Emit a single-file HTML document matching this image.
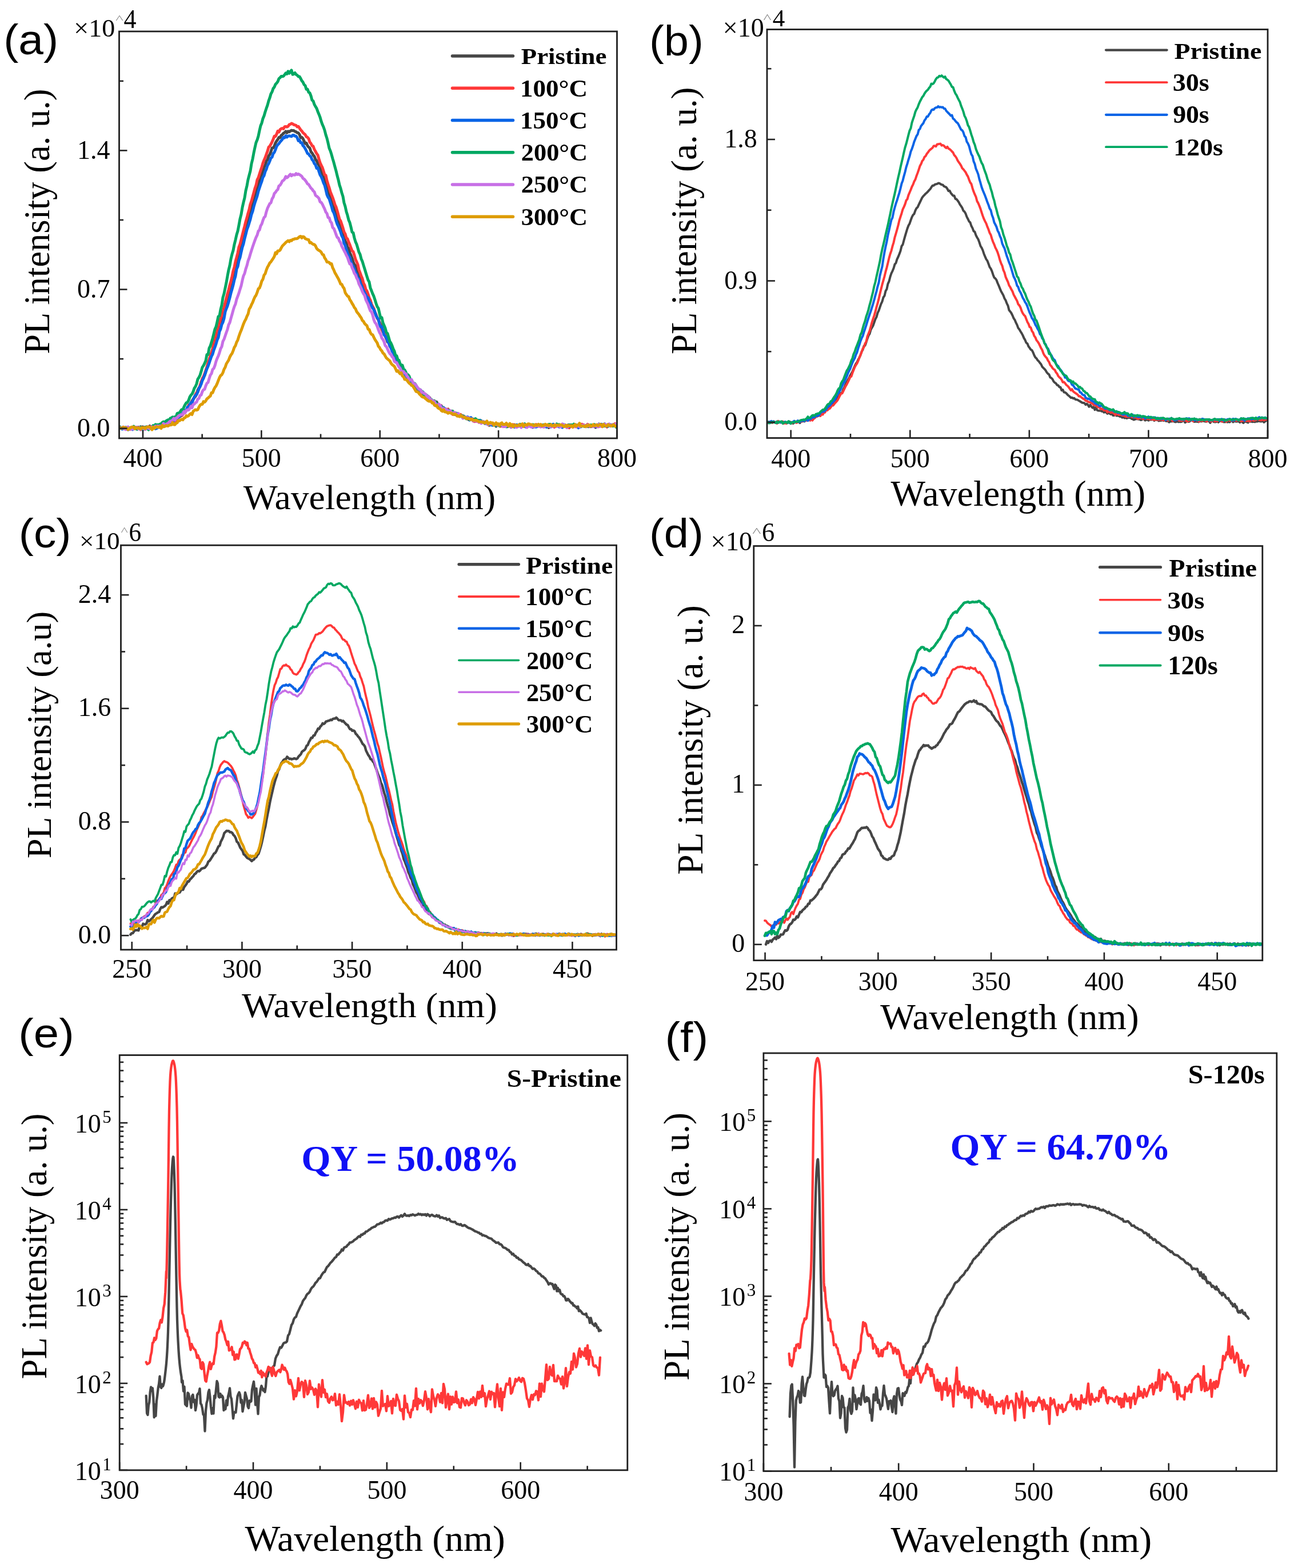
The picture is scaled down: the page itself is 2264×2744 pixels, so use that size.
<!DOCTYPE html>
<html><head><meta charset="utf-8"><title>PL spectra</title>
<style>html,body{margin:0;padding:0;background:#fff;} svg{display:block;}</style></head>
<body><svg xmlns="http://www.w3.org/2000/svg" width="2264" height="2744" viewBox="0 0 2264 2744">
<rect width="2264" height="2744" fill="#fff"/>
<clipPath id="c1"><rect x="208.50" y="55.00" width="871.00" height="712.00"/></clipPath>
<g clip-path="url(#c1)">
<polyline points="210.0,749.3 212.0,749.7 214.0,749.0 216.0,748.2 218.0,748.7 220.0,748.0 222.0,749.4 224.0,751.1 226.0,748.7 228.0,748.5 230.0,750.0 232.0,749.8 234.0,749.5 236.0,748.1 238.0,749.3 240.0,750.2 242.0,747.6 244.0,748.7 246.0,746.8 248.0,747.6 250.0,746.9 252.0,748.9 254.0,747.5 256.0,749.5 258.0,749.2 260.0,748.7 262.0,745.5 264.0,747.9 266.0,748.3 268.0,748.3 270.0,745.9 272.0,747.0 274.0,746.0 276.0,745.9 278.0,747.9 280.0,745.0 282.0,745.6 284.0,746.2 286.0,743.7 288.0,743.7 290.0,743.3 292.0,742.5 294.0,740.0 296.0,740.8 298.0,741.6 300.0,736.8 302.0,738.8 304.0,736.6 306.0,734.4 308.0,736.5 310.0,733.4 312.0,729.3 314.0,729.3 316.0,728.2 318.0,725.4 320.0,724.5 322.0,721.4 324.0,720.2 326.0,718.8 328.0,713.6 330.0,712.1 332.0,708.4 334.0,706.3 336.0,701.4 338.0,698.9 340.0,695.9 342.0,693.6 344.0,690.0 346.0,682.7 348.0,679.0 350.0,676.4 352.0,668.2 354.0,665.2 356.0,660.6 358.0,657.1 360.0,650.9 362.0,643.9 364.0,638.1 366.0,632.3 368.0,628.5 370.0,619.6 372.0,613.4 374.0,607.7 376.0,600.5 378.0,593.8 380.0,586.0 382.0,580.7 384.0,573.5 386.0,568.9 388.0,561.5 390.0,553.9 392.0,547.9 394.0,539.7 396.0,534.5 398.0,525.9 400.0,519.3 402.0,509.4 404.0,503.9 406.0,493.5 408.0,485.2 410.0,479.4 412.0,470.5 414.0,463.8 416.0,458.4 418.0,446.3 420.0,438.6 422.0,431.8 424.0,424.4 426.0,415.9 428.0,408.4 430.0,402.1 432.0,394.4 434.0,385.1 436.0,379.0 438.0,371.9 440.0,363.3 442.0,358.0 444.0,349.5 446.0,345.1 448.0,337.3 450.0,330.6 452.0,323.3 454.0,317.7 456.0,309.2 458.0,304.4 460.0,300.6 462.0,291.8 464.0,290.2 466.0,281.6 468.0,279.9 470.0,273.0 472.0,270.5 474.0,265.3 476.0,259.0 478.0,258.8 480.0,255.4 482.0,250.1 484.0,246.7 486.0,244.1 488.0,240.5 490.0,240.9 492.0,236.8 494.0,235.6 496.0,233.1 498.0,232.0 500.0,230.0 502.0,232.4 504.0,229.8 506.0,230.7 508.0,229.2 510.0,228.1 512.0,228.6 514.0,228.6 516.0,230.0 518.0,230.7 520.0,232.2 522.0,232.6 524.0,235.4 526.0,240.8 528.0,240.3 530.0,242.4 532.0,246.9 534.0,251.1 536.0,250.3 538.0,254.9 540.0,257.5 542.0,259.1 544.0,265.5 546.0,267.8 548.0,271.3 550.0,273.7 552.0,278.9 554.0,281.4 556.0,286.0 558.0,289.1 560.0,293.7 562.0,302.0 564.0,304.8 566.0,311.2 568.0,316.4 570.0,321.6 572.0,327.3 574.0,334.6 576.0,339.3 578.0,345.4 580.0,351.5 582.0,358.9 584.0,364.2 586.0,369.7 588.0,374.4 590.0,379.3 592.0,388.2 594.0,394.1 596.0,398.5 598.0,405.1 600.0,411.1 602.0,416.7 604.0,422.2 606.0,425.6 608.0,433.2 610.0,434.6 612.0,442.2 614.0,446.6 616.0,452.0 618.0,458.4 620.0,463.0 622.0,464.8 624.0,469.3 626.0,477.8 628.0,480.6 630.0,487.0 632.0,493.1 634.0,494.8 636.0,499.0 638.0,506.8 640.0,511.1 642.0,515.3 644.0,520.2 646.0,523.5 648.0,527.0 650.0,533.2 652.0,536.6 654.0,540.1 656.0,547.4 658.0,551.1 660.0,556.3 662.0,559.0 664.0,563.9 666.0,568.0 668.0,572.7 670.0,578.6 672.0,581.8 674.0,587.7 676.0,592.1 678.0,598.6 680.0,598.5 682.0,605.7 684.0,608.5 686.0,612.7 688.0,614.9 690.0,620.1 692.0,625.6 694.0,628.4 696.0,632.4 698.0,635.7 700.0,641.3 702.0,643.4 704.0,644.0 706.0,649.4 708.0,651.0 710.0,652.4 712.0,658.9 714.0,664.1 716.0,665.1 718.0,666.0 720.0,668.6 722.0,673.6 724.0,674.4 726.0,676.3 728.0,678.1 730.0,680.1 732.0,682.9 734.0,684.3 736.0,685.5 738.0,685.5 740.0,689.1 742.0,689.2 744.0,693.0 746.0,691.5 748.0,694.6 750.0,696.3 752.0,696.1 754.0,701.7 756.0,702.9 758.0,701.9 760.0,705.0 762.0,705.9 764.0,703.4 766.0,708.5 768.0,709.4 770.0,710.9 772.0,710.7 774.0,712.9 776.0,714.2 778.0,717.1 780.0,717.1 782.0,717.8 784.0,720.8 786.0,719.1 788.0,720.2 790.0,719.3 792.0,724.6 794.0,724.7 796.0,725.5 798.0,726.0 800.0,726.0 802.0,726.9 804.0,727.0 806.0,727.8 808.0,728.8 810.0,731.4 812.0,730.8 814.0,730.6 816.0,730.5 818.0,731.0 820.0,734.5 822.0,733.6 824.0,733.6 826.0,733.6 828.0,733.2 830.0,735.1 832.0,736.8 834.0,735.7 836.0,736.5 838.0,737.0 840.0,738.0 842.0,736.3 844.0,738.6 846.0,738.3 848.0,741.0 850.0,739.3 852.0,741.5 854.0,743.2 856.0,741.2 858.0,741.2 860.0,742.5 862.0,742.6 864.0,741.6 866.0,743.7 868.0,746.0 870.0,743.2 872.0,743.4 874.0,742.5 876.0,744.4 878.0,742.5 880.0,742.9 882.0,746.1 884.0,743.4 886.0,746.0 888.0,746.7 890.0,745.2 892.0,745.6 894.0,747.5 896.0,744.8 898.0,744.3 900.0,743.4 902.0,745.3 904.0,747.2 906.0,746.5 908.0,744.1 910.0,744.3 912.0,744.7 914.0,745.8 916.0,745.2 918.0,745.7 920.0,745.9 922.0,745.1 924.0,745.4 926.0,745.8 928.0,745.4 930.0,746.2 932.0,747.9 934.0,746.3 936.0,745.6 938.0,743.3 940.0,746.0 942.0,743.0 944.0,743.7 946.0,746.6 948.0,746.4 950.0,745.3 952.0,743.3 954.0,745.0 956.0,744.6 958.0,746.3 960.0,748.4 962.0,745.8 964.0,744.5 966.0,744.0 968.0,745.4 970.0,745.2 972.0,744.0 974.0,745.6 976.0,744.0 978.0,746.9 980.0,746.8 982.0,746.8 984.0,744.8 986.0,746.1 988.0,745.2 990.0,744.9 992.0,744.9 994.0,743.7 996.0,743.5 998.0,746.4 1000.0,745.1 1002.0,745.6 1004.0,746.6 1006.0,743.0 1008.0,744.2 1010.0,745.5 1012.0,745.7 1014.0,744.7 1016.0,746.5 1018.0,745.4 1020.0,743.6 1022.0,743.9 1024.0,746.1 1026.0,745.7 1028.0,742.6 1030.0,746.7 1032.0,745.7 1034.0,746.7 1036.0,744.4 1038.0,744.4 1040.0,743.3 1042.0,748.0 1044.0,744.5 1046.0,746.7 1048.0,743.7 1050.0,744.7 1052.0,742.3 1054.0,743.9 1056.0,745.6 1058.0,742.6 1060.0,745.6 1062.0,744.5 1064.0,742.7 1066.0,743.3 1068.0,743.3 1070.0,743.8 1072.0,743.1 1074.0,742.6 1076.0,743.2 1078.0,742.3" fill="none" stroke="#464646" stroke-width="5.0" stroke-linejoin="round" stroke-linecap="round"/>
<polyline points="210.0,747.6 212.0,749.2 214.0,750.5 216.0,747.3 218.0,749.3 220.0,748.5 222.0,748.1 224.0,750.4 226.0,748.7 228.0,751.3 230.0,748.3 232.0,749.9 234.0,749.1 236.0,748.4 238.0,750.1 240.0,749.1 242.0,750.1 244.0,749.2 246.0,747.9 248.0,749.1 250.0,749.3 252.0,750.5 254.0,748.0 256.0,749.0 258.0,746.8 260.0,749.8 262.0,747.4 264.0,746.3 266.0,748.4 268.0,749.7 270.0,746.1 272.0,746.4 274.0,746.6 276.0,745.8 278.0,747.4 280.0,745.4 282.0,745.1 284.0,746.3 286.0,744.1 288.0,745.0 290.0,742.6 292.0,741.5 294.0,740.0 296.0,743.9 298.0,740.2 300.0,739.9 302.0,738.5 304.0,737.6 306.0,736.2 308.0,737.3 310.0,732.0 312.0,729.8 314.0,728.8 316.0,726.6 318.0,727.4 320.0,725.5 322.0,721.0 324.0,718.2 326.0,717.1 328.0,716.8 330.0,708.6 332.0,710.1 334.0,704.9 336.0,704.5 338.0,698.3 340.0,695.7 342.0,690.3 344.0,687.0 346.0,685.9 348.0,680.7 350.0,674.4 352.0,669.0 354.0,662.5 356.0,659.1 358.0,654.0 360.0,648.1 362.0,642.0 364.0,634.4 366.0,629.1 368.0,622.3 370.0,617.0 372.0,610.5 374.0,600.7 376.0,592.6 378.0,586.3 380.0,578.5 382.0,571.2 384.0,565.2 386.0,556.9 388.0,552.2 390.0,544.3 392.0,537.7 394.0,529.9 396.0,521.9 398.0,514.1 400.0,507.4 402.0,499.2 404.0,492.2 406.0,483.8 408.0,473.9 410.0,467.6 412.0,457.5 414.0,450.3 416.0,442.6 418.0,432.3 420.0,427.2 422.0,419.5 424.0,411.4 426.0,403.4 428.0,395.9 430.0,387.6 432.0,381.0 434.0,373.1 436.0,366.4 438.0,357.3 440.0,351.9 442.0,344.5 444.0,337.1 446.0,329.7 448.0,324.2 450.0,314.7 452.0,311.0 454.0,304.5 456.0,298.4 458.0,292.5 460.0,285.3 462.0,280.2 464.0,275.8 466.0,270.2 468.0,264.7 470.0,257.6 472.0,255.7 474.0,252.3 476.0,248.3 478.0,243.7 480.0,238.3 482.0,238.7 484.0,234.7 486.0,229.3 488.0,231.1 490.0,226.7 492.0,225.2 494.0,224.5 496.0,225.4 498.0,221.8 500.0,221.4 502.0,222.2 504.0,221.0 506.0,218.1 508.0,217.4 510.0,215.9 512.0,216.7 514.0,218.3 516.0,218.8 518.0,219.4 520.0,222.0 522.0,221.3 524.0,224.1 526.0,227.2 528.0,229.2 530.0,232.2 532.0,233.9 534.0,235.6 536.0,239.2 538.0,240.3 540.0,242.6 542.0,248.6 544.0,251.1 546.0,255.0 548.0,256.0 550.0,261.4 552.0,265.0 554.0,268.7 556.0,271.2 558.0,278.3 560.0,284.7 562.0,289.1 564.0,293.1 566.0,299.3 568.0,305.8 570.0,306.8 572.0,316.0 574.0,322.5 576.0,328.5 578.0,335.6 580.0,340.7 582.0,345.6 584.0,351.5 586.0,358.0 588.0,362.3 590.0,368.9 592.0,376.2 594.0,383.5 596.0,386.8 598.0,392.8 600.0,398.9 602.0,405.9 604.0,409.5 606.0,416.4 608.0,418.0 610.0,423.5 612.0,428.0 614.0,433.8 616.0,438.8 618.0,440.5 620.0,446.6 622.0,453.8 624.0,458.2 626.0,462.9 628.0,472.1 630.0,477.3 632.0,483.1 634.0,487.6 636.0,495.3 638.0,499.2 640.0,506.5 642.0,509.3 644.0,514.7 646.0,521.3 648.0,525.4 650.0,532.2 652.0,536.7 654.0,540.2 656.0,546.4 658.0,550.6 660.0,557.0 662.0,559.7 664.0,564.6 666.0,571.3 668.0,577.1 670.0,581.2 672.0,583.0 674.0,587.5 676.0,593.4 678.0,595.3 680.0,598.3 682.0,603.7 684.0,608.1 686.0,610.4 688.0,613.2 690.0,617.4 692.0,624.0 694.0,626.0 696.0,630.6 698.0,634.9 700.0,639.2 702.0,641.7 704.0,646.4 706.0,648.0 708.0,652.1 710.0,654.4 712.0,660.3 714.0,661.7 716.0,663.5 718.0,666.5 720.0,669.1 722.0,672.6 724.0,671.8 726.0,674.6 728.0,677.4 730.0,683.1 732.0,682.9 734.0,683.2 736.0,686.0 738.0,689.4 740.0,688.1 742.0,689.5 744.0,693.1 746.0,693.8 748.0,695.6 750.0,695.6 752.0,700.4 754.0,701.7 756.0,701.7 758.0,703.4 760.0,701.4 762.0,706.3 764.0,706.6 766.0,708.8 768.0,710.4 770.0,710.4 772.0,709.9 774.0,713.8 776.0,713.5 778.0,715.2 780.0,715.9 782.0,717.3 784.0,715.8 786.0,721.4 788.0,721.1 790.0,723.1 792.0,725.2 794.0,723.5 796.0,722.0 798.0,723.9 800.0,724.3 802.0,726.0 804.0,727.5 806.0,725.5 808.0,729.2 810.0,727.5 812.0,730.4 814.0,730.5 816.0,730.9 818.0,731.7 820.0,731.7 822.0,732.2 824.0,731.3 826.0,734.0 828.0,737.0 830.0,737.7 832.0,737.4 834.0,737.2 836.0,735.9 838.0,739.2 840.0,737.8 842.0,738.3 844.0,738.5 846.0,739.5 848.0,739.3 850.0,740.3 852.0,739.4 854.0,740.8 856.0,744.6 858.0,741.9 860.0,742.0 862.0,743.3 864.0,743.8 866.0,741.7 868.0,743.1 870.0,744.7 872.0,744.0 874.0,744.0 876.0,746.0 878.0,743.2 880.0,744.3 882.0,743.7 884.0,746.4 886.0,742.0 888.0,743.8 890.0,744.1 892.0,745.7 894.0,745.7 896.0,746.8 898.0,743.0 900.0,746.1 902.0,744.8 904.0,744.3 906.0,745.9 908.0,744.1 910.0,742.6 912.0,744.8 914.0,743.4 916.0,744.5 918.0,745.9 920.0,745.8 922.0,747.5 924.0,745.2 926.0,743.5 928.0,744.5 930.0,744.3 932.0,743.9 934.0,746.1 936.0,744.7 938.0,742.9 940.0,746.4 942.0,745.4 944.0,746.0 946.0,745.6 948.0,746.3 950.0,745.6 952.0,747.1 954.0,746.1 956.0,746.0 958.0,746.0 960.0,743.6 962.0,745.3 964.0,745.1 966.0,745.7 968.0,743.7 970.0,747.6 972.0,745.6 974.0,743.9 976.0,743.2 978.0,745.1 980.0,745.3 982.0,744.5 984.0,745.5 986.0,744.6 988.0,746.1 990.0,744.4 992.0,745.3 994.0,746.6 996.0,748.7 998.0,744.0 1000.0,744.7 1002.0,744.2 1004.0,746.3 1006.0,743.8 1008.0,744.6 1010.0,745.2 1012.0,743.9 1014.0,744.0 1016.0,744.6 1018.0,742.4 1020.0,743.2 1022.0,744.6 1024.0,745.3 1026.0,744.8 1028.0,742.7 1030.0,744.4 1032.0,746.0 1034.0,745.6 1036.0,744.8 1038.0,743.7 1040.0,745.6 1042.0,744.0 1044.0,743.2 1046.0,743.6 1048.0,746.5 1050.0,744.8 1052.0,746.0 1054.0,743.8 1056.0,745.5 1058.0,743.5 1060.0,744.0 1062.0,747.3 1064.0,745.0 1066.0,743.3 1068.0,743.8 1070.0,744.2 1072.0,745.3 1074.0,743.1 1076.0,741.4 1078.0,743.2" fill="none" stroke="#ff3838" stroke-width="5.0" stroke-linejoin="round" stroke-linecap="round"/>
<polyline points="210.0,749.3 212.0,749.5 214.0,751.0 216.0,749.7 218.0,750.4 220.0,747.9 222.0,750.5 224.0,752.1 226.0,750.3 228.0,749.7 230.0,749.6 232.0,751.7 234.0,748.2 236.0,749.2 238.0,750.0 240.0,750.3 242.0,748.8 244.0,749.7 246.0,749.0 248.0,749.5 250.0,749.1 252.0,747.8 254.0,749.2 256.0,750.3 258.0,747.8 260.0,748.6 262.0,749.6 264.0,747.2 266.0,748.6 268.0,746.7 270.0,749.2 272.0,750.4 274.0,749.7 276.0,746.4 278.0,747.2 280.0,745.9 282.0,745.4 284.0,746.7 286.0,742.3 288.0,744.7 290.0,742.6 292.0,743.7 294.0,741.2 296.0,739.2 298.0,739.5 300.0,739.0 302.0,737.0 304.0,736.4 306.0,733.8 308.0,730.3 310.0,732.8 312.0,731.0 314.0,728.7 316.0,726.8 318.0,726.2 320.0,722.4 322.0,720.0 324.0,718.5 326.0,718.0 328.0,712.2 330.0,713.0 332.0,707.9 334.0,704.5 336.0,704.5 338.0,699.5 340.0,694.6 342.0,692.2 344.0,690.0 346.0,686.3 348.0,679.9 350.0,676.5 352.0,672.3 354.0,665.7 356.0,662.1 358.0,656.5 360.0,650.7 362.0,645.5 364.0,640.9 366.0,635.4 368.0,629.1 370.0,623.6 372.0,619.9 374.0,612.8 376.0,607.6 378.0,601.9 380.0,594.9 382.0,590.7 384.0,580.2 386.0,575.9 388.0,567.9 390.0,564.1 392.0,557.2 394.0,545.7 396.0,540.2 398.0,535.4 400.0,528.5 402.0,521.2 404.0,512.8 406.0,506.0 408.0,498.6 410.0,489.7 412.0,483.2 414.0,470.8 416.0,466.5 418.0,456.2 420.0,450.7 422.0,441.3 424.0,432.6 426.0,426.6 428.0,417.5 430.0,410.1 432.0,401.9 434.0,396.7 436.0,390.3 438.0,383.8 440.0,375.3 442.0,369.9 444.0,361.6 446.0,354.7 448.0,348.9 450.0,343.0 452.0,334.8 454.0,328.7 456.0,322.8 458.0,317.3 460.0,310.3 462.0,307.3 464.0,300.2 466.0,296.2 468.0,289.6 470.0,286.4 472.0,281.8 474.0,276.3 476.0,275.1 478.0,268.8 480.0,266.6 482.0,261.8 484.0,256.2 486.0,253.3 488.0,251.4 490.0,248.4 492.0,246.2 494.0,243.8 496.0,240.3 498.0,241.1 500.0,237.5 502.0,240.1 504.0,238.1 506.0,237.8 508.0,238.2 510.0,238.8 512.0,236.6 514.0,236.5 516.0,238.2 518.0,238.2 520.0,241.1 522.0,246.3 524.0,245.0 526.0,249.7 528.0,249.7 530.0,254.7 532.0,256.8 534.0,260.2 536.0,264.0 538.0,268.6 540.0,269.6 542.0,272.6 544.0,274.3 546.0,279.4 548.0,281.5 550.0,286.2 552.0,288.4 554.0,294.4 556.0,293.5 558.0,299.9 560.0,306.0 562.0,309.3 564.0,313.9 566.0,320.0 568.0,324.2 570.0,331.9 572.0,340.8 574.0,345.1 576.0,348.1 578.0,354.4 580.0,360.9 582.0,368.7 584.0,372.3 586.0,378.3 588.0,386.3 590.0,392.1 592.0,396.3 594.0,401.1 596.0,406.2 598.0,412.9 600.0,416.5 602.0,425.9 604.0,429.5 606.0,436.4 608.0,443.5 610.0,447.9 612.0,450.1 614.0,457.9 616.0,463.4 618.0,465.9 620.0,470.7 622.0,476.7 624.0,479.6 626.0,488.3 628.0,487.9 630.0,494.1 632.0,499.5 634.0,503.8 636.0,508.4 638.0,512.5 640.0,515.7 642.0,521.3 644.0,520.9 646.0,527.4 648.0,530.3 650.0,535.3 652.0,539.3 654.0,541.8 656.0,546.3 658.0,552.4 660.0,556.1 662.0,559.1 664.0,567.1 666.0,572.0 668.0,571.7 670.0,578.6 672.0,586.0 674.0,588.4 676.0,592.2 678.0,596.2 680.0,600.2 682.0,605.0 684.0,608.8 686.0,614.7 688.0,617.4 690.0,621.4 692.0,624.3 694.0,629.7 696.0,632.4 698.0,637.1 700.0,642.3 702.0,644.9 704.0,648.5 706.0,651.6 708.0,654.4 710.0,657.2 712.0,659.8 714.0,663.9 716.0,664.1 718.0,669.6 720.0,670.2 722.0,671.4 724.0,673.8 726.0,675.6 728.0,678.6 730.0,679.2 732.0,683.4 734.0,682.6 736.0,682.4 738.0,686.0 740.0,685.9 742.0,690.1 744.0,693.0 746.0,694.1 748.0,693.0 750.0,695.3 752.0,700.2 754.0,699.8 756.0,700.9 758.0,703.8 760.0,707.1 762.0,707.0 764.0,707.0 766.0,708.6 768.0,710.3 770.0,710.0 772.0,710.7 774.0,713.3 776.0,713.2 778.0,715.5 780.0,716.8 782.0,720.8 784.0,717.7 786.0,719.6 788.0,720.5 790.0,722.2 792.0,723.9 794.0,722.8 796.0,723.2 798.0,722.9 800.0,724.7 802.0,727.3 804.0,727.4 806.0,726.7 808.0,728.3 810.0,729.4 812.0,730.7 814.0,729.9 816.0,730.9 818.0,729.5 820.0,730.9 822.0,735.1 824.0,730.7 826.0,733.6 828.0,734.9 830.0,734.7 832.0,734.6 834.0,736.2 836.0,736.8 838.0,737.2 840.0,735.4 842.0,738.2 844.0,737.8 846.0,738.7 848.0,740.2 850.0,741.2 852.0,741.9 854.0,740.5 856.0,742.8 858.0,743.5 860.0,743.8 862.0,744.4 864.0,742.7 866.0,742.9 868.0,744.4 870.0,741.8 872.0,744.0 874.0,743.2 876.0,743.6 878.0,742.0 880.0,743.2 882.0,744.5 884.0,745.8 886.0,746.0 888.0,744.7 890.0,744.6 892.0,743.9 894.0,745.6 896.0,744.8 898.0,746.0 900.0,747.5 902.0,745.2 904.0,743.4 906.0,744.2 908.0,743.5 910.0,743.9 912.0,747.1 914.0,745.8 916.0,743.5 918.0,746.4 920.0,747.2 922.0,745.1 924.0,744.7 926.0,745.1 928.0,745.9 930.0,746.4 932.0,747.1 934.0,747.1 936.0,747.1 938.0,747.3 940.0,746.4 942.0,743.5 944.0,745.3 946.0,745.9 948.0,745.0 950.0,746.7 952.0,745.0 954.0,744.3 956.0,747.4 958.0,746.4 960.0,745.8 962.0,746.7 964.0,746.9 966.0,745.9 968.0,742.3 970.0,744.6 972.0,744.9 974.0,744.2 976.0,745.7 978.0,747.0 980.0,744.8 982.0,744.0 984.0,748.1 986.0,744.8 988.0,743.8 990.0,745.7 992.0,745.9 994.0,744.5 996.0,746.4 998.0,744.7 1000.0,744.1 1002.0,745.6 1004.0,746.3 1006.0,744.5 1008.0,745.7 1010.0,745.1 1012.0,748.9 1014.0,744.3 1016.0,747.0 1018.0,745.1 1020.0,745.0 1022.0,746.1 1024.0,746.2 1026.0,746.7 1028.0,745.5 1030.0,744.2 1032.0,744.3 1034.0,745.6 1036.0,745.6 1038.0,746.6 1040.0,745.3 1042.0,746.1 1044.0,746.6 1046.0,744.8 1048.0,742.6 1050.0,743.0 1052.0,742.6 1054.0,746.4 1056.0,743.2 1058.0,745.8 1060.0,744.9 1062.0,746.3 1064.0,745.3 1066.0,743.8 1068.0,743.6 1070.0,743.9 1072.0,744.0 1074.0,743.0 1076.0,743.6 1078.0,745.7" fill="none" stroke="#0a64e6" stroke-width="5.0" stroke-linejoin="round" stroke-linecap="round"/>
<polyline points="210.0,747.1 212.0,749.7 214.0,748.1 216.0,749.6 218.0,750.4 220.0,749.2 222.0,750.3 224.0,747.3 226.0,750.8 228.0,748.6 230.0,750.2 232.0,749.6 234.0,746.0 236.0,748.4 238.0,749.7 240.0,751.4 242.0,749.8 244.0,749.7 246.0,747.6 248.0,751.3 250.0,751.8 252.0,749.4 254.0,749.0 256.0,747.0 258.0,750.0 260.0,752.0 262.0,749.0 264.0,749.1 266.0,747.4 268.0,744.7 270.0,746.9 272.0,742.8 274.0,743.4 276.0,743.3 278.0,743.4 280.0,742.2 282.0,741.5 284.0,739.4 286.0,738.0 288.0,739.1 290.0,737.3 292.0,735.7 294.0,734.8 296.0,734.8 298.0,731.9 300.0,731.4 302.0,729.7 304.0,730.6 306.0,729.4 308.0,729.8 310.0,723.5 312.0,722.7 314.0,722.7 316.0,719.1 318.0,716.7 320.0,717.0 322.0,711.8 324.0,708.0 326.0,704.9 328.0,704.0 330.0,700.6 332.0,694.9 334.0,691.6 336.0,689.6 338.0,685.4 340.0,679.4 342.0,676.4 344.0,671.6 346.0,663.7 348.0,660.6 350.0,656.5 352.0,650.1 354.0,642.8 356.0,639.9 358.0,635.8 360.0,631.2 362.0,620.5 364.0,620.6 366.0,609.4 368.0,605.5 370.0,599.1 372.0,592.1 374.0,584.3 376.0,576.1 378.0,571.9 380.0,563.3 382.0,553.8 384.0,552.9 386.0,541.6 388.0,533.8 390.0,520.6 392.0,513.9 394.0,504.3 396.0,494.6 398.0,483.2 400.0,472.5 402.0,464.7 404.0,453.1 406.0,444.8 408.0,438.2 410.0,427.8 412.0,419.8 414.0,410.7 416.0,404.2 418.0,394.1 420.0,383.0 422.0,375.2 424.0,363.1 426.0,354.1 428.0,346.1 430.0,333.7 432.0,325.3 434.0,314.4 436.0,306.7 438.0,299.1 440.0,286.5 442.0,278.3 444.0,267.6 446.0,258.2 448.0,249.5 450.0,244.8 452.0,238.2 454.0,228.5 456.0,220.0 458.0,215.2 460.0,207.5 462.0,202.7 464.0,195.8 466.0,189.7 468.0,184.1 470.0,176.7 472.0,171.2 474.0,164.2 476.0,160.8 478.0,154.9 480.0,152.4 482.0,147.5 484.0,145.5 486.0,142.8 488.0,137.6 490.0,135.9 492.0,133.5 494.0,133.8 496.0,133.3 498.0,130.7 500.0,128.0 502.0,129.4 504.0,124.8 506.0,128.3 508.0,125.4 510.0,122.9 512.0,130.3 514.0,129.6 516.0,127.4 518.0,130.4 520.0,131.6 522.0,133.9 524.0,133.9 526.0,137.3 528.0,141.3 530.0,143.7 532.0,148.0 534.0,149.8 536.0,156.3 538.0,156.1 540.0,161.4 542.0,162.7 544.0,167.7 546.0,175.3 548.0,176.7 550.0,182.8 552.0,186.4 554.0,189.6 556.0,195.2 558.0,199.9 560.0,205.1 562.0,212.2 564.0,217.8 566.0,222.2 568.0,228.0 570.0,235.9 572.0,242.0 574.0,250.2 576.0,259.3 578.0,264.1 580.0,270.3 582.0,277.6 584.0,284.3 586.0,291.8 588.0,299.2 590.0,307.5 592.0,314.9 594.0,323.9 596.0,329.8 598.0,337.5 600.0,343.7 602.0,355.0 604.0,361.2 606.0,370.5 608.0,376.8 610.0,384.9 612.0,389.6 614.0,397.4 616.0,406.3 618.0,407.2 620.0,416.4 622.0,423.1 624.0,427.5 626.0,434.2 628.0,441.2 630.0,445.1 632.0,452.9 634.0,457.5 636.0,464.1 638.0,470.4 640.0,477.2 642.0,483.7 644.0,490.1 646.0,493.6 648.0,504.0 650.0,508.8 652.0,514.1 654.0,518.4 656.0,524.6 658.0,531.1 660.0,536.6 662.0,539.5 664.0,548.3 666.0,556.7 668.0,555.8 670.0,565.0 672.0,569.6 674.0,574.3 676.0,581.6 678.0,583.5 680.0,590.5 682.0,597.5 684.0,600.4 686.0,605.1 688.0,610.7 690.0,614.6 692.0,621.8 694.0,622.8 696.0,629.3 698.0,630.4 700.0,636.6 702.0,639.1 704.0,639.1 706.0,645.8 708.0,647.4 710.0,651.2 712.0,656.7 714.0,655.9 716.0,658.6 718.0,664.5 720.0,665.3 722.0,669.7 724.0,670.5 726.0,671.3 728.0,674.6 730.0,678.6 732.0,680.4 734.0,681.2 736.0,683.4 738.0,685.1 740.0,686.4 742.0,691.7 744.0,690.9 746.0,691.2 748.0,693.8 750.0,697.1 752.0,698.6 754.0,699.1 756.0,700.0 758.0,702.4 760.0,701.6 762.0,703.5 764.0,707.6 766.0,707.2 768.0,709.7 770.0,712.0 772.0,712.5 774.0,712.8 776.0,716.8 778.0,716.0 780.0,715.7 782.0,718.2 784.0,718.8 786.0,718.2 788.0,720.4 790.0,721.0 792.0,719.5 794.0,722.8 796.0,723.5 798.0,724.2 800.0,723.4 802.0,725.9 804.0,727.1 806.0,728.0 808.0,727.0 810.0,730.1 812.0,728.3 814.0,730.2 816.0,732.9 818.0,730.8 820.0,731.7 822.0,734.4 824.0,733.0 826.0,733.6 828.0,734.9 830.0,736.5 832.0,732.7 834.0,735.0 836.0,735.3 838.0,735.7 840.0,736.5 842.0,737.0 844.0,739.1 846.0,738.0 848.0,739.8 850.0,740.7 852.0,739.6 854.0,741.3 856.0,743.7 858.0,742.4 860.0,741.6 862.0,742.7 864.0,742.0 866.0,743.8 868.0,744.9 870.0,742.8 872.0,743.7 874.0,745.6 876.0,743.5 878.0,744.4 880.0,742.8 882.0,743.1 884.0,743.5 886.0,747.0 888.0,743.6 890.0,743.5 892.0,743.4 894.0,743.9 896.0,745.0 898.0,744.4 900.0,746.9 902.0,744.5 904.0,746.1 906.0,744.6 908.0,745.1 910.0,742.4 912.0,744.2 914.0,744.3 916.0,744.1 918.0,741.6 920.0,745.6 922.0,744.0 924.0,743.9 926.0,744.2 928.0,744.2 930.0,745.1 932.0,742.9 934.0,743.4 936.0,745.0 938.0,744.8 940.0,744.1 942.0,743.9 944.0,743.6 946.0,744.6 948.0,746.2 950.0,743.3 952.0,746.6 954.0,745.8 956.0,744.1 958.0,745.7 960.0,742.8 962.0,742.4 964.0,743.0 966.0,744.2 968.0,744.3 970.0,744.0 972.0,744.8 974.0,741.9 976.0,745.3 978.0,742.9 980.0,743.8 982.0,744.2 984.0,743.2 986.0,742.9 988.0,743.4 990.0,744.7 992.0,745.5 994.0,745.4 996.0,743.4 998.0,743.7 1000.0,743.5 1002.0,745.3 1004.0,742.1 1006.0,746.3 1008.0,744.1 1010.0,743.7 1012.0,745.1 1014.0,746.0 1016.0,745.1 1018.0,746.1 1020.0,744.9 1022.0,746.3 1024.0,746.3 1026.0,744.6 1028.0,746.6 1030.0,744.9 1032.0,744.8 1034.0,743.5 1036.0,744.3 1038.0,745.7 1040.0,743.0 1042.0,745.5 1044.0,745.1 1046.0,745.0 1048.0,741.8 1050.0,744.5 1052.0,745.5 1054.0,743.7 1056.0,744.8 1058.0,741.6 1060.0,745.5 1062.0,743.8 1064.0,745.8 1066.0,742.3 1068.0,745.6 1070.0,744.4 1072.0,745.7 1074.0,743.5 1076.0,743.9 1078.0,747.6" fill="none" stroke="#00a862" stroke-width="5.0" stroke-linejoin="round" stroke-linecap="round"/>
<polyline points="210.0,748.3 212.0,748.4 214.0,749.0 216.0,748.0 218.0,750.9 220.0,751.6 222.0,748.4 224.0,747.1 226.0,750.9 228.0,750.8 230.0,750.4 232.0,750.9 234.0,748.2 236.0,749.1 238.0,747.6 240.0,747.5 242.0,750.6 244.0,748.5 246.0,752.3 248.0,749.4 250.0,748.5 252.0,750.3 254.0,751.6 256.0,749.8 258.0,747.4 260.0,749.4 262.0,750.5 264.0,747.8 266.0,747.2 268.0,749.2 270.0,747.7 272.0,745.7 274.0,746.2 276.0,745.2 278.0,746.0 280.0,745.2 282.0,746.0 284.0,744.8 286.0,741.1 288.0,743.0 290.0,742.8 292.0,741.5 294.0,741.3 296.0,738.4 298.0,736.9 300.0,738.4 302.0,734.7 304.0,732.2 306.0,735.2 308.0,731.7 310.0,731.0 312.0,728.3 314.0,727.0 316.0,725.8 318.0,725.5 320.0,724.9 322.0,720.0 324.0,722.5 326.0,718.4 328.0,717.0 330.0,717.6 332.0,714.9 334.0,711.2 336.0,713.6 338.0,708.0 340.0,707.2 342.0,704.7 344.0,703.7 346.0,698.5 348.0,697.4 350.0,692.0 352.0,691.1 354.0,685.1 356.0,682.0 358.0,681.1 360.0,675.1 362.0,670.8 364.0,669.3 366.0,662.5 368.0,656.4 370.0,653.8 372.0,646.6 374.0,644.7 376.0,639.8 378.0,632.4 380.0,627.1 382.0,622.8 384.0,617.1 386.0,610.2 388.0,606.6 390.0,597.4 392.0,593.6 394.0,587.7 396.0,581.9 398.0,576.5 400.0,568.3 402.0,564.5 404.0,557.2 406.0,550.2 408.0,542.8 410.0,536.5 412.0,532.0 414.0,523.7 416.0,518.4 418.0,512.9 420.0,506.1 422.0,500.0 424.0,490.7 426.0,482.7 428.0,478.5 430.0,470.6 432.0,464.8 434.0,456.6 436.0,451.5 438.0,444.6 440.0,438.2 442.0,432.0 444.0,426.2 446.0,420.6 448.0,415.3 450.0,411.3 452.0,404.4 454.0,402.5 456.0,395.3 458.0,392.0 460.0,385.7 462.0,380.6 464.0,378.7 466.0,370.7 468.0,364.5 470.0,360.4 472.0,356.2 474.0,354.9 476.0,348.1 478.0,344.9 480.0,338.5 482.0,336.6 484.0,333.5 486.0,331.7 488.0,325.3 490.0,324.1 492.0,321.0 494.0,316.7 496.0,315.7 498.0,313.3 500.0,308.8 502.0,311.0 504.0,309.5 506.0,307.0 508.0,304.9 510.0,307.7 512.0,305.6 514.0,306.1 516.0,306.3 518.0,303.7 520.0,305.4 522.0,304.5 524.0,305.6 526.0,306.8 528.0,308.6 530.0,312.1 532.0,313.3 534.0,315.5 536.0,318.2 538.0,321.7 540.0,322.9 542.0,326.0 544.0,329.2 546.0,331.0 548.0,334.0 550.0,335.8 552.0,341.7 554.0,343.3 556.0,344.9 558.0,347.1 560.0,353.2 562.0,354.2 564.0,357.3 566.0,361.6 568.0,365.6 570.0,371.1 572.0,373.5 574.0,380.6 576.0,381.1 578.0,387.6 580.0,389.9 582.0,398.1 584.0,399.8 586.0,404.7 588.0,410.5 590.0,415.4 592.0,416.7 594.0,422.0 596.0,424.8 598.0,430.9 600.0,434.7 602.0,438.5 604.0,442.2 606.0,446.7 608.0,450.5 610.0,456.4 612.0,462.0 614.0,461.8 616.0,468.6 618.0,472.6 620.0,478.3 622.0,480.9 624.0,486.5 626.0,490.0 628.0,496.8 630.0,500.7 632.0,505.0 634.0,510.3 636.0,514.1 638.0,517.0 640.0,524.4 642.0,528.7 644.0,532.7 646.0,538.9 648.0,544.0 650.0,545.9 652.0,551.3 654.0,559.4 656.0,564.4 658.0,566.7 660.0,571.2 662.0,576.9 664.0,581.9 666.0,585.1 668.0,591.6 670.0,594.1 672.0,598.2 674.0,604.8 676.0,606.5 678.0,610.8 680.0,615.2 682.0,618.8 684.0,620.6 686.0,624.3 688.0,626.3 690.0,632.6 692.0,634.1 694.0,634.6 696.0,638.7 698.0,642.2 700.0,644.4 702.0,648.5 704.0,650.3 706.0,650.1 708.0,653.0 710.0,653.8 712.0,658.1 714.0,660.3 716.0,665.9 718.0,664.8 720.0,664.2 722.0,668.3 724.0,671.5 726.0,671.9 728.0,674.5 730.0,677.3 732.0,680.2 734.0,681.5 736.0,682.5 738.0,686.6 740.0,686.7 742.0,688.6 744.0,689.2 746.0,691.7 748.0,695.3 750.0,694.0 752.0,697.6 754.0,700.2 756.0,700.4 758.0,702.7 760.0,702.4 762.0,707.0 764.0,708.2 766.0,708.4 768.0,707.2 770.0,709.4 772.0,713.3 774.0,715.5 776.0,714.8 778.0,717.2 780.0,715.9 782.0,717.5 784.0,718.8 786.0,720.3 788.0,718.8 790.0,722.9 792.0,724.3 794.0,721.9 796.0,722.5 798.0,725.5 800.0,725.0 802.0,723.5 804.0,728.4 806.0,728.2 808.0,728.1 810.0,732.1 812.0,730.2 814.0,729.6 816.0,731.4 818.0,730.5 820.0,731.4 822.0,733.5 824.0,732.8 826.0,733.5 828.0,736.8 830.0,736.3 832.0,736.8 834.0,737.0 836.0,737.5 838.0,739.3 840.0,737.9 842.0,740.9 844.0,737.7 846.0,739.1 848.0,738.1 850.0,740.0 852.0,741.5 854.0,743.1 856.0,740.8 858.0,742.0 860.0,741.8 862.0,741.7 864.0,741.3 866.0,743.2 868.0,741.1 870.0,743.7 872.0,743.7 874.0,743.0 876.0,742.7 878.0,742.3 880.0,746.7 882.0,742.6 884.0,746.5 886.0,745.4 888.0,744.2 890.0,743.3 892.0,746.2 894.0,747.2 896.0,743.8 898.0,744.7 900.0,746.5 902.0,745.6 904.0,747.8 906.0,744.5 908.0,746.0 910.0,743.7 912.0,748.1 914.0,744.4 916.0,742.5 918.0,745.3 920.0,745.3 922.0,748.0 924.0,745.0 926.0,745.5 928.0,746.3 930.0,747.6 932.0,745.4 934.0,746.9 936.0,746.2 938.0,745.1 940.0,745.6 942.0,745.5 944.0,744.3 946.0,747.1 948.0,743.7 950.0,747.0 952.0,746.7 954.0,745.4 956.0,744.5 958.0,745.2 960.0,746.1 962.0,746.5 964.0,745.9 966.0,746.8 968.0,744.7 970.0,745.8 972.0,743.4 974.0,746.4 976.0,745.6 978.0,744.9 980.0,746.9 982.0,746.3 984.0,741.8 986.0,745.5 988.0,743.5 990.0,746.8 992.0,748.6 994.0,744.7 996.0,745.4 998.0,745.0 1000.0,745.8 1002.0,746.1 1004.0,747.0 1006.0,744.0 1008.0,747.3 1010.0,744.0 1012.0,745.6 1014.0,746.7 1016.0,746.1 1018.0,743.9 1020.0,744.2 1022.0,744.5 1024.0,745.0 1026.0,746.5 1028.0,743.3 1030.0,745.6 1032.0,745.7 1034.0,745.6 1036.0,745.5 1038.0,746.8 1040.0,745.4 1042.0,745.9 1044.0,745.4 1046.0,747.0 1048.0,742.1 1050.0,746.2 1052.0,744.1 1054.0,744.0 1056.0,743.1 1058.0,741.8 1060.0,743.7 1062.0,743.2 1064.0,744.7 1066.0,742.0 1068.0,745.8 1070.0,744.2 1072.0,743.4 1074.0,742.8 1076.0,742.6 1078.0,742.1" fill="none" stroke="#c76fe6" stroke-width="5.0" stroke-linejoin="round" stroke-linecap="round"/>
<polyline points="210.0,748.6 212.0,749.3 214.0,749.1 216.0,747.5 218.0,749.0 220.0,748.2 222.0,749.6 224.0,751.8 226.0,750.2 228.0,748.9 230.0,747.2 232.0,747.5 234.0,747.1 236.0,750.3 238.0,748.3 240.0,749.4 242.0,748.5 244.0,749.4 246.0,751.1 248.0,748.3 250.0,748.7 252.0,748.1 254.0,750.2 256.0,747.7 258.0,747.5 260.0,747.1 262.0,747.0 264.0,749.3 266.0,752.0 268.0,747.2 270.0,749.6 272.0,748.6 274.0,746.6 276.0,747.5 278.0,747.4 280.0,746.5 282.0,749.6 284.0,744.3 286.0,746.9 288.0,746.5 290.0,744.8 292.0,745.3 294.0,745.6 296.0,744.1 298.0,743.8 300.0,743.5 302.0,739.2 304.0,743.0 306.0,743.2 308.0,740.7 310.0,739.8 312.0,735.7 314.0,736.5 316.0,734.6 318.0,733.8 320.0,734.8 322.0,731.4 324.0,731.1 326.0,727.5 328.0,728.5 330.0,727.5 332.0,725.1 334.0,723.6 336.0,725.5 338.0,719.8 340.0,718.3 342.0,716.9 344.0,717.7 346.0,716.9 348.0,712.6 350.0,709.2 352.0,707.5 354.0,707.4 356.0,702.7 358.0,703.7 360.0,701.6 362.0,697.9 364.0,696.6 366.0,694.5 368.0,693.2 370.0,687.2 372.0,687.3 374.0,682.0 376.0,678.1 378.0,675.5 380.0,671.1 382.0,665.9 384.0,660.8 386.0,657.2 388.0,655.9 390.0,652.1 392.0,646.2 394.0,642.8 396.0,636.7 398.0,633.5 400.0,630.4 402.0,625.0 404.0,621.3 406.0,618.6 408.0,613.6 410.0,607.9 412.0,604.8 414.0,598.8 416.0,595.1 418.0,588.5 420.0,582.8 422.0,578.1 424.0,572.6 426.0,566.9 428.0,562.2 430.0,558.8 432.0,553.7 434.0,549.7 436.0,541.0 438.0,537.9 440.0,533.2 442.0,529.3 444.0,524.0 446.0,519.5 448.0,516.7 450.0,511.6 452.0,505.4 454.0,504.0 456.0,498.8 458.0,491.8 460.0,488.6 462.0,481.5 464.0,479.0 466.0,472.6 468.0,467.5 470.0,464.2 472.0,460.1 474.0,458.2 476.0,455.2 478.0,452.2 480.0,448.7 482.0,442.0 484.0,444.2 486.0,439.0 488.0,439.1 490.0,437.7 492.0,434.0 494.0,430.6 496.0,428.6 498.0,426.6 500.0,424.3 502.0,422.8 504.0,421.2 506.0,423.0 508.0,420.6 510.0,421.2 512.0,419.0 514.0,418.8 516.0,417.7 518.0,417.8 520.0,417.5 522.0,416.1 524.0,414.2 526.0,413.5 528.0,416.4 530.0,414.1 532.0,414.6 534.0,417.7 536.0,418.4 538.0,419.1 540.0,419.5 542.0,424.9 544.0,424.2 546.0,426.4 548.0,427.5 550.0,428.0 552.0,430.2 554.0,434.7 556.0,436.9 558.0,438.3 560.0,439.4 562.0,441.3 564.0,445.1 566.0,445.9 568.0,451.3 570.0,454.0 572.0,458.6 574.0,458.6 576.0,459.4 578.0,461.9 580.0,461.5 582.0,468.5 584.0,472.4 586.0,477.4 588.0,480.6 590.0,484.4 592.0,487.7 594.0,492.1 596.0,497.0 598.0,497.6 600.0,502.1 602.0,504.6 604.0,512.1 606.0,515.3 608.0,518.1 610.0,519.0 612.0,524.3 614.0,527.2 616.0,531.0 618.0,534.0 620.0,538.3 622.0,540.4 624.0,545.4 626.0,547.8 628.0,550.3 630.0,553.6 632.0,556.3 634.0,560.9 636.0,562.5 638.0,566.2 640.0,568.3 642.0,569.9 644.0,576.1 646.0,576.7 648.0,582.2 650.0,585.1 652.0,585.8 654.0,590.1 656.0,594.1 658.0,597.2 660.0,600.1 662.0,606.0 664.0,608.0 666.0,612.0 668.0,614.0 670.0,617.9 672.0,619.3 674.0,623.0 676.0,626.4 678.0,628.2 680.0,629.9 682.0,631.5 684.0,635.4 686.0,638.0 688.0,639.5 690.0,641.1 692.0,645.1 694.0,649.9 696.0,648.6 698.0,651.7 700.0,654.0 702.0,652.3 704.0,658.0 706.0,659.1 708.0,664.0 710.0,664.0 712.0,665.4 714.0,668.2 716.0,670.8 718.0,671.9 720.0,674.6 722.0,674.9 724.0,678.4 726.0,681.7 728.0,685.2 730.0,685.5 732.0,686.9 734.0,689.9 736.0,691.5 738.0,694.1 740.0,695.1 742.0,695.2 744.0,697.3 746.0,698.8 748.0,700.6 750.0,702.0 752.0,702.2 754.0,702.0 756.0,705.3 758.0,704.9 760.0,709.0 762.0,710.2 764.0,709.3 766.0,713.6 768.0,715.1 770.0,715.3 772.0,718.4 774.0,719.8 776.0,716.8 778.0,720.7 780.0,720.9 782.0,721.7 784.0,723.3 786.0,721.9 788.0,722.8 790.0,723.3 792.0,724.1 794.0,725.6 796.0,724.4 798.0,725.6 800.0,728.3 802.0,728.0 804.0,729.1 806.0,726.7 808.0,728.6 810.0,729.4 812.0,730.7 814.0,730.3 816.0,732.8 818.0,732.0 820.0,732.5 822.0,733.0 824.0,734.4 826.0,733.3 828.0,735.8 830.0,735.5 832.0,735.5 834.0,735.8 836.0,736.9 838.0,738.0 840.0,738.4 842.0,738.1 844.0,739.1 846.0,738.6 848.0,740.4 850.0,739.2 852.0,736.9 854.0,741.7 856.0,740.4 858.0,739.1 860.0,740.6 862.0,740.0 864.0,744.1 866.0,742.3 868.0,739.8 870.0,742.8 872.0,741.7 874.0,744.9 876.0,741.2 878.0,739.9 880.0,743.0 882.0,742.6 884.0,742.7 886.0,740.5 888.0,744.0 890.0,745.7 892.0,741.1 894.0,745.2 896.0,743.0 898.0,746.9 900.0,744.5 902.0,743.7 904.0,745.4 906.0,744.7 908.0,743.2 910.0,744.9 912.0,743.3 914.0,741.6 916.0,746.5 918.0,743.4 920.0,743.0 922.0,744.2 924.0,741.7 926.0,742.0 928.0,743.1 930.0,743.0 932.0,743.8 934.0,745.2 936.0,743.1 938.0,744.4 940.0,744.6 942.0,742.4 944.0,744.2 946.0,742.7 948.0,745.3 950.0,744.5 952.0,744.0 954.0,742.3 956.0,744.2 958.0,743.1 960.0,745.0 962.0,744.0 964.0,743.1 966.0,745.4 968.0,745.1 970.0,743.5 972.0,745.8 974.0,743.9 976.0,743.9 978.0,744.5 980.0,743.3 982.0,743.8 984.0,744.1 986.0,746.4 988.0,746.3 990.0,744.1 992.0,746.5 994.0,744.4 996.0,744.9 998.0,745.6 1000.0,744.8 1002.0,747.6 1004.0,744.8 1006.0,742.9 1008.0,746.2 1010.0,744.0 1012.0,744.1 1014.0,740.6 1016.0,745.8 1018.0,745.6 1020.0,745.6 1022.0,745.8 1024.0,746.7 1026.0,744.5 1028.0,745.8 1030.0,743.6 1032.0,744.1 1034.0,745.9 1036.0,745.1 1038.0,742.8 1040.0,745.1 1042.0,744.4 1044.0,743.5 1046.0,745.2 1048.0,744.1 1050.0,742.6 1052.0,743.2 1054.0,746.9 1056.0,742.6 1058.0,744.9 1060.0,745.4 1062.0,745.4 1064.0,743.0 1066.0,744.2 1068.0,744.8 1070.0,745.7 1072.0,743.8 1074.0,743.1 1076.0,745.9 1078.0,746.1" fill="none" stroke="#de9c00" stroke-width="5.0" stroke-linejoin="round" stroke-linecap="round"/>
</g>
<clipPath id="c2"><rect x="1342.00" y="51.50" width="876.00" height="715.00"/></clipPath>
<g clip-path="url(#c2)">
<polyline points="1343.5,739.5 1345.5,738.5 1347.5,739.5 1349.5,739.2 1351.5,739.9 1353.5,737.8 1355.5,739.2 1357.5,738.9 1359.5,737.9 1361.5,739.3 1363.5,739.1 1365.5,738.7 1367.5,739.5 1369.5,737.7 1371.5,739.1 1373.5,739.6 1375.5,739.4 1377.5,740.3 1379.5,738.0 1381.5,737.7 1383.5,739.5 1385.5,739.6 1387.5,741.2 1389.5,739.6 1391.5,737.9 1393.5,739.4 1395.5,737.5 1397.5,736.5 1399.5,740.2 1401.5,737.5 1403.5,737.5 1405.5,736.8 1407.5,737.5 1409.5,735.5 1411.5,735.8 1413.5,732.9 1415.5,731.9 1417.5,734.0 1419.5,733.3 1421.5,731.5 1423.5,730.3 1425.5,729.4 1427.5,727.6 1429.5,728.8 1431.5,726.8 1433.5,725.6 1435.5,724.3 1437.5,723.7 1439.5,721.8 1441.5,720.7 1443.5,717.3 1445.5,717.5 1447.5,717.6 1449.5,713.2 1451.5,711.9 1453.5,711.0 1455.5,709.1 1457.5,706.7 1459.5,702.2 1461.5,702.0 1463.5,697.7 1465.5,695.4 1467.5,693.9 1469.5,690.0 1471.5,687.9 1473.5,687.0 1475.5,681.2 1477.5,677.7 1479.5,672.5 1481.5,669.1 1483.5,664.9 1485.5,661.7 1487.5,657.2 1489.5,653.7 1491.5,650.2 1493.5,645.3 1495.5,640.7 1497.5,636.6 1499.5,634.1 1501.5,629.3 1503.5,625.9 1505.5,621.5 1507.5,615.6 1509.5,612.1 1511.5,605.5 1513.5,604.6 1515.5,599.0 1517.5,592.9 1519.5,587.3 1521.5,584.1 1523.5,577.1 1525.5,573.4 1527.5,570.0 1529.5,564.3 1531.5,558.6 1533.5,554.9 1535.5,547.7 1537.5,543.7 1539.5,537.6 1541.5,531.8 1543.5,527.6 1545.5,520.5 1547.5,517.7 1549.5,509.3 1551.5,505.9 1553.5,496.7 1555.5,492.3 1557.5,484.4 1559.5,478.3 1561.5,474.3 1563.5,469.5 1565.5,462.6 1567.5,460.3 1569.5,453.6 1571.5,449.5 1573.5,444.5 1575.5,439.1 1577.5,430.7 1579.5,428.0 1581.5,420.6 1583.5,413.4 1585.5,406.6 1587.5,400.0 1589.5,394.7 1591.5,391.2 1593.5,385.3 1595.5,379.9 1597.5,376.1 1599.5,374.2 1601.5,368.4 1603.5,364.4 1605.5,362.6 1607.5,358.1 1609.5,354.0 1611.5,349.9 1613.5,345.7 1615.5,343.1 1617.5,341.1 1619.5,338.9 1621.5,337.2 1623.5,335.3 1625.5,332.9 1627.5,330.9 1629.5,327.7 1631.5,324.8 1633.5,324.8 1635.5,323.0 1637.5,322.3 1639.5,321.9 1641.5,320.6 1643.5,320.7 1645.5,322.1 1647.5,323.1 1649.5,323.5 1651.5,325.9 1653.5,326.8 1655.5,327.6 1657.5,330.5 1659.5,334.3 1661.5,333.7 1663.5,337.7 1665.5,340.1 1667.5,342.5 1669.5,342.5 1671.5,347.8 1673.5,348.6 1675.5,351.0 1677.5,353.9 1679.5,357.9 1681.5,360.6 1683.5,363.8 1685.5,368.8 1687.5,370.4 1689.5,373.8 1691.5,379.4 1693.5,383.2 1695.5,387.5 1697.5,389.3 1699.5,395.5 1701.5,399.1 1703.5,404.5 1705.5,405.8 1707.5,411.6 1709.5,415.5 1711.5,418.7 1713.5,424.1 1715.5,430.5 1717.5,433.6 1719.5,438.0 1721.5,444.2 1723.5,449.0 1725.5,453.6 1727.5,456.4 1729.5,461.7 1731.5,467.4 1733.5,470.2 1735.5,474.6 1737.5,480.7 1739.5,485.8 1741.5,487.4 1743.5,490.2 1745.5,495.5 1747.5,500.0 1749.5,505.0 1751.5,509.8 1753.5,513.2 1755.5,516.9 1757.5,522.2 1759.5,525.5 1761.5,530.9 1763.5,534.8 1765.5,542.7 1767.5,545.2 1769.5,548.0 1771.5,552.1 1773.5,556.9 1775.5,559.8 1777.5,564.7 1779.5,568.6 1781.5,574.1 1783.5,576.6 1785.5,580.0 1787.5,583.1 1789.5,586.9 1791.5,591.6 1793.5,594.9 1795.5,599.7 1797.5,601.3 1799.5,606.3 1801.5,608.8 1803.5,611.8 1805.5,612.9 1807.5,616.7 1809.5,621.8 1811.5,625.5 1813.5,627.2 1815.5,630.6 1817.5,632.3 1819.5,635.1 1821.5,637.5 1823.5,641.8 1825.5,643.8 1827.5,645.8 1829.5,648.3 1831.5,651.7 1833.5,654.0 1835.5,655.4 1837.5,660.4 1839.5,661.5 1841.5,663.7 1843.5,667.6 1845.5,669.6 1847.5,670.9 1849.5,673.9 1851.5,674.5 1853.5,677.2 1855.5,677.7 1857.5,683.2 1859.5,682.1 1861.5,686.5 1863.5,686.7 1865.5,688.1 1867.5,690.4 1869.5,692.2 1871.5,693.8 1873.5,696.0 1875.5,695.7 1877.5,697.2 1879.5,696.7 1881.5,699.0 1883.5,699.4 1885.5,699.8 1887.5,701.2 1889.5,702.2 1891.5,703.5 1893.5,704.8 1895.5,704.9 1897.5,705.7 1899.5,708.2 1901.5,706.7 1903.5,708.7 1905.5,711.8 1907.5,708.5 1909.5,711.4 1911.5,713.6 1913.5,712.1 1915.5,717.2 1917.5,712.9 1919.5,717.7 1921.5,718.6 1923.5,718.8 1925.5,718.4 1927.5,719.7 1929.5,719.2 1931.5,721.7 1933.5,720.4 1935.5,721.9 1937.5,723.9 1939.5,722.4 1941.5,723.8 1943.5,724.9 1945.5,724.0 1947.5,727.1 1949.5,726.9 1951.5,725.6 1953.5,727.6 1955.5,727.3 1957.5,727.9 1959.5,729.1 1961.5,728.7 1963.5,730.8 1965.5,729.5 1967.5,731.5 1969.5,730.8 1971.5,732.0 1973.5,730.8 1975.5,731.1 1977.5,730.7 1979.5,732.7 1981.5,733.2 1983.5,734.6 1985.5,734.0 1987.5,733.2 1989.5,732.9 1991.5,733.7 1993.5,733.4 1995.5,735.1 1997.5,734.7 1999.5,733.1 2001.5,733.4 2003.5,735.6 2005.5,734.7 2007.5,734.3 2009.5,735.8 2011.5,734.4 2013.5,734.6 2015.5,734.6 2017.5,733.2 2019.5,736.2 2021.5,734.2 2023.5,735.0 2025.5,735.0 2027.5,736.6 2029.5,735.9 2031.5,736.1 2033.5,734.5 2035.5,736.2 2037.5,734.9 2039.5,736.8 2041.5,737.0 2043.5,736.7 2045.5,738.9 2047.5,737.4 2049.5,737.6 2051.5,737.2 2053.5,736.9 2055.5,738.2 2057.5,738.4 2059.5,736.0 2061.5,738.4 2063.5,738.0 2065.5,738.4 2067.5,738.0 2069.5,736.3 2071.5,736.4 2073.5,739.4 2075.5,737.9 2077.5,736.2 2079.5,738.0 2081.5,737.3 2083.5,735.9 2085.5,735.4 2087.5,736.1 2089.5,738.0 2091.5,737.7 2093.5,737.5 2095.5,738.1 2097.5,738.4 2099.5,735.7 2101.5,737.5 2103.5,737.0 2105.5,736.6 2107.5,737.3 2109.5,737.7 2111.5,737.6 2113.5,736.4 2115.5,737.4 2117.5,739.9 2119.5,736.8 2121.5,736.2 2123.5,738.2 2125.5,738.5 2127.5,738.4 2129.5,736.8 2131.5,738.9 2133.5,737.1 2135.5,736.8 2137.5,737.3 2139.5,737.8 2141.5,738.6 2143.5,738.5 2145.5,737.9 2147.5,738.8 2149.5,738.0 2151.5,738.8 2153.5,736.5 2155.5,736.3 2157.5,738.6 2159.5,736.5 2161.5,737.6 2163.5,737.8 2165.5,737.4 2167.5,737.4 2169.5,739.2 2171.5,735.3 2173.5,738.7 2175.5,740.1 2177.5,737.8 2179.5,737.8 2181.5,738.5 2183.5,739.6 2185.5,736.6 2187.5,737.8 2189.5,737.5 2191.5,738.3 2193.5,737.9 2195.5,738.4 2197.5,737.3 2199.5,737.7 2201.5,737.0 2203.5,737.0 2205.5,737.5 2207.5,737.4 2209.5,736.3 2211.5,739.0 2213.5,737.3 2215.5,736.0" fill="none" stroke="#464646" stroke-width="4.0" stroke-linejoin="round" stroke-linecap="round"/>
<polyline points="1343.5,740.1 1345.5,738.3 1347.5,739.5 1349.5,739.0 1351.5,739.3 1353.5,739.2 1355.5,738.4 1357.5,739.1 1359.5,741.1 1361.5,736.8 1363.5,739.1 1365.5,739.5 1367.5,738.0 1369.5,737.7 1371.5,741.2 1373.5,738.7 1375.5,741.2 1377.5,739.6 1379.5,739.2 1381.5,739.6 1383.5,739.7 1385.5,740.2 1387.5,739.4 1389.5,739.0 1391.5,738.9 1393.5,739.9 1395.5,739.2 1397.5,737.1 1399.5,737.2 1401.5,737.9 1403.5,736.6 1405.5,736.4 1407.5,735.5 1409.5,735.7 1411.5,735.9 1413.5,736.0 1415.5,734.4 1417.5,735.9 1419.5,733.1 1421.5,735.7 1423.5,732.8 1425.5,731.5 1427.5,729.6 1429.5,726.4 1431.5,728.1 1433.5,727.4 1435.5,728.0 1437.5,723.6 1439.5,725.6 1441.5,722.1 1443.5,721.7 1445.5,717.0 1447.5,718.1 1449.5,715.9 1451.5,715.2 1453.5,712.8 1455.5,709.6 1457.5,709.6 1459.5,707.2 1461.5,704.8 1463.5,702.7 1465.5,700.2 1467.5,696.3 1469.5,692.1 1471.5,688.9 1473.5,688.4 1475.5,684.3 1477.5,680.2 1479.5,675.9 1481.5,672.6 1483.5,668.7 1485.5,664.3 1487.5,659.9 1489.5,658.7 1491.5,652.6 1493.5,647.6 1495.5,642.6 1497.5,638.9 1499.5,635.9 1501.5,631.5 1503.5,625.9 1505.5,621.4 1507.5,616.2 1509.5,610.3 1511.5,607.6 1513.5,601.3 1515.5,598.0 1517.5,589.1 1519.5,584.0 1521.5,579.1 1523.5,571.8 1525.5,564.3 1527.5,558.2 1529.5,552.4 1531.5,545.4 1533.5,537.5 1535.5,530.8 1537.5,522.9 1539.5,514.3 1541.5,506.0 1543.5,497.9 1545.5,490.9 1547.5,483.7 1549.5,475.4 1551.5,468.3 1553.5,460.1 1555.5,451.6 1557.5,444.5 1559.5,438.8 1561.5,430.9 1563.5,424.5 1565.5,415.4 1567.5,408.7 1569.5,401.7 1571.5,394.2 1573.5,385.6 1575.5,379.4 1577.5,373.3 1579.5,366.3 1581.5,362.1 1583.5,357.4 1585.5,350.8 1587.5,348.4 1589.5,341.4 1591.5,336.8 1593.5,332.0 1595.5,326.7 1597.5,322.9 1599.5,317.5 1601.5,314.0 1603.5,307.9 1605.5,302.6 1607.5,296.8 1609.5,290.6 1611.5,287.1 1613.5,281.8 1615.5,279.5 1617.5,274.7 1619.5,273.1 1621.5,269.3 1623.5,266.8 1625.5,263.9 1627.5,261.8 1629.5,260.3 1631.5,258.7 1633.5,255.5 1635.5,255.2 1637.5,256.3 1639.5,252.8 1641.5,252.3 1643.5,251.9 1645.5,251.5 1647.5,254.6 1649.5,254.0 1651.5,255.0 1653.5,257.4 1655.5,259.1 1657.5,256.8 1659.5,260.0 1661.5,261.1 1663.5,262.7 1665.5,265.0 1667.5,267.0 1669.5,271.4 1671.5,273.5 1673.5,276.5 1675.5,280.8 1677.5,283.8 1679.5,286.7 1681.5,289.8 1683.5,294.4 1685.5,296.3 1687.5,298.9 1689.5,301.5 1691.5,305.6 1693.5,308.9 1695.5,314.4 1697.5,319.3 1699.5,322.0 1701.5,329.3 1703.5,335.3 1705.5,340.2 1707.5,344.5 1709.5,352.1 1711.5,355.4 1713.5,360.2 1715.5,365.5 1717.5,371.8 1719.5,377.9 1721.5,383.2 1723.5,387.4 1725.5,391.1 1727.5,396.8 1729.5,401.6 1731.5,407.5 1733.5,411.0 1735.5,417.9 1737.5,423.5 1739.5,427.8 1741.5,433.4 1743.5,437.1 1745.5,441.8 1747.5,448.0 1749.5,455.3 1751.5,460.8 1753.5,465.1 1755.5,472.7 1757.5,477.0 1759.5,484.6 1761.5,489.1 1763.5,493.4 1765.5,499.5 1767.5,502.5 1769.5,506.6 1771.5,510.0 1773.5,515.6 1775.5,519.2 1777.5,523.0 1779.5,526.6 1781.5,532.4 1783.5,534.5 1785.5,538.2 1787.5,544.2 1789.5,548.3 1791.5,551.2 1793.5,553.1 1795.5,558.2 1797.5,563.4 1799.5,566.8 1801.5,572.3 1803.5,573.3 1805.5,579.4 1807.5,582.0 1809.5,587.9 1811.5,590.5 1813.5,595.5 1815.5,597.8 1817.5,600.9 1819.5,605.0 1821.5,609.3 1823.5,612.6 1825.5,618.4 1827.5,622.1 1829.5,624.6 1831.5,626.7 1833.5,630.9 1835.5,633.6 1837.5,638.9 1839.5,640.9 1841.5,644.1 1843.5,646.1 1845.5,647.4 1847.5,651.5 1849.5,653.9 1851.5,658.0 1853.5,660.3 1855.5,661.8 1857.5,664.6 1859.5,668.9 1861.5,668.6 1863.5,670.7 1865.5,673.5 1867.5,675.0 1869.5,677.2 1871.5,680.0 1873.5,683.0 1875.5,681.2 1877.5,684.7 1879.5,686.4 1881.5,687.8 1883.5,689.2 1885.5,690.6 1887.5,693.4 1889.5,693.3 1891.5,695.0 1893.5,696.5 1895.5,697.9 1897.5,698.9 1899.5,701.3 1901.5,701.6 1903.5,702.9 1905.5,703.9 1907.5,704.1 1909.5,705.4 1911.5,706.2 1913.5,708.6 1915.5,708.7 1917.5,709.4 1919.5,711.7 1921.5,712.9 1923.5,711.6 1925.5,716.0 1927.5,715.2 1929.5,715.9 1931.5,718.0 1933.5,717.8 1935.5,717.9 1937.5,721.5 1939.5,718.9 1941.5,720.6 1943.5,722.2 1945.5,721.0 1947.5,722.5 1949.5,723.6 1951.5,726.2 1953.5,723.4 1955.5,724.8 1957.5,726.0 1959.5,725.9 1961.5,725.0 1963.5,727.1 1965.5,727.2 1967.5,727.9 1969.5,729.0 1971.5,729.2 1973.5,729.0 1975.5,729.2 1977.5,728.1 1979.5,729.4 1981.5,730.1 1983.5,729.7 1985.5,730.5 1987.5,729.8 1989.5,732.5 1991.5,733.3 1993.5,731.0 1995.5,732.0 1997.5,731.6 1999.5,733.3 2001.5,732.7 2003.5,732.5 2005.5,732.4 2007.5,732.9 2009.5,731.9 2011.5,733.8 2013.5,732.5 2015.5,733.9 2017.5,733.7 2019.5,734.8 2021.5,733.8 2023.5,734.9 2025.5,733.1 2027.5,734.7 2029.5,734.0 2031.5,734.5 2033.5,734.5 2035.5,735.5 2037.5,732.6 2039.5,735.0 2041.5,733.3 2043.5,736.0 2045.5,732.9 2047.5,734.0 2049.5,733.4 2051.5,736.7 2053.5,733.9 2055.5,735.3 2057.5,734.7 2059.5,733.5 2061.5,735.0 2063.5,736.1 2065.5,735.3 2067.5,736.4 2069.5,735.2 2071.5,735.6 2073.5,735.2 2075.5,736.0 2077.5,737.6 2079.5,736.1 2081.5,735.9 2083.5,735.1 2085.5,735.0 2087.5,737.3 2089.5,734.7 2091.5,734.9 2093.5,735.8 2095.5,735.5 2097.5,737.8 2099.5,733.5 2101.5,736.3 2103.5,736.6 2105.5,734.8 2107.5,735.3 2109.5,736.4 2111.5,737.6 2113.5,735.1 2115.5,734.4 2117.5,737.0 2119.5,737.5 2121.5,735.7 2123.5,733.8 2125.5,737.5 2127.5,735.8 2129.5,737.2 2131.5,736.0 2133.5,735.7 2135.5,735.6 2137.5,737.5 2139.5,737.5 2141.5,733.9 2143.5,735.1 2145.5,737.8 2147.5,735.7 2149.5,734.7 2151.5,736.0 2153.5,735.9 2155.5,735.9 2157.5,735.5 2159.5,735.7 2161.5,735.5 2163.5,736.3 2165.5,735.1 2167.5,735.6 2169.5,735.8 2171.5,737.2 2173.5,736.2 2175.5,735.7 2177.5,736.3 2179.5,736.1 2181.5,736.7 2183.5,736.0 2185.5,737.2 2187.5,736.7 2189.5,735.2 2191.5,734.8 2193.5,736.0 2195.5,735.5 2197.5,734.8 2199.5,733.3 2201.5,732.9 2203.5,735.0 2205.5,735.3 2207.5,735.2 2209.5,733.1 2211.5,735.3 2213.5,733.7 2215.5,734.5" fill="none" stroke="#ff3838" stroke-width="4.0" stroke-linejoin="round" stroke-linecap="round"/>
<polyline points="1343.5,739.5 1345.5,738.2 1347.5,738.4 1349.5,736.9 1351.5,738.1 1353.5,737.2 1355.5,739.5 1357.5,739.1 1359.5,739.9 1361.5,739.4 1363.5,738.4 1365.5,739.4 1367.5,738.7 1369.5,739.7 1371.5,739.4 1373.5,738.1 1375.5,739.1 1377.5,739.2 1379.5,738.9 1381.5,740.1 1383.5,740.9 1385.5,738.7 1387.5,738.7 1389.5,736.7 1391.5,738.6 1393.5,738.1 1395.5,736.2 1397.5,738.3 1399.5,738.3 1401.5,736.6 1403.5,736.6 1405.5,735.5 1407.5,736.8 1409.5,733.9 1411.5,734.6 1413.5,736.2 1415.5,733.7 1417.5,733.4 1419.5,732.0 1421.5,730.1 1423.5,730.4 1425.5,729.9 1427.5,727.5 1429.5,727.8 1431.5,727.5 1433.5,726.1 1435.5,722.2 1437.5,721.4 1439.5,719.3 1441.5,720.4 1443.5,718.3 1445.5,716.7 1447.5,713.2 1449.5,711.0 1451.5,710.1 1453.5,707.9 1455.5,704.6 1457.5,703.1 1459.5,700.9 1461.5,697.6 1463.5,693.3 1465.5,688.9 1467.5,687.2 1469.5,683.9 1471.5,679.6 1473.5,675.4 1475.5,671.0 1477.5,668.2 1479.5,663.1 1481.5,658.9 1483.5,653.4 1485.5,649.2 1487.5,645.4 1489.5,639.5 1491.5,634.4 1493.5,630.4 1495.5,626.8 1497.5,620.6 1499.5,616.5 1501.5,609.4 1503.5,603.6 1505.5,596.9 1507.5,591.9 1509.5,588.1 1511.5,581.1 1513.5,575.5 1515.5,569.4 1517.5,562.6 1519.5,556.3 1521.5,550.4 1523.5,544.7 1525.5,538.2 1527.5,531.8 1529.5,524.8 1531.5,516.9 1533.5,510.0 1535.5,501.3 1537.5,494.7 1539.5,482.3 1541.5,474.3 1543.5,466.5 1545.5,453.0 1547.5,441.3 1549.5,431.7 1551.5,422.7 1553.5,411.3 1555.5,402.8 1557.5,393.5 1559.5,384.9 1561.5,380.8 1563.5,370.5 1565.5,363.0 1567.5,356.2 1569.5,350.4 1571.5,343.7 1573.5,337.3 1575.5,329.8 1577.5,321.3 1579.5,316.1 1581.5,308.1 1583.5,301.0 1585.5,292.6 1587.5,286.4 1589.5,279.3 1591.5,273.2 1593.5,265.3 1595.5,260.5 1597.5,254.7 1599.5,247.9 1601.5,243.1 1603.5,238.0 1605.5,235.2 1607.5,227.5 1609.5,225.6 1611.5,220.4 1613.5,217.9 1615.5,215.6 1617.5,210.7 1619.5,208.2 1621.5,204.1 1623.5,203.9 1625.5,200.1 1627.5,197.8 1629.5,193.2 1631.5,191.4 1633.5,192.0 1635.5,189.4 1637.5,188.2 1639.5,188.1 1641.5,186.0 1643.5,187.8 1645.5,187.2 1647.5,187.9 1649.5,187.5 1651.5,189.9 1653.5,190.3 1655.5,193.8 1657.5,196.0 1659.5,198.0 1661.5,200.0 1663.5,202.5 1665.5,201.6 1667.5,207.6 1669.5,208.9 1671.5,211.7 1673.5,213.8 1675.5,215.3 1677.5,218.8 1679.5,222.9 1681.5,226.8 1683.5,228.1 1685.5,231.6 1687.5,238.0 1689.5,240.1 1691.5,247.9 1693.5,251.0 1695.5,255.6 1697.5,263.2 1699.5,270.0 1701.5,273.1 1703.5,282.4 1705.5,287.0 1707.5,295.3 1709.5,299.9 1711.5,305.1 1713.5,313.6 1715.5,320.2 1717.5,327.5 1719.5,333.0 1721.5,337.8 1723.5,342.6 1725.5,348.0 1727.5,353.8 1729.5,358.7 1731.5,364.8 1733.5,367.9 1735.5,376.1 1737.5,381.3 1739.5,389.3 1741.5,393.0 1743.5,397.1 1745.5,403.6 1747.5,407.2 1749.5,413.2 1751.5,417.4 1753.5,426.1 1755.5,430.7 1757.5,434.5 1759.5,441.2 1761.5,448.0 1763.5,453.4 1765.5,459.3 1767.5,464.1 1769.5,470.5 1771.5,477.3 1773.5,484.0 1775.5,487.8 1777.5,492.8 1779.5,499.9 1781.5,502.3 1783.5,508.5 1785.5,511.7 1787.5,516.3 1789.5,521.2 1791.5,524.4 1793.5,528.7 1795.5,531.4 1797.5,536.1 1799.5,541.9 1801.5,547.2 1803.5,551.5 1805.5,556.8 1807.5,559.1 1809.5,563.3 1811.5,568.3 1813.5,571.4 1815.5,575.5 1817.5,578.6 1819.5,584.7 1821.5,586.6 1823.5,592.2 1825.5,594.3 1827.5,600.8 1829.5,602.6 1831.5,608.4 1833.5,609.8 1835.5,614.7 1837.5,620.0 1839.5,621.7 1841.5,626.0 1843.5,628.9 1845.5,630.4 1847.5,636.2 1849.5,639.4 1851.5,640.9 1853.5,645.5 1855.5,647.0 1857.5,649.6 1859.5,653.3 1861.5,655.2 1863.5,660.8 1865.5,659.4 1867.5,664.2 1869.5,666.8 1871.5,666.2 1873.5,668.7 1875.5,673.2 1877.5,674.2 1879.5,677.2 1881.5,680.0 1883.5,680.4 1885.5,681.6 1887.5,681.8 1889.5,686.5 1891.5,687.1 1893.5,690.0 1895.5,691.5 1897.5,691.5 1899.5,696.1 1901.5,697.0 1903.5,698.2 1905.5,697.5 1907.5,699.6 1909.5,700.8 1911.5,702.2 1913.5,702.7 1915.5,705.4 1917.5,706.4 1919.5,707.6 1921.5,707.8 1923.5,710.6 1925.5,710.5 1927.5,708.6 1929.5,711.6 1931.5,713.1 1933.5,715.0 1935.5,714.6 1937.5,715.5 1939.5,715.8 1941.5,717.9 1943.5,717.5 1945.5,718.1 1947.5,718.6 1949.5,720.6 1951.5,720.1 1953.5,719.6 1955.5,722.5 1957.5,721.7 1959.5,723.3 1961.5,723.8 1963.5,725.2 1965.5,725.5 1967.5,724.3 1969.5,725.2 1971.5,724.4 1973.5,727.8 1975.5,727.0 1977.5,728.3 1979.5,726.9 1981.5,725.5 1983.5,729.4 1985.5,728.3 1987.5,728.6 1989.5,728.8 1991.5,729.6 1993.5,729.8 1995.5,727.9 1997.5,730.8 1999.5,729.4 2001.5,729.7 2003.5,732.1 2005.5,731.4 2007.5,730.4 2009.5,729.0 2011.5,731.2 2013.5,731.7 2015.5,731.3 2017.5,730.3 2019.5,730.9 2021.5,730.5 2023.5,732.1 2025.5,732.9 2027.5,733.2 2029.5,731.5 2031.5,732.6 2033.5,733.0 2035.5,732.1 2037.5,732.5 2039.5,734.9 2041.5,733.1 2043.5,733.8 2045.5,732.6 2047.5,733.1 2049.5,731.5 2051.5,733.2 2053.5,734.5 2055.5,735.5 2057.5,734.6 2059.5,734.2 2061.5,733.6 2063.5,733.0 2065.5,733.5 2067.5,734.3 2069.5,733.0 2071.5,734.7 2073.5,732.8 2075.5,732.1 2077.5,732.9 2079.5,732.3 2081.5,732.6 2083.5,735.1 2085.5,733.8 2087.5,734.3 2089.5,735.2 2091.5,735.3 2093.5,733.6 2095.5,735.5 2097.5,734.5 2099.5,734.2 2101.5,734.6 2103.5,732.8 2105.5,733.4 2107.5,734.1 2109.5,734.8 2111.5,733.9 2113.5,734.1 2115.5,735.2 2117.5,735.7 2119.5,735.0 2121.5,735.5 2123.5,733.8 2125.5,733.9 2127.5,734.6 2129.5,733.9 2131.5,733.7 2133.5,735.9 2135.5,734.0 2137.5,733.2 2139.5,734.7 2141.5,736.0 2143.5,734.3 2145.5,735.4 2147.5,733.7 2149.5,733.6 2151.5,733.4 2153.5,734.0 2155.5,735.9 2157.5,732.9 2159.5,735.7 2161.5,733.0 2163.5,733.7 2165.5,734.8 2167.5,734.5 2169.5,734.1 2171.5,732.1 2173.5,734.1 2175.5,732.6 2177.5,736.1 2179.5,733.2 2181.5,733.5 2183.5,732.1 2185.5,732.6 2187.5,731.7 2189.5,733.9 2191.5,732.5 2193.5,733.2 2195.5,731.8 2197.5,731.8 2199.5,733.5 2201.5,731.1 2203.5,730.1 2205.5,732.2 2207.5,730.5 2209.5,731.1 2211.5,732.3 2213.5,730.5 2215.5,732.1" fill="none" stroke="#0a64e6" stroke-width="4.0" stroke-linejoin="round" stroke-linecap="round"/>
<polyline points="1343.5,738.4 1345.5,740.5 1347.5,740.3 1349.5,738.5 1351.5,738.8 1353.5,738.2 1355.5,739.2 1357.5,740.2 1359.5,737.6 1361.5,740.0 1363.5,737.7 1365.5,738.2 1367.5,737.3 1369.5,741.2 1371.5,739.2 1373.5,739.4 1375.5,738.5 1377.5,740.3 1379.5,737.1 1381.5,739.2 1383.5,741.4 1385.5,738.7 1387.5,739.0 1389.5,739.4 1391.5,737.6 1393.5,738.0 1395.5,738.4 1397.5,737.0 1399.5,736.5 1401.5,735.1 1403.5,735.1 1405.5,734.2 1407.5,735.0 1409.5,733.6 1411.5,732.1 1413.5,729.2 1415.5,731.7 1417.5,731.0 1419.5,728.6 1421.5,726.7 1423.5,726.6 1425.5,727.7 1427.5,724.6 1429.5,724.1 1431.5,723.5 1433.5,723.2 1435.5,720.5 1437.5,718.9 1439.5,716.9 1441.5,717.3 1443.5,714.9 1445.5,711.8 1447.5,708.5 1449.5,706.9 1451.5,706.0 1453.5,702.2 1455.5,701.2 1457.5,697.8 1459.5,694.7 1461.5,691.8 1463.5,688.2 1465.5,683.2 1467.5,679.9 1469.5,678.6 1471.5,670.9 1473.5,667.3 1475.5,664.5 1477.5,658.9 1479.5,653.8 1481.5,648.7 1483.5,645.9 1485.5,641.7 1487.5,637.2 1489.5,630.9 1491.5,626.8 1493.5,619.5 1495.5,615.3 1497.5,609.0 1499.5,604.2 1501.5,599.1 1503.5,593.6 1505.5,585.7 1507.5,582.0 1509.5,574.2 1511.5,567.4 1513.5,561.9 1515.5,553.9 1517.5,548.5 1519.5,541.7 1521.5,533.8 1523.5,526.9 1525.5,518.2 1527.5,510.4 1529.5,500.7 1531.5,493.7 1533.5,484.1 1535.5,475.4 1537.5,466.4 1539.5,457.2 1541.5,445.8 1543.5,436.3 1545.5,428.2 1547.5,419.7 1549.5,410.6 1551.5,402.2 1553.5,393.8 1555.5,384.2 1557.5,374.8 1559.5,364.9 1561.5,355.9 1563.5,347.2 1565.5,338.7 1567.5,329.4 1569.5,319.9 1571.5,310.6 1573.5,302.3 1575.5,292.9 1577.5,284.3 1579.5,275.8 1581.5,266.6 1583.5,258.1 1585.5,251.7 1587.5,244.0 1589.5,236.0 1591.5,228.6 1593.5,224.3 1595.5,214.6 1597.5,208.6 1599.5,202.9 1601.5,195.6 1603.5,191.4 1605.5,187.9 1607.5,182.4 1609.5,177.8 1611.5,174.0 1613.5,170.1 1615.5,167.8 1617.5,163.8 1619.5,160.8 1621.5,158.7 1623.5,157.0 1625.5,153.9 1627.5,151.7 1629.5,146.5 1631.5,147.2 1633.5,145.8 1635.5,142.4 1637.5,138.4 1639.5,135.9 1641.5,135.3 1643.5,132.8 1645.5,133.8 1647.5,132.2 1649.5,134.2 1651.5,135.7 1653.5,134.0 1655.5,138.3 1657.5,139.5 1659.5,141.2 1661.5,144.6 1663.5,147.8 1665.5,152.0 1667.5,152.6 1669.5,158.8 1671.5,163.6 1673.5,166.4 1675.5,170.8 1677.5,174.9 1679.5,178.5 1681.5,185.1 1683.5,189.9 1685.5,195.4 1687.5,202.6 1689.5,206.4 1691.5,211.9 1693.5,219.1 1695.5,222.3 1697.5,228.7 1699.5,235.6 1701.5,241.4 1703.5,248.6 1705.5,253.2 1707.5,260.7 1709.5,265.8 1711.5,270.2 1713.5,274.0 1715.5,280.0 1717.5,285.2 1719.5,288.3 1721.5,294.9 1723.5,300.6 1725.5,305.7 1727.5,312.9 1729.5,318.7 1731.5,323.1 1733.5,330.7 1735.5,336.7 1737.5,345.2 1739.5,351.1 1741.5,360.2 1743.5,367.1 1745.5,375.1 1747.5,381.3 1749.5,387.2 1751.5,397.5 1753.5,402.4 1755.5,410.6 1757.5,416.2 1759.5,422.8 1761.5,430.2 1763.5,434.9 1765.5,442.1 1767.5,445.3 1769.5,453.8 1771.5,458.7 1773.5,464.9 1775.5,471.0 1777.5,477.1 1779.5,484.0 1781.5,485.7 1783.5,492.4 1785.5,496.2 1787.5,502.4 1789.5,505.1 1791.5,510.2 1793.5,513.7 1795.5,519.4 1797.5,524.4 1799.5,527.9 1801.5,533.3 1803.5,536.8 1805.5,543.5 1807.5,549.0 1809.5,552.6 1811.5,559.3 1813.5,561.1 1815.5,566.5 1817.5,572.2 1819.5,578.4 1821.5,584.3 1823.5,589.5 1825.5,594.7 1827.5,600.5 1829.5,604.0 1831.5,607.7 1833.5,611.9 1835.5,619.2 1837.5,618.4 1839.5,624.1 1841.5,629.1 1843.5,631.3 1845.5,633.1 1847.5,636.9 1849.5,640.7 1851.5,643.8 1853.5,644.4 1855.5,648.7 1857.5,650.7 1859.5,653.9 1861.5,656.4 1863.5,656.8 1865.5,657.7 1867.5,661.4 1869.5,664.5 1871.5,665.0 1873.5,666.0 1875.5,669.6 1877.5,667.6 1879.5,671.0 1881.5,671.0 1883.5,673.1 1885.5,674.8 1887.5,677.9 1889.5,677.1 1891.5,679.3 1893.5,680.1 1895.5,683.9 1897.5,684.8 1899.5,687.5 1901.5,687.8 1903.5,690.2 1905.5,693.4 1907.5,693.8 1909.5,696.3 1911.5,697.8 1913.5,698.5 1915.5,698.8 1917.5,702.9 1919.5,703.6 1921.5,705.8 1923.5,704.2 1925.5,705.9 1927.5,706.7 1929.5,709.2 1931.5,712.2 1933.5,712.8 1935.5,713.3 1937.5,714.4 1939.5,715.9 1941.5,715.8 1943.5,717.3 1945.5,717.8 1947.5,716.3 1949.5,718.8 1951.5,721.2 1953.5,720.1 1955.5,721.0 1957.5,721.1 1959.5,721.8 1961.5,723.9 1963.5,723.0 1965.5,722.8 1967.5,721.1 1969.5,724.1 1971.5,723.1 1973.5,723.7 1975.5,726.7 1977.5,726.9 1979.5,724.7 1981.5,727.8 1983.5,727.7 1985.5,726.8 1987.5,728.6 1989.5,726.5 1991.5,727.2 1993.5,727.3 1995.5,727.8 1997.5,730.1 1999.5,728.1 2001.5,728.5 2003.5,728.9 2005.5,730.3 2007.5,730.0 2009.5,731.4 2011.5,730.0 2013.5,729.6 2015.5,730.6 2017.5,731.3 2019.5,730.4 2021.5,731.8 2023.5,733.5 2025.5,731.2 2027.5,732.0 2029.5,733.4 2031.5,731.5 2033.5,731.5 2035.5,731.3 2037.5,732.9 2039.5,733.1 2041.5,732.6 2043.5,732.8 2045.5,734.2 2047.5,733.8 2049.5,731.6 2051.5,733.1 2053.5,733.3 2055.5,734.0 2057.5,733.1 2059.5,732.7 2061.5,733.0 2063.5,731.7 2065.5,733.5 2067.5,733.0 2069.5,734.1 2071.5,732.7 2073.5,733.3 2075.5,732.8 2077.5,732.8 2079.5,734.6 2081.5,733.4 2083.5,734.4 2085.5,732.8 2087.5,734.1 2089.5,732.3 2091.5,733.6 2093.5,733.5 2095.5,734.7 2097.5,734.3 2099.5,733.9 2101.5,735.0 2103.5,734.3 2105.5,734.7 2107.5,734.9 2109.5,734.1 2111.5,733.9 2113.5,734.5 2115.5,733.8 2117.5,734.6 2119.5,735.3 2121.5,735.1 2123.5,733.8 2125.5,732.9 2127.5,734.2 2129.5,734.1 2131.5,735.3 2133.5,733.8 2135.5,734.0 2137.5,734.9 2139.5,733.7 2141.5,734.0 2143.5,735.9 2145.5,735.7 2147.5,734.8 2149.5,734.4 2151.5,733.2 2153.5,734.7 2155.5,734.2 2157.5,734.3 2159.5,733.6 2161.5,734.0 2163.5,733.8 2165.5,734.3 2167.5,735.4 2169.5,734.3 2171.5,732.2 2173.5,732.8 2175.5,732.1 2177.5,732.8 2179.5,734.0 2181.5,733.8 2183.5,732.7 2185.5,733.4 2187.5,732.2 2189.5,731.4 2191.5,731.3 2193.5,731.7 2195.5,733.8 2197.5,730.9 2199.5,733.3 2201.5,733.2 2203.5,731.6 2205.5,731.5 2207.5,730.8 2209.5,731.2 2211.5,731.8 2213.5,731.0 2215.5,731.9" fill="none" stroke="#00a862" stroke-width="4.0" stroke-linejoin="round" stroke-linecap="round"/>
</g>
<clipPath id="c3"><rect x="211.50" y="954.20" width="867.00" height="707.80"/></clipPath>
<g clip-path="url(#c3)">
<polyline points="228.4,1635.5 230.4,1633.1 232.4,1633.0 234.4,1630.0 236.4,1627.9 238.4,1627.6 240.4,1627.7 242.4,1628.3 244.4,1619.8 246.4,1623.8 248.4,1621.5 250.4,1616.6 252.4,1617.6 254.4,1617.5 256.4,1615.8 258.4,1610.0 260.4,1612.2 262.4,1610.7 264.4,1608.6 266.4,1606.8 268.4,1604.3 270.4,1601.1 272.4,1599.1 274.4,1598.1 276.4,1596.6 278.4,1595.9 280.4,1590.6 282.4,1587.5 284.4,1588.2 286.4,1586.8 288.4,1585.6 290.4,1583.5 292.4,1578.4 294.4,1581.2 296.4,1575.2 298.4,1576.6 300.4,1572.6 302.4,1571.2 304.4,1572.5 306.4,1563.5 308.4,1564.8 310.4,1563.7 312.4,1561.7 314.4,1561.8 316.4,1558.3 318.4,1553.7 320.4,1557.0 322.4,1552.0 324.4,1549.6 326.4,1546.7 328.4,1542.5 330.4,1542.7 332.4,1539.1 334.4,1537.3 336.4,1535.0 338.4,1532.9 340.4,1529.7 342.4,1528.6 344.4,1525.8 346.4,1524.2 348.4,1524.7 350.4,1523.0 352.4,1520.4 354.4,1519.7 356.4,1519.0 358.4,1518.5 360.4,1515.9 362.4,1513.2 364.4,1508.1 366.4,1506.6 368.4,1503.9 370.4,1500.7 372.4,1497.5 374.4,1493.9 376.4,1492.8 378.4,1489.6 380.4,1485.2 382.4,1481.0 384.4,1479.7 386.4,1472.7 388.4,1469.1 390.4,1464.6 392.4,1457.9 394.4,1456.1 396.4,1454.0 398.4,1454.3 400.4,1454.3 402.4,1456.4 404.4,1456.3 406.4,1457.6 408.4,1461.1 410.4,1463.0 412.4,1466.7 414.4,1473.0 416.4,1474.5 418.4,1478.9 420.4,1483.5 422.4,1486.3 424.4,1488.9 426.4,1495.0 428.4,1496.2 430.4,1498.9 432.4,1501.2 434.4,1502.2 436.4,1503.2 438.4,1504.9 440.4,1506.9 442.4,1504.9 444.4,1504.0 446.4,1500.7 448.4,1500.1 450.4,1496.3 452.4,1494.1 454.4,1487.8 456.4,1481.2 458.4,1473.1 460.4,1463.8 462.4,1453.7 464.4,1445.9 466.4,1434.1 468.4,1423.9 470.4,1414.2 472.4,1403.4 474.4,1394.3 476.4,1385.8 478.4,1376.9 480.4,1369.4 482.4,1362.6 484.4,1357.3 486.4,1349.2 488.4,1346.0 490.4,1339.9 492.4,1335.3 494.4,1332.8 496.4,1329.7 498.4,1328.7 500.4,1328.1 502.4,1324.4 504.4,1326.3 506.4,1328.2 508.4,1327.6 510.4,1328.7 512.4,1328.2 514.4,1327.3 516.4,1327.5 518.4,1328.4 520.4,1327.2 522.4,1323.8 524.4,1321.9 526.4,1319.8 528.4,1315.4 530.4,1313.9 532.4,1312.8 534.4,1310.3 536.4,1305.2 538.4,1303.9 540.4,1298.7 542.4,1295.4 544.4,1291.2 546.4,1291.2 548.4,1287.2 550.4,1286.9 552.4,1282.3 554.4,1279.5 556.4,1275.1 558.4,1275.6 560.4,1271.6 562.4,1269.7 564.4,1265.9 566.4,1267.0 568.4,1265.5 570.4,1262.6 572.4,1262.1 574.4,1261.3 576.4,1260.9 578.4,1259.4 580.4,1260.3 582.4,1258.1 584.4,1257.5 586.4,1257.5 588.4,1255.8 590.4,1257.8 592.4,1260.2 594.4,1260.4 596.4,1260.5 598.4,1262.5 600.4,1261.4 602.4,1264.0 604.4,1266.1 606.4,1268.1 608.4,1268.9 610.4,1272.8 612.4,1276.1 614.4,1276.1 616.4,1278.9 618.4,1278.4 620.4,1279.7 622.4,1284.0 624.4,1285.8 626.4,1288.7 628.4,1290.8 630.4,1294.0 632.4,1297.8 634.4,1301.7 636.4,1303.4 638.4,1306.3 640.4,1313.5 642.4,1317.4 644.4,1321.4 646.4,1324.1 648.4,1328.5 650.4,1329.1 652.4,1332.7 654.4,1334.7 656.4,1340.8 658.4,1346.1 660.4,1352.1 662.4,1357.7 664.4,1362.1 666.4,1369.9 668.4,1373.5 670.4,1380.6 672.4,1388.1 674.4,1393.9 676.4,1402.8 678.4,1410.1 680.4,1416.5 682.4,1425.8 684.4,1431.3 686.4,1438.5 688.4,1444.3 690.4,1450.5 692.4,1458.1 694.4,1464.9 696.4,1471.2 698.4,1478.6 700.4,1482.0 702.4,1489.3 704.4,1494.7 706.4,1503.5 708.4,1507.7 710.4,1513.5 712.4,1518.7 714.4,1526.1 716.4,1530.4 718.4,1536.2 720.4,1539.3 722.4,1547.2 724.4,1551.4 726.4,1556.3 728.4,1561.6 730.4,1564.9 732.4,1569.3 734.4,1574.3 736.4,1577.9 738.4,1581.0 740.4,1584.5 742.4,1587.1 744.4,1590.9 746.4,1593.7 748.4,1595.2 750.4,1599.2 752.4,1598.2 754.4,1601.4 756.4,1605.1 758.4,1605.0 760.4,1605.7 762.4,1610.0 764.4,1610.8 766.4,1610.6 768.4,1613.8 770.4,1613.5 772.4,1614.4 774.4,1616.7 776.4,1617.6 778.4,1618.1 780.4,1619.9 782.4,1620.3 784.4,1622.3 786.4,1623.1 788.4,1624.7 790.4,1624.5 792.4,1624.4 794.4,1625.1 796.4,1626.7 798.4,1628.8 800.4,1628.7 802.4,1627.8 804.4,1629.7 806.4,1628.2 808.4,1630.5 810.4,1629.6 812.4,1631.0 814.4,1631.2 816.4,1630.8 818.4,1631.6 820.4,1630.7 822.4,1631.9 824.4,1633.2 826.4,1636.2 828.4,1633.4 830.4,1633.0 832.4,1632.3 834.4,1634.3 836.4,1632.1 838.4,1633.0 840.4,1634.2 842.4,1633.0 844.4,1635.6 846.4,1635.3 848.4,1633.9 850.4,1634.0 852.4,1633.3 854.4,1633.3 856.4,1635.1 858.4,1635.3 860.4,1635.1 862.4,1635.1 864.4,1634.4 866.4,1635.3 868.4,1633.6 870.4,1635.0 872.4,1636.4 874.4,1636.3 876.4,1634.7 878.4,1634.9 880.4,1636.5 882.4,1636.9 884.4,1633.9 886.4,1634.9 888.4,1635.5 890.4,1636.5 892.4,1634.6 894.4,1636.0 896.4,1635.2 898.4,1637.6 900.4,1635.8 902.4,1635.4 904.4,1635.2 906.4,1636.5 908.4,1636.1 910.4,1634.6 912.4,1635.8 914.4,1634.4 916.4,1634.9 918.4,1634.4 920.4,1634.4 922.4,1635.0 924.4,1634.8 926.4,1636.1 928.4,1636.4 930.4,1635.5 932.4,1634.7 934.4,1636.4 936.4,1633.9 938.4,1634.0 940.4,1636.4 942.4,1636.4 944.4,1636.7 946.4,1635.6 948.4,1634.7 950.4,1635.4 952.4,1636.3 954.4,1635.1 956.4,1635.2 958.4,1634.6 960.4,1634.8 962.4,1636.6 964.4,1636.3 966.4,1634.8 968.4,1634.9 970.4,1635.4 972.4,1636.4 974.4,1634.9 976.4,1635.8 978.4,1634.0 980.4,1634.8 982.4,1636.3 984.4,1636.8 986.4,1634.9 988.4,1635.3 990.4,1636.7 992.4,1635.6 994.4,1635.5 996.4,1636.4 998.4,1636.1 1000.4,1637.0 1002.4,1636.7 1004.4,1635.4 1006.4,1635.9 1008.4,1635.9 1010.4,1634.7 1012.4,1635.1 1014.4,1636.8 1016.4,1634.5 1018.4,1636.9 1020.4,1636.2 1022.4,1635.8 1024.4,1636.4 1026.4,1636.4 1028.4,1637.1 1030.4,1635.6 1032.4,1635.8 1034.4,1635.7 1036.4,1637.7 1038.4,1636.8 1040.4,1635.1 1042.4,1635.7 1044.4,1635.3 1046.4,1636.0 1048.4,1636.2 1050.4,1638.0 1052.4,1634.3 1054.4,1636.9 1056.4,1636.4 1058.4,1635.3 1060.4,1635.8 1062.4,1635.5 1064.4,1636.0 1066.4,1636.9 1068.4,1634.6 1070.4,1637.2 1072.4,1635.6 1074.4,1637.3 1076.4,1636.3" fill="none" stroke="#464646" stroke-width="4.4" stroke-linejoin="round" stroke-linecap="round"/>
<polyline points="228.4,1616.2 230.4,1616.4 232.4,1615.8 234.4,1616.1 236.4,1615.8 238.4,1611.3 240.4,1611.8 242.4,1610.9 244.4,1611.8 246.4,1607.3 248.4,1606.7 250.4,1605.4 252.4,1603.6 254.4,1602.6 256.4,1601.2 258.4,1597.3 260.4,1597.6 262.4,1596.0 264.4,1594.3 266.4,1591.0 268.4,1586.8 270.4,1587.9 272.4,1579.8 274.4,1575.9 276.4,1576.0 278.4,1573.1 280.4,1571.3 282.4,1566.1 284.4,1564.8 286.4,1561.9 288.4,1554.1 290.4,1552.3 292.4,1547.9 294.4,1541.9 296.4,1536.9 298.4,1533.1 300.4,1530.2 302.4,1527.3 304.4,1523.8 306.4,1518.7 308.4,1513.2 310.4,1513.2 312.4,1507.0 314.4,1504.3 316.4,1503.0 318.4,1496.3 320.4,1497.3 322.4,1492.4 324.4,1491.9 326.4,1485.0 328.4,1483.6 330.4,1481.3 332.4,1477.5 334.4,1473.2 336.4,1469.1 338.4,1465.6 340.4,1461.7 342.4,1457.2 344.4,1451.6 346.4,1447.6 348.4,1443.2 350.4,1438.4 352.4,1430.3 354.4,1427.8 356.4,1423.5 358.4,1419.8 360.4,1416.1 362.4,1412.9 364.4,1408.5 366.4,1403.5 368.4,1398.6 370.4,1394.4 372.4,1385.4 374.4,1378.7 376.4,1371.9 378.4,1362.9 380.4,1353.4 382.4,1349.0 384.4,1342.7 386.4,1338.4 388.4,1336.1 390.4,1333.5 392.4,1332.0 394.4,1333.1 396.4,1333.6 398.4,1334.6 400.4,1336.6 402.4,1338.8 404.4,1340.9 406.4,1344.1 408.4,1348.4 410.4,1352.0 412.4,1356.9 414.4,1365.1 416.4,1370.2 418.4,1377.4 420.4,1384.9 422.4,1393.2 424.4,1401.8 426.4,1410.4 428.4,1417.2 430.4,1424.7 432.4,1427.2 434.4,1431.1 436.4,1429.5 438.4,1430.4 440.4,1431.8 442.4,1429.6 444.4,1426.9 446.4,1424.1 448.4,1417.2 450.4,1410.5 452.4,1398.9 454.4,1389.7 456.4,1378.2 458.4,1367.4 460.4,1354.6 462.4,1337.9 464.4,1323.0 466.4,1302.5 468.4,1282.5 470.4,1264.2 472.4,1250.7 474.4,1233.6 476.4,1219.4 478.4,1208.1 480.4,1199.3 482.4,1195.2 484.4,1188.6 486.4,1185.0 488.4,1177.9 490.4,1171.0 492.4,1170.0 494.4,1166.1 496.4,1164.3 498.4,1164.9 500.4,1163.1 502.4,1165.2 504.4,1165.8 506.4,1167.5 508.4,1171.3 510.4,1173.0 512.4,1177.3 514.4,1179.2 516.4,1179.8 518.4,1180.5 520.4,1179.4 522.4,1176.3 524.4,1174.4 526.4,1170.1 528.4,1167.4 530.4,1162.2 532.4,1158.5 534.4,1153.3 536.4,1146.5 538.4,1141.3 540.4,1136.2 542.4,1132.6 544.4,1126.8 546.4,1123.4 548.4,1120.2 550.4,1115.4 552.4,1110.7 554.4,1110.3 556.4,1109.8 558.4,1107.8 560.4,1108.3 562.4,1106.8 564.4,1105.1 566.4,1102.4 568.4,1099.7 570.4,1097.5 572.4,1095.8 574.4,1095.0 576.4,1094.4 578.4,1094.1 580.4,1095.6 582.4,1097.8 584.4,1098.3 586.4,1101.4 588.4,1103.4 590.4,1105.8 592.4,1107.6 594.4,1110.1 596.4,1112.5 598.4,1117.1 600.4,1119.4 602.4,1119.6 604.4,1122.3 606.4,1122.8 608.4,1127.9 610.4,1130.1 612.4,1135.8 614.4,1142.7 616.4,1148.9 618.4,1154.8 620.4,1161.4 622.4,1165.0 624.4,1170.2 626.4,1174.9 628.4,1177.3 630.4,1184.1 632.4,1188.4 634.4,1195.0 636.4,1200.9 638.4,1210.8 640.4,1219.2 642.4,1227.3 644.4,1238.5 646.4,1245.6 648.4,1253.3 650.4,1261.9 652.4,1270.5 654.4,1278.3 656.4,1285.3 658.4,1293.3 660.4,1301.2 662.4,1306.8 664.4,1316.1 666.4,1324.6 668.4,1334.4 670.4,1344.1 672.4,1351.5 674.4,1358.0 676.4,1366.6 678.4,1376.0 680.4,1382.8 682.4,1391.5 684.4,1400.5 686.4,1407.7 688.4,1419.8 690.4,1429.5 692.4,1439.6 694.4,1447.0 696.4,1454.8 698.4,1461.3 700.4,1467.8 702.4,1473.0 704.4,1478.6 706.4,1485.9 708.4,1491.5 710.4,1495.9 712.4,1502.2 714.4,1510.6 716.4,1514.9 718.4,1522.5 720.4,1528.5 722.4,1532.3 724.4,1538.1 726.4,1543.8 728.4,1548.2 730.4,1553.2 732.4,1558.5 734.4,1564.3 736.4,1567.6 738.4,1572.0 740.4,1575.8 742.4,1578.9 744.4,1585.2 746.4,1585.4 748.4,1590.2 750.4,1594.5 752.4,1595.6 754.4,1600.0 756.4,1603.0 758.4,1603.3 760.4,1606.3 762.4,1607.0 764.4,1610.2 766.4,1611.6 768.4,1613.2 770.4,1615.8 772.4,1616.3 774.4,1618.4 776.4,1619.0 778.4,1618.4 780.4,1620.7 782.4,1621.9 784.4,1621.0 786.4,1624.3 788.4,1624.0 790.4,1625.0 792.4,1624.6 794.4,1626.1 796.4,1626.9 798.4,1627.0 800.4,1627.9 802.4,1626.4 804.4,1630.0 806.4,1628.3 808.4,1627.7 810.4,1629.2 812.4,1629.6 814.4,1631.2 816.4,1630.2 818.4,1631.6 820.4,1630.8 822.4,1633.9 824.4,1632.7 826.4,1634.2 828.4,1631.8 830.4,1633.6 832.4,1632.3 834.4,1633.9 836.4,1634.2 838.4,1632.3 840.4,1632.9 842.4,1633.0 844.4,1632.9 846.4,1633.7 848.4,1633.6 850.4,1633.2 852.4,1634.7 854.4,1635.1 856.4,1633.5 858.4,1634.3 860.4,1634.8 862.4,1634.7 864.4,1634.3 866.4,1635.7 868.4,1635.8 870.4,1635.7 872.4,1634.9 874.4,1636.9 876.4,1636.8 878.4,1634.9 880.4,1635.2 882.4,1636.4 884.4,1634.6 886.4,1635.7 888.4,1635.4 890.4,1634.8 892.4,1635.2 894.4,1634.0 896.4,1635.0 898.4,1633.7 900.4,1637.6 902.4,1636.9 904.4,1636.7 906.4,1635.8 908.4,1636.5 910.4,1636.7 912.4,1636.5 914.4,1636.5 916.4,1634.8 918.4,1636.0 920.4,1635.2 922.4,1634.6 924.4,1634.7 926.4,1636.1 928.4,1636.7 930.4,1634.5 932.4,1637.3 934.4,1637.1 936.4,1635.4 938.4,1635.4 940.4,1635.7 942.4,1636.7 944.4,1635.5 946.4,1634.8 948.4,1636.2 950.4,1634.0 952.4,1636.0 954.4,1636.9 956.4,1636.2 958.4,1636.6 960.4,1636.4 962.4,1636.6 964.4,1636.1 966.4,1635.2 968.4,1635.7 970.4,1635.9 972.4,1637.1 974.4,1637.4 976.4,1636.3 978.4,1635.3 980.4,1635.3 982.4,1635.8 984.4,1637.2 986.4,1636.3 988.4,1635.9 990.4,1635.3 992.4,1636.8 994.4,1636.3 996.4,1636.0 998.4,1636.1 1000.4,1637.5 1002.4,1635.9 1004.4,1637.5 1006.4,1637.1 1008.4,1636.0 1010.4,1636.8 1012.4,1635.9 1014.4,1635.3 1016.4,1635.8 1018.4,1635.2 1020.4,1636.5 1022.4,1636.0 1024.4,1636.5 1026.4,1636.7 1028.4,1633.2 1030.4,1636.3 1032.4,1634.4 1034.4,1636.1 1036.4,1635.2 1038.4,1636.1 1040.4,1637.2 1042.4,1634.5 1044.4,1636.2 1046.4,1635.9 1048.4,1634.3 1050.4,1636.6 1052.4,1636.0 1054.4,1635.5 1056.4,1635.4 1058.4,1638.9 1060.4,1635.6 1062.4,1634.4 1064.4,1635.2 1066.4,1635.7 1068.4,1635.7 1070.4,1635.9 1072.4,1635.1 1074.4,1636.5 1076.4,1635.6" fill="none" stroke="#ff3838" stroke-width="3.8" stroke-linejoin="round" stroke-linecap="round"/>
<polyline points="228.4,1621.6 230.4,1622.5 232.4,1621.3 234.4,1619.7 236.4,1618.1 238.4,1615.1 240.4,1614.7 242.4,1613.6 244.4,1611.0 246.4,1609.5 248.4,1606.6 250.4,1605.6 252.4,1606.2 254.4,1603.8 256.4,1603.5 258.4,1602.7 260.4,1600.3 262.4,1595.8 264.4,1594.3 266.4,1591.1 268.4,1589.1 270.4,1587.2 272.4,1583.9 274.4,1581.9 276.4,1576.5 278.4,1574.5 280.4,1571.2 282.4,1573.0 284.4,1568.2 286.4,1564.0 288.4,1563.2 290.4,1560.8 292.4,1554.7 294.4,1551.9 296.4,1546.9 298.4,1542.9 300.4,1538.5 302.4,1539.9 304.4,1530.0 306.4,1528.4 308.4,1524.6 310.4,1517.7 312.4,1515.2 314.4,1510.3 316.4,1504.8 318.4,1501.3 320.4,1494.0 322.4,1484.8 324.4,1483.9 326.4,1477.0 328.4,1471.3 330.4,1469.4 332.4,1467.6 334.4,1463.9 336.4,1459.4 338.4,1456.0 340.4,1454.1 342.4,1450.7 344.4,1449.7 346.4,1443.8 348.4,1440.3 350.4,1438.4 352.4,1435.0 354.4,1431.2 356.4,1427.5 358.4,1424.1 360.4,1417.0 362.4,1411.4 364.4,1404.4 366.4,1399.7 368.4,1393.1 370.4,1384.6 372.4,1378.4 374.4,1370.5 376.4,1366.1 378.4,1360.8 380.4,1356.6 382.4,1355.1 384.4,1353.0 386.4,1351.6 388.4,1352.1 390.4,1351.1 392.4,1350.3 394.4,1346.8 396.4,1345.4 398.4,1344.0 400.4,1346.3 402.4,1347.1 404.4,1348.6 406.4,1352.8 408.4,1356.4 410.4,1358.4 412.4,1365.3 414.4,1369.8 416.4,1374.7 418.4,1380.3 420.4,1388.2 422.4,1394.1 424.4,1400.3 426.4,1403.2 428.4,1408.7 430.4,1414.3 432.4,1416.0 434.4,1419.3 436.4,1420.5 438.4,1425.4 440.4,1425.3 442.4,1424.2 444.4,1422.1 446.4,1418.0 448.4,1412.8 450.4,1406.6 452.4,1396.6 454.4,1387.8 456.4,1374.2 458.4,1360.6 460.4,1348.3 462.4,1332.3 464.4,1317.9 466.4,1302.2 468.4,1286.1 470.4,1274.9 472.4,1260.6 474.4,1251.5 476.4,1239.5 478.4,1231.2 480.4,1226.5 482.4,1221.1 484.4,1216.1 486.4,1210.9 488.4,1209.3 490.4,1204.1 492.4,1202.5 494.4,1200.3 496.4,1199.4 498.4,1199.8 500.4,1198.2 502.4,1199.4 504.4,1199.7 506.4,1198.0 508.4,1199.2 510.4,1201.0 512.4,1202.4 514.4,1205.3 516.4,1205.5 518.4,1209.5 520.4,1209.9 522.4,1207.9 524.4,1204.7 526.4,1203.3 528.4,1200.2 530.4,1198.2 532.4,1194.2 534.4,1190.8 536.4,1185.2 538.4,1182.1 540.4,1174.2 542.4,1171.3 544.4,1169.0 546.4,1164.0 548.4,1163.1 550.4,1158.7 552.4,1157.5 554.4,1154.4 556.4,1152.7 558.4,1151.3 560.4,1149.0 562.4,1146.8 564.4,1147.1 566.4,1143.5 568.4,1141.3 570.4,1142.5 572.4,1142.6 574.4,1144.0 576.4,1145.9 578.4,1144.7 580.4,1147.2 582.4,1147.2 584.4,1145.9 586.4,1146.2 588.4,1144.0 590.4,1147.6 592.4,1151.5 594.4,1150.0 596.4,1152.8 598.4,1155.1 600.4,1157.0 602.4,1160.0 604.4,1159.4 606.4,1164.1 608.4,1168.5 610.4,1170.6 612.4,1175.9 614.4,1181.7 616.4,1184.8 618.4,1187.6 620.4,1188.5 622.4,1195.2 624.4,1201.0 626.4,1206.3 628.4,1212.6 630.4,1221.2 632.4,1223.8 634.4,1228.4 636.4,1234.8 638.4,1239.9 640.4,1245.8 642.4,1252.3 644.4,1259.8 646.4,1266.3 648.4,1272.3 650.4,1280.8 652.4,1289.1 654.4,1296.1 656.4,1305.5 658.4,1313.2 660.4,1319.5 662.4,1328.5 664.4,1337.8 666.4,1345.1 668.4,1351.3 670.4,1359.8 672.4,1366.0 674.4,1373.0 676.4,1382.5 678.4,1390.2 680.4,1398.9 682.4,1407.6 684.4,1417.9 686.4,1427.7 688.4,1438.9 690.4,1448.6 692.4,1455.8 694.4,1463.1 696.4,1466.3 698.4,1472.2 700.4,1479.1 702.4,1484.5 704.4,1488.4 706.4,1493.6 708.4,1498.1 710.4,1505.2 712.4,1511.2 714.4,1514.7 716.4,1522.0 718.4,1527.4 720.4,1532.8 722.4,1536.8 724.4,1543.6 726.4,1547.0 728.4,1554.8 730.4,1558.5 732.4,1562.1 734.4,1568.7 736.4,1572.7 738.4,1575.0 740.4,1581.2 742.4,1581.8 744.4,1586.3 746.4,1590.1 748.4,1590.0 750.4,1595.7 752.4,1597.3 754.4,1599.7 756.4,1601.0 758.4,1604.3 760.4,1605.0 762.4,1607.0 764.4,1609.3 766.4,1610.3 768.4,1614.4 770.4,1613.3 772.4,1615.3 774.4,1616.9 776.4,1618.4 778.4,1620.2 780.4,1621.3 782.4,1621.2 784.4,1622.0 786.4,1623.2 788.4,1624.7 790.4,1625.3 792.4,1624.9 794.4,1624.2 796.4,1628.6 798.4,1628.1 800.4,1628.1 802.4,1628.6 804.4,1628.3 806.4,1628.3 808.4,1629.4 810.4,1629.8 812.4,1629.8 814.4,1629.4 816.4,1630.7 818.4,1631.9 820.4,1631.2 822.4,1631.9 824.4,1630.3 826.4,1632.3 828.4,1632.6 830.4,1631.8 832.4,1631.6 834.4,1633.7 836.4,1632.8 838.4,1634.2 840.4,1633.5 842.4,1634.6 844.4,1633.9 846.4,1633.0 848.4,1634.3 850.4,1634.2 852.4,1635.2 854.4,1634.2 856.4,1634.3 858.4,1635.5 860.4,1635.9 862.4,1635.6 864.4,1635.9 866.4,1635.4 868.4,1635.7 870.4,1635.9 872.4,1635.5 874.4,1635.2 876.4,1635.3 878.4,1637.4 880.4,1635.3 882.4,1635.1 884.4,1635.0 886.4,1635.3 888.4,1635.6 890.4,1634.4 892.4,1633.6 894.4,1635.7 896.4,1634.0 898.4,1635.7 900.4,1635.6 902.4,1636.6 904.4,1637.0 906.4,1635.9 908.4,1635.1 910.4,1634.5 912.4,1634.9 914.4,1635.7 916.4,1633.8 918.4,1635.7 920.4,1635.7 922.4,1636.3 924.4,1635.4 926.4,1635.8 928.4,1635.1 930.4,1635.3 932.4,1634.2 934.4,1635.9 936.4,1637.2 938.4,1635.9 940.4,1636.1 942.4,1634.9 944.4,1637.1 946.4,1635.1 948.4,1636.6 950.4,1636.0 952.4,1635.0 954.4,1636.8 956.4,1635.9 958.4,1636.1 960.4,1636.3 962.4,1635.9 964.4,1635.6 966.4,1636.4 968.4,1635.6 970.4,1636.0 972.4,1635.4 974.4,1634.6 976.4,1635.4 978.4,1635.5 980.4,1636.0 982.4,1637.0 984.4,1634.5 986.4,1636.1 988.4,1634.0 990.4,1635.1 992.4,1635.5 994.4,1634.0 996.4,1634.3 998.4,1636.1 1000.4,1636.1 1002.4,1635.9 1004.4,1635.3 1006.4,1637.9 1008.4,1635.9 1010.4,1635.2 1012.4,1637.5 1014.4,1636.6 1016.4,1635.7 1018.4,1637.1 1020.4,1636.1 1022.4,1636.6 1024.4,1636.2 1026.4,1635.1 1028.4,1636.9 1030.4,1636.1 1032.4,1635.1 1034.4,1635.3 1036.4,1636.9 1038.4,1635.7 1040.4,1636.0 1042.4,1636.6 1044.4,1636.1 1046.4,1634.6 1048.4,1636.6 1050.4,1636.8 1052.4,1636.8 1054.4,1637.5 1056.4,1636.3 1058.4,1636.7 1060.4,1637.4 1062.4,1635.7 1064.4,1637.6 1066.4,1637.6 1068.4,1636.7 1070.4,1637.7 1072.4,1636.8 1074.4,1635.2 1076.4,1637.0" fill="none" stroke="#0a64e6" stroke-width="4.4" stroke-linejoin="round" stroke-linecap="round"/>
<polyline points="228.4,1608.9 230.4,1613.3 232.4,1610.0 234.4,1608.6 236.4,1607.9 238.4,1605.5 240.4,1601.6 242.4,1599.5 244.4,1592.5 246.4,1591.0 248.4,1587.0 250.4,1586.9 252.4,1585.9 254.4,1583.5 256.4,1580.9 258.4,1578.9 260.4,1577.5 262.4,1577.4 264.4,1579.3 266.4,1577.6 268.4,1576.4 270.4,1577.8 272.4,1571.8 274.4,1568.2 276.4,1564.6 278.4,1559.2 280.4,1553.8 282.4,1548.5 284.4,1548.4 286.4,1541.9 288.4,1532.9 290.4,1533.8 292.4,1525.2 294.4,1518.8 296.4,1514.4 298.4,1508.8 300.4,1508.6 302.4,1500.4 304.4,1496.4 306.4,1496.5 308.4,1491.4 310.4,1494.0 312.4,1483.8 314.4,1480.5 316.4,1475.4 318.4,1468.8 320.4,1462.2 322.4,1454.7 324.4,1455.7 326.4,1446.3 328.4,1443.7 330.4,1441.4 332.4,1435.5 334.4,1431.8 336.4,1426.8 338.4,1423.4 340.4,1418.6 342.4,1414.7 344.4,1410.9 346.4,1408.5 348.4,1406.4 350.4,1400.1 352.4,1397.7 354.4,1391.9 356.4,1385.4 358.4,1376.6 360.4,1371.8 362.4,1364.2 364.4,1359.5 366.4,1354.4 368.4,1347.8 370.4,1341.6 372.4,1330.8 374.4,1320.5 376.4,1310.1 378.4,1301.1 380.4,1294.7 382.4,1291.1 384.4,1292.3 386.4,1291.2 388.4,1290.5 390.4,1290.9 392.4,1289.7 394.4,1287.9 396.4,1284.8 398.4,1282.1 400.4,1282.4 402.4,1280.0 404.4,1279.8 406.4,1281.3 408.4,1283.7 410.4,1288.5 412.4,1291.6 414.4,1296.3 416.4,1296.5 418.4,1303.0 420.4,1306.6 422.4,1309.9 424.4,1310.6 426.4,1311.4 428.4,1315.9 430.4,1316.9 432.4,1317.3 434.4,1318.9 436.4,1319.9 438.4,1319.0 440.4,1317.4 442.4,1315.0 444.4,1317.5 446.4,1313.1 448.4,1311.5 450.4,1305.5 452.4,1300.8 454.4,1290.8 456.4,1280.6 458.4,1268.7 460.4,1257.5 462.4,1246.8 464.4,1233.7 466.4,1224.1 468.4,1211.0 470.4,1196.8 472.4,1185.1 474.4,1175.1 476.4,1167.7 478.4,1159.4 480.4,1152.9 482.4,1147.0 484.4,1141.7 486.4,1138.8 488.4,1136.1 490.4,1132.2 492.4,1128.1 494.4,1123.8 496.4,1119.0 498.4,1115.4 500.4,1113.1 502.4,1110.3 504.4,1107.3 506.4,1104.5 508.4,1099.3 510.4,1099.7 512.4,1096.2 514.4,1097.8 516.4,1096.9 518.4,1097.2 520.4,1094.6 522.4,1091.1 524.4,1089.5 526.4,1084.6 528.4,1080.2 530.4,1075.6 532.4,1071.9 534.4,1067.4 536.4,1062.8 538.4,1057.5 540.4,1055.3 542.4,1052.9 544.4,1051.9 546.4,1048.4 548.4,1045.9 550.4,1045.1 552.4,1042.2 554.4,1040.6 556.4,1039.2 558.4,1036.3 560.4,1037.0 562.4,1034.9 564.4,1032.6 566.4,1029.8 568.4,1028.9 570.4,1027.6 572.4,1023.5 574.4,1021.5 576.4,1022.1 578.4,1020.7 580.4,1021.4 582.4,1024.2 584.4,1024.4 586.4,1024.0 588.4,1022.4 590.4,1022.0 592.4,1021.0 594.4,1021.0 596.4,1022.1 598.4,1024.4 600.4,1026.1 602.4,1027.4 604.4,1028.6 606.4,1026.4 608.4,1030.1 610.4,1032.7 612.4,1035.7 614.4,1037.2 616.4,1043.5 618.4,1046.3 620.4,1049.5 622.4,1054.3 624.4,1057.9 626.4,1061.9 628.4,1067.6 630.4,1071.8 632.4,1076.5 634.4,1083.3 636.4,1090.5 638.4,1097.0 640.4,1107.0 642.4,1112.9 644.4,1123.4 646.4,1130.3 648.4,1135.9 650.4,1144.1 652.4,1152.2 654.4,1158.5 656.4,1165.7 658.4,1175.7 660.4,1187.3 662.4,1195.3 664.4,1209.5 666.4,1222.2 668.4,1235.6 670.4,1248.9 672.4,1262.0 674.4,1275.8 676.4,1287.3 678.4,1297.3 680.4,1310.6 682.4,1318.5 684.4,1330.4 686.4,1340.1 688.4,1351.2 690.4,1360.9 692.4,1372.4 694.4,1382.8 696.4,1395.5 698.4,1407.0 700.4,1420.8 702.4,1430.5 704.4,1444.3 706.4,1455.4 708.4,1466.5 710.4,1476.5 712.4,1487.3 714.4,1494.8 716.4,1503.5 718.4,1513.4 720.4,1518.8 722.4,1528.4 724.4,1533.3 726.4,1539.9 728.4,1545.4 730.4,1551.2 732.4,1555.8 734.4,1560.9 736.4,1566.1 738.4,1572.0 740.4,1576.7 742.4,1581.2 744.4,1584.4 746.4,1587.6 748.4,1589.6 750.4,1594.7 752.4,1597.6 754.4,1599.1 756.4,1602.6 758.4,1605.2 760.4,1606.1 762.4,1608.9 764.4,1610.0 766.4,1609.9 768.4,1612.6 770.4,1614.1 772.4,1616.4 774.4,1616.4 776.4,1618.0 778.4,1618.6 780.4,1620.5 782.4,1621.6 784.4,1623.3 786.4,1624.0 788.4,1624.2 790.4,1625.1 792.4,1625.7 794.4,1626.4 796.4,1628.4 798.4,1625.4 800.4,1628.1 802.4,1629.0 804.4,1630.3 806.4,1628.7 808.4,1630.4 810.4,1631.2 812.4,1630.4 814.4,1629.4 816.4,1631.1 818.4,1630.6 820.4,1632.5 822.4,1631.4 824.4,1634.1 826.4,1632.8 828.4,1632.2 830.4,1632.7 832.4,1632.4 834.4,1633.9 836.4,1635.1 838.4,1633.7 840.4,1634.9 842.4,1633.3 844.4,1634.6 846.4,1636.5 848.4,1633.2 850.4,1635.7 852.4,1635.7 854.4,1633.0 856.4,1633.5 858.4,1634.0 860.4,1635.8 862.4,1634.6 864.4,1634.8 866.4,1635.7 868.4,1635.2 870.4,1635.3 872.4,1634.9 874.4,1636.2 876.4,1634.6 878.4,1636.8 880.4,1635.0 882.4,1634.6 884.4,1636.0 886.4,1635.8 888.4,1633.7 890.4,1635.7 892.4,1634.3 894.4,1634.8 896.4,1636.2 898.4,1634.8 900.4,1635.9 902.4,1635.2 904.4,1637.3 906.4,1635.5 908.4,1634.6 910.4,1634.7 912.4,1634.9 914.4,1635.8 916.4,1635.7 918.4,1636.6 920.4,1635.9 922.4,1635.9 924.4,1636.0 926.4,1635.7 928.4,1636.0 930.4,1636.5 932.4,1636.5 934.4,1635.3 936.4,1634.2 938.4,1635.1 940.4,1636.1 942.4,1633.6 944.4,1635.5 946.4,1636.3 948.4,1635.4 950.4,1634.9 952.4,1637.5 954.4,1637.2 956.4,1635.7 958.4,1637.1 960.4,1637.1 962.4,1635.0 964.4,1638.4 966.4,1635.1 968.4,1635.8 970.4,1635.0 972.4,1636.1 974.4,1634.8 976.4,1636.0 978.4,1637.0 980.4,1636.2 982.4,1635.8 984.4,1637.4 986.4,1635.2 988.4,1636.9 990.4,1635.8 992.4,1636.2 994.4,1636.1 996.4,1636.2 998.4,1636.0 1000.4,1635.3 1002.4,1635.5 1004.4,1636.4 1006.4,1635.9 1008.4,1635.0 1010.4,1635.4 1012.4,1635.4 1014.4,1636.0 1016.4,1636.2 1018.4,1636.1 1020.4,1635.5 1022.4,1636.1 1024.4,1634.8 1026.4,1633.4 1028.4,1636.0 1030.4,1634.5 1032.4,1635.2 1034.4,1634.9 1036.4,1636.6 1038.4,1634.9 1040.4,1636.3 1042.4,1635.6 1044.4,1634.9 1046.4,1634.6 1048.4,1636.4 1050.4,1636.4 1052.4,1636.7 1054.4,1637.7 1056.4,1636.3 1058.4,1636.3 1060.4,1635.9 1062.4,1636.1 1064.4,1635.7 1066.4,1635.2 1068.4,1637.8 1070.4,1634.3 1072.4,1636.2 1074.4,1636.4 1076.4,1636.1" fill="none" stroke="#00a862" stroke-width="3.8" stroke-linejoin="round" stroke-linecap="round"/>
<polyline points="228.4,1618.3 230.4,1619.9 232.4,1612.7 234.4,1613.8 236.4,1610.9 238.4,1611.6 240.4,1611.0 242.4,1614.8 244.4,1610.0 246.4,1609.0 248.4,1610.1 250.4,1605.6 252.4,1604.9 254.4,1603.9 256.4,1599.7 258.4,1599.6 260.4,1597.3 262.4,1592.8 264.4,1590.7 266.4,1592.0 268.4,1588.5 270.4,1584.8 272.4,1581.7 274.4,1580.6 276.4,1579.1 278.4,1576.9 280.4,1573.4 282.4,1572.0 284.4,1566.1 286.4,1565.1 288.4,1561.2 290.4,1558.2 292.4,1558.1 294.4,1552.1 296.4,1549.2 298.4,1550.4 300.4,1543.7 302.4,1540.8 304.4,1539.0 306.4,1536.2 308.4,1537.7 310.4,1526.0 312.4,1527.0 314.4,1524.1 316.4,1521.9 318.4,1514.4 320.4,1510.5 322.4,1512.3 324.4,1504.6 326.4,1504.9 328.4,1496.9 330.4,1498.9 332.4,1493.4 334.4,1492.0 336.4,1487.2 338.4,1482.7 340.4,1480.5 342.4,1477.2 344.4,1473.8 346.4,1470.6 348.4,1465.0 350.4,1462.4 352.4,1458.7 354.4,1453.7 356.4,1448.9 358.4,1444.5 360.4,1441.6 362.4,1437.0 364.4,1430.7 366.4,1425.1 368.4,1421.9 370.4,1413.4 372.4,1408.2 374.4,1400.0 376.4,1391.3 378.4,1385.1 380.4,1377.5 382.4,1372.8 384.4,1368.8 386.4,1363.3 388.4,1362.2 390.4,1360.8 392.4,1358.4 394.4,1357.3 396.4,1359.1 398.4,1357.1 400.4,1357.5 402.4,1357.8 404.4,1359.0 406.4,1360.2 408.4,1363.6 410.4,1366.8 412.4,1368.7 414.4,1371.8 416.4,1377.8 418.4,1381.9 420.4,1388.6 422.4,1396.2 424.4,1402.6 426.4,1405.5 428.4,1408.1 430.4,1412.9 432.4,1412.8 434.4,1416.4 436.4,1420.1 438.4,1420.5 440.4,1419.2 442.4,1418.8 444.4,1420.1 446.4,1417.4 448.4,1414.0 450.4,1410.5 452.4,1403.4 454.4,1393.7 456.4,1385.3 458.4,1370.8 460.4,1355.4 462.4,1338.6 464.4,1322.5 466.4,1303.7 468.4,1287.7 470.4,1271.4 472.4,1259.4 474.4,1247.6 476.4,1239.3 478.4,1231.8 480.4,1227.5 482.4,1224.9 484.4,1223.5 486.4,1216.7 488.4,1214.3 490.4,1213.5 492.4,1212.1 494.4,1209.9 496.4,1209.9 498.4,1208.2 500.4,1209.4 502.4,1210.8 504.4,1211.9 506.4,1210.9 508.4,1211.6 510.4,1213.3 512.4,1215.1 514.4,1215.9 516.4,1216.1 518.4,1218.1 520.4,1218.9 522.4,1216.7 524.4,1214.4 526.4,1213.4 528.4,1209.9 530.4,1206.6 532.4,1201.7 534.4,1196.8 536.4,1192.9 538.4,1188.3 540.4,1184.6 542.4,1181.4 544.4,1178.3 546.4,1176.8 548.4,1172.1 550.4,1170.9 552.4,1168.6 554.4,1169.0 556.4,1166.9 558.4,1165.6 560.4,1165.8 562.4,1164.0 564.4,1162.0 566.4,1162.4 568.4,1160.6 570.4,1161.1 572.4,1160.8 574.4,1161.0 576.4,1161.2 578.4,1160.9 580.4,1163.5 582.4,1164.0 584.4,1165.7 586.4,1166.4 588.4,1167.1 590.4,1168.3 592.4,1171.4 594.4,1173.9 596.4,1175.0 598.4,1178.8 600.4,1183.2 602.4,1185.1 604.4,1189.2 606.4,1191.7 608.4,1196.6 610.4,1198.2 612.4,1200.2 614.4,1202.4 616.4,1208.0 618.4,1214.5 620.4,1219.6 622.4,1226.1 624.4,1233.5 626.4,1238.0 628.4,1245.1 630.4,1251.7 632.4,1256.8 634.4,1263.6 636.4,1271.8 638.4,1279.0 640.4,1286.4 642.4,1294.0 644.4,1300.7 646.4,1305.5 648.4,1311.2 650.4,1317.6 652.4,1324.1 654.4,1331.2 656.4,1336.9 658.4,1346.9 660.4,1355.3 662.4,1363.3 664.4,1372.4 666.4,1381.2 668.4,1390.5 670.4,1396.4 672.4,1406.4 674.4,1414.4 676.4,1423.0 678.4,1432.8 680.4,1440.9 682.4,1447.1 684.4,1455.1 686.4,1462.5 688.4,1467.5 690.4,1475.9 692.4,1481.1 694.4,1487.3 696.4,1493.3 698.4,1500.3 700.4,1504.3 702.4,1509.5 704.4,1516.7 706.4,1519.9 708.4,1525.1 710.4,1529.4 712.4,1536.7 714.4,1540.9 716.4,1546.0 718.4,1550.5 720.4,1554.8 722.4,1558.7 724.4,1562.9 726.4,1567.9 728.4,1571.2 730.4,1576.0 732.4,1577.0 734.4,1580.3 736.4,1582.7 738.4,1587.5 740.4,1587.8 742.4,1592.0 744.4,1595.0 746.4,1595.8 748.4,1598.6 750.4,1598.0 752.4,1601.4 754.4,1602.0 756.4,1605.4 758.4,1606.8 760.4,1607.7 762.4,1610.7 764.4,1611.6 766.4,1612.2 768.4,1613.5 770.4,1613.9 772.4,1616.3 774.4,1619.4 776.4,1617.9 778.4,1619.9 780.4,1620.0 782.4,1622.1 784.4,1622.6 786.4,1622.8 788.4,1622.2 790.4,1624.1 792.4,1626.3 794.4,1625.7 796.4,1627.1 798.4,1626.7 800.4,1626.1 802.4,1628.6 804.4,1629.0 806.4,1628.7 808.4,1629.3 810.4,1630.3 812.4,1629.8 814.4,1631.0 816.4,1630.8 818.4,1629.2 820.4,1631.5 822.4,1631.4 824.4,1631.4 826.4,1632.8 828.4,1632.3 830.4,1633.4 832.4,1634.1 834.4,1633.5 836.4,1632.2 838.4,1633.1 840.4,1634.7 842.4,1633.8 844.4,1633.5 846.4,1634.2 848.4,1634.8 850.4,1634.7 852.4,1635.1 854.4,1633.9 856.4,1634.4 858.4,1634.5 860.4,1634.8 862.4,1633.0 864.4,1634.7 866.4,1633.8 868.4,1636.2 870.4,1636.4 872.4,1636.6 874.4,1635.9 876.4,1634.7 878.4,1636.1 880.4,1635.1 882.4,1635.8 884.4,1634.5 886.4,1634.8 888.4,1635.8 890.4,1637.0 892.4,1635.4 894.4,1637.4 896.4,1637.9 898.4,1634.3 900.4,1635.5 902.4,1634.7 904.4,1635.4 906.4,1635.1 908.4,1635.5 910.4,1636.4 912.4,1636.4 914.4,1635.8 916.4,1635.6 918.4,1635.7 920.4,1635.8 922.4,1636.2 924.4,1635.7 926.4,1636.1 928.4,1634.5 930.4,1636.4 932.4,1637.3 934.4,1635.9 936.4,1634.5 938.4,1637.0 940.4,1635.5 942.4,1633.1 944.4,1635.6 946.4,1636.4 948.4,1636.2 950.4,1637.0 952.4,1636.4 954.4,1636.0 956.4,1634.1 958.4,1634.9 960.4,1636.1 962.4,1636.5 964.4,1635.0 966.4,1635.4 968.4,1636.3 970.4,1634.2 972.4,1634.2 974.4,1635.7 976.4,1636.2 978.4,1635.5 980.4,1633.9 982.4,1636.0 984.4,1634.8 986.4,1636.6 988.4,1635.9 990.4,1636.2 992.4,1636.6 994.4,1635.5 996.4,1636.7 998.4,1637.1 1000.4,1636.3 1002.4,1637.2 1004.4,1635.4 1006.4,1636.8 1008.4,1636.2 1010.4,1635.1 1012.4,1635.9 1014.4,1635.5 1016.4,1635.5 1018.4,1636.1 1020.4,1636.9 1022.4,1635.7 1024.4,1636.1 1026.4,1634.7 1028.4,1636.1 1030.4,1637.0 1032.4,1636.7 1034.4,1636.4 1036.4,1635.5 1038.4,1635.1 1040.4,1635.9 1042.4,1634.8 1044.4,1634.9 1046.4,1636.8 1048.4,1635.2 1050.4,1637.6 1052.4,1634.7 1054.4,1636.4 1056.4,1634.9 1058.4,1636.1 1060.4,1635.1 1062.4,1636.0 1064.4,1635.9 1066.4,1635.6 1068.4,1636.4 1070.4,1637.3 1072.4,1635.5 1074.4,1636.8 1076.4,1636.1" fill="none" stroke="#c76fe6" stroke-width="3.6" stroke-linejoin="round" stroke-linecap="round"/>
<polyline points="228.4,1625.7 230.4,1624.5 232.4,1626.8 234.4,1623.4 236.4,1618.0 238.4,1621.7 240.4,1617.5 242.4,1620.7 244.4,1619.8 246.4,1622.1 248.4,1625.3 250.4,1623.7 252.4,1624.1 254.4,1623.6 256.4,1622.2 258.4,1625.5 260.4,1617.9 262.4,1616.9 264.4,1617.1 266.4,1612.9 268.4,1610.0 270.4,1614.5 272.4,1609.5 274.4,1606.7 276.4,1606.5 278.4,1607.0 280.4,1604.8 282.4,1603.1 284.4,1604.1 286.4,1603.8 288.4,1597.2 290.4,1595.9 292.4,1595.4 294.4,1590.9 296.4,1587.5 298.4,1585.6 300.4,1579.0 302.4,1575.3 304.4,1575.2 306.4,1568.2 308.4,1563.7 310.4,1562.8 312.4,1560.6 314.4,1554.1 316.4,1555.4 318.4,1550.2 320.4,1546.6 322.4,1543.3 324.4,1539.8 326.4,1536.8 328.4,1536.1 330.4,1532.9 332.4,1528.9 334.4,1527.7 336.4,1525.1 338.4,1521.9 340.4,1521.3 342.4,1520.1 344.4,1517.3 346.4,1512.6 348.4,1512.5 350.4,1508.9 352.4,1505.6 354.4,1501.8 356.4,1498.5 358.4,1495.5 360.4,1490.1 362.4,1484.4 364.4,1479.2 366.4,1474.4 368.4,1470.5 370.4,1467.0 372.4,1459.8 374.4,1456.4 376.4,1452.0 378.4,1447.8 380.4,1445.5 382.4,1442.7 384.4,1438.6 386.4,1437.1 388.4,1437.7 390.4,1436.0 392.4,1435.7 394.4,1434.6 396.4,1434.9 398.4,1436.2 400.4,1436.1 402.4,1436.6 404.4,1439.0 406.4,1441.8 408.4,1442.6 410.4,1447.6 412.4,1451.0 414.4,1453.8 416.4,1459.2 418.4,1464.0 420.4,1469.6 422.4,1474.8 424.4,1478.0 426.4,1482.5 428.4,1488.6 430.4,1491.3 432.4,1494.4 434.4,1496.5 436.4,1499.1 438.4,1497.4 440.4,1499.7 442.4,1497.8 444.4,1498.5 446.4,1498.0 448.4,1493.8 450.4,1492.5 452.4,1487.3 454.4,1480.6 456.4,1472.1 458.4,1460.5 460.4,1448.9 462.4,1438.2 464.4,1426.2 466.4,1413.1 468.4,1401.1 470.4,1394.3 472.4,1384.0 474.4,1375.4 476.4,1367.4 478.4,1362.2 480.4,1358.2 482.4,1353.3 484.4,1352.1 486.4,1347.6 488.4,1344.6 490.4,1340.1 492.4,1337.1 494.4,1334.7 496.4,1333.8 498.4,1332.3 500.4,1332.0 502.4,1332.9 504.4,1333.7 506.4,1336.1 508.4,1336.1 510.4,1337.0 512.4,1339.4 514.4,1341.9 516.4,1340.8 518.4,1341.4 520.4,1340.8 522.4,1340.8 524.4,1339.7 526.4,1337.5 528.4,1336.2 530.4,1334.8 532.4,1331.9 534.4,1328.4 536.4,1324.8 538.4,1320.3 540.4,1317.1 542.4,1315.4 544.4,1311.1 546.4,1309.9 548.4,1306.4 550.4,1305.9 552.4,1304.0 554.4,1302.0 556.4,1302.2 558.4,1299.8 560.4,1298.9 562.4,1298.1 564.4,1297.0 566.4,1298.5 568.4,1296.7 570.4,1297.5 572.4,1296.5 574.4,1297.9 576.4,1298.8 578.4,1299.6 580.4,1300.3 582.4,1302.0 584.4,1304.3 586.4,1304.0 588.4,1305.3 590.4,1306.5 592.4,1310.8 594.4,1312.0 596.4,1313.7 598.4,1317.2 600.4,1320.0 602.4,1324.8 604.4,1329.0 606.4,1332.2 608.4,1334.2 610.4,1337.0 612.4,1341.6 614.4,1345.8 616.4,1348.6 618.4,1355.8 620.4,1362.1 622.4,1365.6 624.4,1371.3 626.4,1374.7 628.4,1381.5 630.4,1384.6 632.4,1389.4 634.4,1395.4 636.4,1403.7 638.4,1407.6 640.4,1414.2 642.4,1422.9 644.4,1429.5 646.4,1436.8 648.4,1439.6 650.4,1444.4 652.4,1450.8 654.4,1457.1 656.4,1463.3 658.4,1470.3 660.4,1474.4 662.4,1481.0 664.4,1487.2 666.4,1493.4 668.4,1498.2 670.4,1502.3 672.4,1506.7 674.4,1513.3 676.4,1518.3 678.4,1525.0 680.4,1527.6 682.4,1534.3 684.4,1536.8 686.4,1542.3 688.4,1546.8 690.4,1551.2 692.4,1554.9 694.4,1558.8 696.4,1562.7 698.4,1565.6 700.4,1569.6 702.4,1571.9 704.4,1574.8 706.4,1578.8 708.4,1580.4 710.4,1582.8 712.4,1585.2 714.4,1587.8 716.4,1590.6 718.4,1591.8 720.4,1595.8 722.4,1598.4 724.4,1600.1 726.4,1600.7 728.4,1601.7 730.4,1604.5 732.4,1606.8 734.4,1609.0 736.4,1609.6 738.4,1611.0 740.4,1614.0 742.4,1613.5 744.4,1616.4 746.4,1617.5 748.4,1616.7 750.4,1619.3 752.4,1619.7 754.4,1620.4 756.4,1620.5 758.4,1621.7 760.4,1624.3 762.4,1624.3 764.4,1625.7 766.4,1625.2 768.4,1626.5 770.4,1627.2 772.4,1626.7 774.4,1627.1 776.4,1629.5 778.4,1629.8 780.4,1629.3 782.4,1630.5 784.4,1631.6 786.4,1633.0 788.4,1631.0 790.4,1632.6 792.4,1634.3 794.4,1632.8 796.4,1634.3 798.4,1631.0 800.4,1634.8 802.4,1633.8 804.4,1632.4 806.4,1635.0 808.4,1635.5 810.4,1635.8 812.4,1636.0 814.4,1635.1 816.4,1634.7 818.4,1635.1 820.4,1635.6 822.4,1636.0 824.4,1635.3 826.4,1635.9 828.4,1636.6 830.4,1636.2 832.4,1637.9 834.4,1637.8 836.4,1634.9 838.4,1635.4 840.4,1634.8 842.4,1634.9 844.4,1636.4 846.4,1635.0 848.4,1635.0 850.4,1635.7 852.4,1636.6 854.4,1635.6 856.4,1635.6 858.4,1636.8 860.4,1636.4 862.4,1636.4 864.4,1636.8 866.4,1635.1 868.4,1636.1 870.4,1635.4 872.4,1636.9 874.4,1636.7 876.4,1635.0 878.4,1637.1 880.4,1634.9 882.4,1637.0 884.4,1636.2 886.4,1635.2 888.4,1635.0 890.4,1635.7 892.4,1636.0 894.4,1635.3 896.4,1636.5 898.4,1634.7 900.4,1636.0 902.4,1636.0 904.4,1634.3 906.4,1636.2 908.4,1634.9 910.4,1633.8 912.4,1635.4 914.4,1635.8 916.4,1636.8 918.4,1635.5 920.4,1637.3 922.4,1637.2 924.4,1636.9 926.4,1637.1 928.4,1636.3 930.4,1635.5 932.4,1636.5 934.4,1636.8 936.4,1636.2 938.4,1635.8 940.4,1634.6 942.4,1636.6 944.4,1636.3 946.4,1634.8 948.4,1636.1 950.4,1636.6 952.4,1635.9 954.4,1636.7 956.4,1636.6 958.4,1634.7 960.4,1635.7 962.4,1636.4 964.4,1636.8 966.4,1637.2 968.4,1634.3 970.4,1635.9 972.4,1636.6 974.4,1637.1 976.4,1637.5 978.4,1635.1 980.4,1635.6 982.4,1635.0 984.4,1636.7 986.4,1634.8 988.4,1637.0 990.4,1636.8 992.4,1636.4 994.4,1634.0 996.4,1635.4 998.4,1636.6 1000.4,1634.7 1002.4,1635.8 1004.4,1635.9 1006.4,1636.8 1008.4,1636.2 1010.4,1636.2 1012.4,1635.6 1014.4,1636.0 1016.4,1635.9 1018.4,1636.6 1020.4,1635.8 1022.4,1636.9 1024.4,1634.5 1026.4,1637.0 1028.4,1635.8 1030.4,1637.0 1032.4,1636.0 1034.4,1636.7 1036.4,1637.3 1038.4,1635.5 1040.4,1636.0 1042.4,1635.8 1044.4,1636.2 1046.4,1634.5 1048.4,1635.8 1050.4,1635.7 1052.4,1635.3 1054.4,1635.8 1056.4,1634.6 1058.4,1637.2 1060.4,1636.4 1062.4,1637.6 1064.4,1635.2 1066.4,1634.9 1068.4,1636.2 1070.4,1634.5 1072.4,1636.2 1074.4,1635.3 1076.4,1635.7" fill="none" stroke="#de9c00" stroke-width="4.6" stroke-linejoin="round" stroke-linecap="round"/>
</g>
<clipPath id="c4"><rect x="1318.80" y="955.50" width="890.00" height="725.20"/></clipPath>
<g clip-path="url(#c4)">
<polyline points="1340.0,1652.7 1342.0,1647.0 1344.0,1650.2 1346.0,1646.8 1348.0,1645.9 1350.0,1648.1 1352.0,1644.2 1354.0,1642.8 1356.0,1640.6 1358.0,1643.5 1360.0,1637.0 1362.0,1641.2 1364.0,1639.4 1366.0,1635.5 1368.0,1635.6 1370.0,1635.2 1372.0,1631.2 1374.0,1627.9 1376.0,1628.8 1378.0,1627.0 1380.0,1621.0 1382.0,1617.7 1384.0,1616.5 1386.0,1614.1 1388.0,1609.4 1390.0,1610.0 1392.0,1608.0 1394.0,1603.7 1396.0,1605.3 1398.0,1600.6 1400.0,1596.0 1402.0,1596.4 1404.0,1593.1 1406.0,1591.4 1408.0,1589.8 1410.0,1586.8 1412.0,1585.9 1414.0,1581.7 1416.0,1581.5 1418.0,1575.6 1420.0,1575.7 1422.0,1573.9 1424.0,1572.1 1426.0,1569.8 1428.0,1567.2 1430.0,1564.8 1432.0,1560.8 1434.0,1556.6 1436.0,1556.4 1438.0,1553.9 1440.0,1548.1 1442.0,1545.3 1444.0,1542.6 1446.0,1539.7 1448.0,1536.0 1450.0,1533.1 1452.0,1528.6 1454.0,1525.7 1456.0,1522.6 1458.0,1518.9 1460.0,1517.4 1462.0,1514.1 1464.0,1511.7 1466.0,1507.9 1468.0,1506.6 1470.0,1502.2 1472.0,1500.9 1474.0,1495.8 1476.0,1494.7 1478.0,1493.8 1480.0,1490.4 1482.0,1488.6 1484.0,1484.7 1486.0,1485.1 1488.0,1481.6 1490.0,1478.2 1492.0,1475.3 1494.0,1471.4 1496.0,1468.1 1498.0,1462.5 1500.0,1456.7 1502.0,1454.2 1504.0,1452.9 1506.0,1450.5 1508.0,1448.6 1510.0,1449.0 1512.0,1448.3 1514.0,1448.7 1516.0,1447.3 1518.0,1449.0 1520.0,1452.3 1522.0,1454.3 1524.0,1458.4 1526.0,1464.0 1528.0,1466.5 1530.0,1471.7 1532.0,1475.8 1534.0,1480.3 1536.0,1485.1 1538.0,1487.9 1540.0,1490.8 1542.0,1497.0 1544.0,1498.4 1546.0,1501.8 1548.0,1502.6 1550.0,1503.7 1552.0,1504.6 1554.0,1504.5 1556.0,1502.1 1558.0,1503.0 1560.0,1499.3 1562.0,1498.0 1564.0,1497.1 1566.0,1491.0 1568.0,1487.5 1570.0,1479.7 1572.0,1473.5 1574.0,1464.7 1576.0,1455.7 1578.0,1444.3 1580.0,1433.3 1582.0,1423.0 1584.0,1410.0 1586.0,1399.4 1588.0,1389.7 1590.0,1378.0 1592.0,1367.8 1594.0,1358.2 1596.0,1350.8 1598.0,1342.7 1600.0,1336.3 1602.0,1330.0 1604.0,1326.4 1606.0,1319.6 1608.0,1313.9 1610.0,1311.9 1612.0,1308.8 1614.0,1306.7 1616.0,1303.8 1618.0,1305.5 1620.0,1304.4 1622.0,1304.8 1624.0,1304.4 1626.0,1307.4 1628.0,1308.2 1630.0,1310.3 1632.0,1308.9 1634.0,1307.5 1636.0,1307.4 1638.0,1304.7 1640.0,1303.7 1642.0,1300.0 1644.0,1298.0 1646.0,1294.7 1648.0,1291.3 1650.0,1287.1 1652.0,1283.1 1654.0,1280.1 1656.0,1276.5 1658.0,1274.4 1660.0,1271.6 1662.0,1267.6 1664.0,1267.1 1666.0,1265.7 1668.0,1261.7 1670.0,1258.5 1672.0,1254.7 1674.0,1250.4 1676.0,1246.4 1678.0,1245.3 1680.0,1242.9 1682.0,1239.9 1684.0,1237.3 1686.0,1234.9 1688.0,1232.5 1690.0,1231.0 1692.0,1229.6 1694.0,1229.0 1696.0,1227.4 1698.0,1227.3 1700.0,1228.2 1702.0,1227.4 1704.0,1225.7 1706.0,1228.4 1708.0,1226.9 1710.0,1231.4 1712.0,1231.4 1714.0,1232.4 1716.0,1232.3 1718.0,1232.9 1720.0,1234.7 1722.0,1236.1 1724.0,1236.7 1726.0,1239.1 1728.0,1241.5 1730.0,1243.6 1732.0,1244.6 1734.0,1246.2 1736.0,1250.7 1738.0,1252.8 1740.0,1256.2 1742.0,1259.7 1744.0,1262.2 1746.0,1263.5 1748.0,1266.8 1750.0,1270.1 1752.0,1272.0 1754.0,1276.0 1756.0,1280.7 1758.0,1284.5 1760.0,1288.9 1762.0,1293.7 1764.0,1299.3 1766.0,1303.8 1768.0,1310.1 1770.0,1314.4 1772.0,1321.3 1774.0,1326.6 1776.0,1330.2 1778.0,1338.1 1780.0,1342.8 1782.0,1350.5 1784.0,1356.1 1786.0,1362.0 1788.0,1369.0 1790.0,1374.4 1792.0,1381.7 1794.0,1388.3 1796.0,1394.4 1798.0,1401.5 1800.0,1407.0 1802.0,1415.0 1804.0,1420.3 1806.0,1428.6 1808.0,1435.2 1810.0,1442.1 1812.0,1447.5 1814.0,1457.1 1816.0,1460.7 1818.0,1467.3 1820.0,1472.7 1822.0,1480.7 1824.0,1485.2 1826.0,1492.4 1828.0,1496.7 1830.0,1503.6 1832.0,1508.9 1834.0,1515.8 1836.0,1520.5 1838.0,1525.8 1840.0,1532.6 1842.0,1536.8 1844.0,1542.5 1846.0,1549.3 1848.0,1552.2 1850.0,1559.3 1852.0,1563.0 1854.0,1567.0 1856.0,1572.2 1858.0,1576.7 1860.0,1579.6 1862.0,1583.8 1864.0,1588.3 1866.0,1591.7 1868.0,1594.3 1870.0,1596.9 1872.0,1599.7 1874.0,1602.8 1876.0,1606.6 1878.0,1609.2 1880.0,1611.4 1882.0,1614.8 1884.0,1615.7 1886.0,1617.8 1888.0,1620.0 1890.0,1623.9 1892.0,1622.5 1894.0,1626.3 1896.0,1628.1 1898.0,1629.3 1900.0,1632.7 1902.0,1633.1 1904.0,1634.1 1906.0,1634.0 1908.0,1636.4 1910.0,1636.8 1912.0,1638.3 1914.0,1639.5 1916.0,1639.9 1918.0,1641.8 1920.0,1643.6 1922.0,1643.9 1924.0,1644.0 1926.0,1643.0 1928.0,1646.2 1930.0,1646.8 1932.0,1646.4 1934.0,1646.7 1936.0,1648.2 1938.0,1647.5 1940.0,1649.4 1942.0,1648.3 1944.0,1648.9 1946.0,1650.2 1948.0,1649.3 1950.0,1650.9 1952.0,1651.7 1954.0,1650.4 1956.0,1652.5 1958.0,1651.3 1960.0,1652.4 1962.0,1652.2 1964.0,1651.6 1966.0,1651.6 1968.0,1650.6 1970.0,1651.5 1972.0,1651.5 1974.0,1653.5 1976.0,1653.0 1978.0,1651.0 1980.0,1652.9 1982.0,1652.4 1984.0,1651.9 1986.0,1652.7 1988.0,1652.9 1990.0,1651.8 1992.0,1652.1 1994.0,1652.5 1996.0,1651.5 1998.0,1652.5 2000.0,1652.3 2002.0,1651.8 2004.0,1651.7 2006.0,1652.7 2008.0,1653.1 2010.0,1652.7 2012.0,1651.7 2014.0,1653.1 2016.0,1652.6 2018.0,1652.9 2020.0,1653.4 2022.0,1651.7 2024.0,1652.3 2026.0,1652.0 2028.0,1651.7 2030.0,1654.2 2032.0,1653.3 2034.0,1651.0 2036.0,1652.8 2038.0,1652.0 2040.0,1653.5 2042.0,1652.6 2044.0,1652.3 2046.0,1652.6 2048.0,1652.8 2050.0,1652.5 2052.0,1652.3 2054.0,1652.4 2056.0,1652.9 2058.0,1651.5 2060.0,1652.5 2062.0,1652.4 2064.0,1652.1 2066.0,1653.1 2068.0,1651.4 2070.0,1652.2 2072.0,1651.8 2074.0,1653.0 2076.0,1652.1 2078.0,1652.5 2080.0,1652.8 2082.0,1651.2 2084.0,1652.9 2086.0,1651.9 2088.0,1652.3 2090.0,1652.4 2092.0,1653.2 2094.0,1653.1 2096.0,1654.0 2098.0,1652.6 2100.0,1652.1 2102.0,1652.1 2104.0,1653.0 2106.0,1653.8 2108.0,1652.8 2110.0,1652.0 2112.0,1652.7 2114.0,1652.7 2116.0,1652.5 2118.0,1651.9 2120.0,1650.4 2122.0,1652.0 2124.0,1653.4 2126.0,1652.7 2128.0,1650.6 2130.0,1652.5 2132.0,1650.9 2134.0,1654.2 2136.0,1652.7 2138.0,1651.5 2140.0,1653.2 2142.0,1651.8 2144.0,1653.0 2146.0,1652.5 2148.0,1651.5 2150.0,1653.1 2152.0,1651.4 2154.0,1653.6 2156.0,1652.6 2158.0,1651.6 2160.0,1651.0 2162.0,1653.9 2164.0,1653.7 2166.0,1651.4 2168.0,1653.9 2170.0,1652.6 2172.0,1652.3 2174.0,1652.4 2176.0,1652.3 2178.0,1653.7 2180.0,1652.6 2182.0,1651.0 2184.0,1654.3 2186.0,1653.2 2188.0,1651.6 2190.0,1652.2 2192.0,1651.7 2194.0,1652.5 2196.0,1652.8 2198.0,1652.7 2200.0,1652.0 2202.0,1651.8 2204.0,1653.2 2206.0,1652.4" fill="none" stroke="#464646" stroke-width="4.4" stroke-linejoin="round" stroke-linecap="round"/>
<polyline points="1338.0,1611.0 1340.0,1611.3 1342.0,1614.3 1344.0,1616.3 1346.0,1617.8 1348.0,1619.0 1350.0,1621.5 1352.0,1620.4 1354.0,1618.0 1356.0,1614.6 1358.0,1618.3 1360.0,1614.3 1362.0,1616.0 1364.0,1615.4 1366.0,1612.3 1368.0,1613.8 1370.0,1610.8 1372.0,1614.9 1374.0,1610.6 1376.0,1607.3 1378.0,1609.8 1380.0,1606.9 1382.0,1604.8 1384.0,1597.8 1386.0,1596.0 1388.0,1599.7 1390.0,1593.4 1392.0,1588.4 1394.0,1584.6 1396.0,1581.6 1398.0,1574.5 1400.0,1573.1 1402.0,1565.5 1404.0,1562.7 1406.0,1556.4 1408.0,1553.0 1410.0,1547.9 1412.0,1543.1 1414.0,1543.2 1416.0,1534.9 1418.0,1532.8 1420.0,1531.1 1422.0,1525.3 1424.0,1523.5 1426.0,1519.1 1428.0,1514.4 1430.0,1509.9 1432.0,1507.1 1434.0,1503.2 1436.0,1496.5 1438.0,1492.5 1440.0,1488.8 1442.0,1482.0 1444.0,1477.8 1446.0,1472.6 1448.0,1469.6 1450.0,1466.0 1452.0,1462.4 1454.0,1459.2 1456.0,1455.7 1458.0,1453.2 1460.0,1450.8 1462.0,1449.3 1464.0,1445.2 1466.0,1441.5 1468.0,1439.0 1470.0,1434.7 1472.0,1429.0 1474.0,1424.3 1476.0,1420.4 1478.0,1414.8 1480.0,1408.4 1482.0,1403.8 1484.0,1397.8 1486.0,1392.8 1488.0,1384.8 1490.0,1379.8 1492.0,1373.1 1494.0,1366.0 1496.0,1363.0 1498.0,1359.4 1500.0,1355.3 1502.0,1357.0 1504.0,1354.0 1506.0,1354.1 1508.0,1354.5 1510.0,1355.0 1512.0,1354.1 1514.0,1352.7 1516.0,1353.3 1518.0,1352.4 1520.0,1354.0 1522.0,1357.0 1524.0,1357.5 1526.0,1359.3 1528.0,1366.6 1530.0,1373.1 1532.0,1382.4 1534.0,1391.3 1536.0,1398.9 1538.0,1407.0 1540.0,1414.7 1542.0,1421.0 1544.0,1424.5 1546.0,1432.9 1548.0,1437.1 1550.0,1441.6 1552.0,1445.4 1554.0,1446.4 1556.0,1447.7 1558.0,1447.6 1560.0,1445.4 1562.0,1441.5 1564.0,1436.4 1566.0,1430.4 1568.0,1425.2 1570.0,1416.0 1572.0,1405.1 1574.0,1391.9 1576.0,1380.0 1578.0,1364.6 1580.0,1351.8 1582.0,1334.6 1584.0,1317.5 1586.0,1302.2 1588.0,1290.1 1590.0,1275.5 1592.0,1261.2 1594.0,1251.3 1596.0,1240.7 1598.0,1232.3 1600.0,1227.7 1602.0,1225.4 1604.0,1222.1 1606.0,1219.4 1608.0,1218.2 1610.0,1218.0 1612.0,1217.9 1614.0,1214.7 1616.0,1213.8 1618.0,1217.3 1620.0,1217.1 1622.0,1220.4 1624.0,1221.8 1626.0,1225.6 1628.0,1226.1 1630.0,1229.0 1632.0,1231.3 1634.0,1231.4 1636.0,1229.8 1638.0,1229.9 1640.0,1226.5 1642.0,1223.1 1644.0,1221.5 1646.0,1218.5 1648.0,1213.8 1650.0,1207.4 1652.0,1204.5 1654.0,1199.5 1656.0,1193.7 1658.0,1187.2 1660.0,1186.0 1662.0,1181.9 1664.0,1178.2 1666.0,1173.3 1668.0,1171.1 1670.0,1171.4 1672.0,1169.7 1674.0,1168.5 1676.0,1167.2 1678.0,1167.5 1680.0,1166.6 1682.0,1166.9 1684.0,1166.6 1686.0,1168.0 1688.0,1167.9 1690.0,1169.7 1692.0,1169.8 1694.0,1168.6 1696.0,1170.8 1698.0,1167.8 1700.0,1169.0 1702.0,1169.8 1704.0,1170.8 1706.0,1169.1 1708.0,1173.8 1710.0,1175.8 1712.0,1177.6 1714.0,1175.8 1716.0,1178.8 1718.0,1181.3 1720.0,1183.8 1722.0,1189.0 1724.0,1191.3 1726.0,1197.2 1728.0,1200.5 1730.0,1202.3 1732.0,1206.3 1734.0,1210.6 1736.0,1215.6 1738.0,1221.7 1740.0,1226.6 1742.0,1233.9 1744.0,1238.0 1746.0,1242.8 1748.0,1251.0 1750.0,1257.2 1752.0,1261.9 1754.0,1266.8 1756.0,1273.6 1758.0,1280.6 1760.0,1284.5 1762.0,1289.7 1764.0,1295.5 1766.0,1304.1 1768.0,1308.7 1770.0,1316.4 1772.0,1324.7 1774.0,1332.9 1776.0,1339.7 1778.0,1349.7 1780.0,1357.6 1782.0,1364.7 1784.0,1372.5 1786.0,1378.3 1788.0,1386.3 1790.0,1393.8 1792.0,1403.4 1794.0,1410.7 1796.0,1420.5 1798.0,1427.8 1800.0,1437.1 1802.0,1444.8 1804.0,1452.5 1806.0,1459.7 1808.0,1465.9 1810.0,1472.2 1812.0,1476.8 1814.0,1486.0 1816.0,1491.0 1818.0,1498.2 1820.0,1504.7 1822.0,1513.6 1824.0,1519.0 1826.0,1527.0 1828.0,1533.8 1830.0,1539.9 1832.0,1544.6 1834.0,1548.7 1836.0,1551.3 1838.0,1557.5 1840.0,1561.3 1842.0,1564.7 1844.0,1568.4 1846.0,1571.4 1848.0,1574.7 1850.0,1579.9 1852.0,1583.9 1854.0,1585.6 1856.0,1591.1 1858.0,1594.1 1860.0,1598.0 1862.0,1600.7 1864.0,1604.4 1866.0,1607.0 1868.0,1609.5 1870.0,1609.9 1872.0,1614.2 1874.0,1615.7 1876.0,1616.8 1878.0,1620.4 1880.0,1620.5 1882.0,1624.4 1884.0,1626.8 1886.0,1626.5 1888.0,1629.3 1890.0,1630.4 1892.0,1632.0 1894.0,1631.6 1896.0,1634.7 1898.0,1635.5 1900.0,1637.3 1902.0,1637.9 1904.0,1640.1 1906.0,1640.5 1908.0,1642.0 1910.0,1643.6 1912.0,1643.5 1914.0,1645.2 1916.0,1645.3 1918.0,1646.4 1920.0,1646.1 1922.0,1647.9 1924.0,1648.8 1926.0,1648.1 1928.0,1649.3 1930.0,1649.3 1932.0,1648.3 1934.0,1649.9 1936.0,1651.1 1938.0,1649.7 1940.0,1648.9 1942.0,1650.9 1944.0,1650.4 1946.0,1652.8 1948.0,1651.3 1950.0,1651.5 1952.0,1651.1 1954.0,1652.0 1956.0,1651.4 1958.0,1651.1 1960.0,1651.9 1962.0,1651.3 1964.0,1653.2 1966.0,1651.1 1968.0,1652.1 1970.0,1651.5 1972.0,1650.9 1974.0,1653.7 1976.0,1650.3 1978.0,1653.5 1980.0,1651.0 1982.0,1652.3 1984.0,1654.3 1986.0,1650.4 1988.0,1651.1 1990.0,1653.5 1992.0,1652.5 1994.0,1651.9 1996.0,1652.3 1998.0,1651.5 2000.0,1652.5 2002.0,1653.7 2004.0,1652.1 2006.0,1652.5 2008.0,1653.5 2010.0,1654.2 2012.0,1651.9 2014.0,1652.7 2016.0,1652.0 2018.0,1651.9 2020.0,1652.1 2022.0,1651.9 2024.0,1651.0 2026.0,1650.7 2028.0,1651.9 2030.0,1652.6 2032.0,1653.6 2034.0,1652.1 2036.0,1652.4 2038.0,1653.1 2040.0,1653.2 2042.0,1652.4 2044.0,1652.5 2046.0,1654.2 2048.0,1652.2 2050.0,1652.1 2052.0,1651.1 2054.0,1652.9 2056.0,1652.3 2058.0,1654.2 2060.0,1652.2 2062.0,1653.2 2064.0,1653.4 2066.0,1654.0 2068.0,1651.4 2070.0,1653.9 2072.0,1652.5 2074.0,1652.4 2076.0,1652.3 2078.0,1652.2 2080.0,1652.2 2082.0,1650.5 2084.0,1653.0 2086.0,1652.6 2088.0,1651.7 2090.0,1652.5 2092.0,1654.6 2094.0,1652.9 2096.0,1652.2 2098.0,1654.0 2100.0,1651.8 2102.0,1652.4 2104.0,1652.0 2106.0,1652.3 2108.0,1653.2 2110.0,1653.0 2112.0,1651.9 2114.0,1652.4 2116.0,1652.6 2118.0,1652.2 2120.0,1652.5 2122.0,1651.9 2124.0,1651.9 2126.0,1652.6 2128.0,1651.6 2130.0,1652.9 2132.0,1652.4 2134.0,1651.7 2136.0,1652.0 2138.0,1652.1 2140.0,1652.4 2142.0,1652.6 2144.0,1652.3 2146.0,1651.8 2148.0,1653.8 2150.0,1653.3 2152.0,1652.6 2154.0,1653.4 2156.0,1652.8 2158.0,1652.3 2160.0,1652.6 2162.0,1654.9 2164.0,1653.4 2166.0,1653.4 2168.0,1652.2 2170.0,1653.1 2172.0,1654.5 2174.0,1652.9 2176.0,1653.5 2178.0,1653.6 2180.0,1653.1 2182.0,1653.9 2184.0,1652.7 2186.0,1653.0 2188.0,1652.0 2190.0,1654.8 2192.0,1652.8 2194.0,1652.6 2196.0,1653.7 2198.0,1652.1 2200.0,1652.5 2202.0,1651.8 2204.0,1652.5 2206.0,1652.2" fill="none" stroke="#ff3838" stroke-width="3.8" stroke-linejoin="round" stroke-linecap="round"/>
<polyline points="1340.0,1636.9 1342.0,1637.0 1344.0,1633.8 1346.0,1630.8 1348.0,1631.7 1350.0,1626.6 1352.0,1620.1 1354.0,1623.5 1356.0,1613.7 1358.0,1616.1 1360.0,1613.6 1362.0,1610.4 1364.0,1609.5 1366.0,1608.3 1368.0,1610.3 1370.0,1605.0 1372.0,1604.6 1374.0,1602.4 1376.0,1594.5 1378.0,1592.7 1380.0,1594.4 1382.0,1589.5 1384.0,1587.0 1386.0,1583.5 1388.0,1578.5 1390.0,1577.2 1392.0,1573.8 1394.0,1569.9 1396.0,1569.0 1398.0,1569.7 1400.0,1566.1 1402.0,1556.9 1404.0,1554.7 1406.0,1551.9 1408.0,1549.0 1410.0,1544.6 1412.0,1538.7 1414.0,1533.9 1416.0,1532.4 1418.0,1531.5 1420.0,1520.9 1422.0,1516.2 1424.0,1512.4 1426.0,1507.1 1428.0,1502.9 1430.0,1496.9 1432.0,1492.2 1434.0,1485.9 1436.0,1480.5 1438.0,1476.1 1440.0,1468.6 1442.0,1465.9 1444.0,1461.0 1446.0,1454.9 1448.0,1449.5 1450.0,1445.8 1452.0,1440.3 1454.0,1437.2 1456.0,1434.7 1458.0,1430.3 1460.0,1427.6 1462.0,1424.5 1464.0,1421.7 1466.0,1419.0 1468.0,1415.9 1470.0,1413.8 1472.0,1408.2 1474.0,1405.9 1476.0,1402.9 1478.0,1397.5 1480.0,1393.6 1482.0,1387.8 1484.0,1382.7 1486.0,1376.1 1488.0,1368.9 1490.0,1359.9 1492.0,1350.7 1494.0,1343.9 1496.0,1337.4 1498.0,1332.2 1500.0,1324.3 1502.0,1322.8 1504.0,1318.6 1506.0,1319.8 1508.0,1319.8 1510.0,1321.3 1512.0,1323.7 1514.0,1325.7 1516.0,1327.4 1518.0,1330.7 1520.0,1333.9 1522.0,1335.3 1524.0,1338.0 1526.0,1339.9 1528.0,1345.2 1530.0,1347.6 1532.0,1351.9 1534.0,1357.2 1536.0,1362.6 1538.0,1369.4 1540.0,1377.5 1542.0,1384.1 1544.0,1391.7 1546.0,1398.5 1548.0,1402.2 1550.0,1408.2 1552.0,1412.5 1554.0,1415.5 1556.0,1413.1 1558.0,1412.5 1560.0,1411.8 1562.0,1407.2 1564.0,1400.9 1566.0,1394.7 1568.0,1384.7 1570.0,1372.6 1572.0,1362.0 1574.0,1347.9 1576.0,1332.5 1578.0,1315.6 1580.0,1297.0 1582.0,1278.7 1584.0,1261.4 1586.0,1245.1 1588.0,1232.7 1590.0,1222.5 1592.0,1212.5 1594.0,1205.8 1596.0,1197.5 1598.0,1190.7 1600.0,1188.2 1602.0,1184.1 1604.0,1178.2 1606.0,1174.1 1608.0,1172.6 1610.0,1171.0 1612.0,1168.4 1614.0,1169.0 1616.0,1169.4 1618.0,1170.3 1620.0,1171.7 1622.0,1174.6 1624.0,1175.9 1626.0,1177.3 1628.0,1177.2 1630.0,1182.2 1632.0,1180.6 1634.0,1181.0 1636.0,1178.5 1638.0,1176.9 1640.0,1171.3 1642.0,1168.2 1644.0,1163.6 1646.0,1160.7 1648.0,1155.6 1650.0,1152.9 1652.0,1150.3 1654.0,1149.0 1656.0,1142.2 1658.0,1139.8 1660.0,1134.9 1662.0,1131.7 1664.0,1128.3 1666.0,1124.4 1668.0,1121.6 1670.0,1119.2 1672.0,1116.6 1674.0,1115.6 1676.0,1113.5 1678.0,1113.9 1680.0,1112.9 1682.0,1112.3 1684.0,1111.5 1686.0,1108.9 1688.0,1106.3 1690.0,1104.1 1692.0,1099.0 1694.0,1100.6 1696.0,1100.8 1698.0,1102.5 1700.0,1103.9 1702.0,1108.1 1704.0,1110.9 1706.0,1112.8 1708.0,1113.6 1710.0,1115.7 1712.0,1117.5 1714.0,1120.0 1716.0,1121.5 1718.0,1122.9 1720.0,1125.7 1722.0,1129.1 1724.0,1132.9 1726.0,1136.1 1728.0,1140.9 1730.0,1143.1 1732.0,1146.2 1734.0,1150.1 1736.0,1152.3 1738.0,1155.8 1740.0,1158.0 1742.0,1165.0 1744.0,1169.9 1746.0,1176.6 1748.0,1185.2 1750.0,1193.8 1752.0,1202.0 1754.0,1212.8 1756.0,1218.1 1758.0,1225.8 1760.0,1232.5 1762.0,1236.3 1764.0,1243.1 1766.0,1249.0 1768.0,1258.0 1770.0,1265.2 1772.0,1273.8 1774.0,1285.7 1776.0,1295.1 1778.0,1302.9 1780.0,1313.6 1782.0,1321.4 1784.0,1332.4 1786.0,1340.5 1788.0,1347.6 1790.0,1356.7 1792.0,1364.8 1794.0,1373.9 1796.0,1381.7 1798.0,1390.0 1800.0,1397.0 1802.0,1402.9 1804.0,1410.7 1806.0,1419.7 1808.0,1426.5 1810.0,1432.4 1812.0,1439.5 1814.0,1446.5 1816.0,1453.8 1818.0,1459.6 1820.0,1469.3 1822.0,1475.9 1824.0,1484.8 1826.0,1491.0 1828.0,1502.0 1830.0,1511.4 1832.0,1516.3 1834.0,1526.8 1836.0,1532.6 1838.0,1537.6 1840.0,1542.4 1842.0,1549.8 1844.0,1553.8 1846.0,1558.6 1848.0,1562.2 1850.0,1565.9 1852.0,1571.4 1854.0,1573.7 1856.0,1579.0 1858.0,1580.4 1860.0,1584.5 1862.0,1587.4 1864.0,1593.1 1866.0,1593.6 1868.0,1597.2 1870.0,1601.7 1872.0,1604.3 1874.0,1608.8 1876.0,1611.3 1878.0,1612.9 1880.0,1615.6 1882.0,1615.9 1884.0,1619.0 1886.0,1621.7 1888.0,1624.0 1890.0,1625.1 1892.0,1627.4 1894.0,1629.5 1896.0,1632.9 1898.0,1634.2 1900.0,1635.2 1902.0,1636.7 1904.0,1638.6 1906.0,1639.0 1908.0,1640.5 1910.0,1640.3 1912.0,1643.3 1914.0,1644.5 1916.0,1644.8 1918.0,1645.7 1920.0,1646.4 1922.0,1648.7 1924.0,1647.8 1926.0,1647.2 1928.0,1648.0 1930.0,1650.1 1932.0,1650.9 1934.0,1651.1 1936.0,1651.5 1938.0,1651.3 1940.0,1650.1 1942.0,1650.9 1944.0,1650.1 1946.0,1651.4 1948.0,1650.6 1950.0,1651.9 1952.0,1651.7 1954.0,1650.2 1956.0,1652.5 1958.0,1652.6 1960.0,1650.8 1962.0,1652.1 1964.0,1652.6 1966.0,1651.8 1968.0,1652.8 1970.0,1652.2 1972.0,1653.0 1974.0,1652.3 1976.0,1652.0 1978.0,1652.6 1980.0,1652.9 1982.0,1652.4 1984.0,1651.8 1986.0,1651.6 1988.0,1651.9 1990.0,1651.8 1992.0,1652.5 1994.0,1652.4 1996.0,1652.2 1998.0,1652.3 2000.0,1652.5 2002.0,1653.7 2004.0,1653.4 2006.0,1651.9 2008.0,1652.8 2010.0,1652.1 2012.0,1652.3 2014.0,1652.2 2016.0,1651.9 2018.0,1651.3 2020.0,1650.3 2022.0,1652.6 2024.0,1653.5 2026.0,1651.7 2028.0,1652.9 2030.0,1652.1 2032.0,1652.7 2034.0,1651.8 2036.0,1652.3 2038.0,1652.4 2040.0,1650.4 2042.0,1652.7 2044.0,1652.4 2046.0,1650.3 2048.0,1653.0 2050.0,1652.5 2052.0,1652.7 2054.0,1652.8 2056.0,1652.1 2058.0,1651.5 2060.0,1652.1 2062.0,1652.1 2064.0,1654.4 2066.0,1654.1 2068.0,1652.1 2070.0,1652.1 2072.0,1652.8 2074.0,1653.0 2076.0,1651.9 2078.0,1651.6 2080.0,1654.2 2082.0,1653.4 2084.0,1651.1 2086.0,1650.9 2088.0,1651.8 2090.0,1652.7 2092.0,1653.0 2094.0,1652.2 2096.0,1651.1 2098.0,1652.7 2100.0,1653.0 2102.0,1652.5 2104.0,1652.0 2106.0,1653.0 2108.0,1652.4 2110.0,1651.5 2112.0,1652.6 2114.0,1651.3 2116.0,1653.3 2118.0,1652.9 2120.0,1651.6 2122.0,1652.7 2124.0,1653.6 2126.0,1650.6 2128.0,1652.4 2130.0,1653.9 2132.0,1651.1 2134.0,1652.3 2136.0,1651.2 2138.0,1652.4 2140.0,1650.4 2142.0,1651.1 2144.0,1652.0 2146.0,1652.6 2148.0,1652.8 2150.0,1652.8 2152.0,1653.5 2154.0,1653.1 2156.0,1653.1 2158.0,1651.6 2160.0,1652.3 2162.0,1655.3 2164.0,1654.5 2166.0,1653.2 2168.0,1653.1 2170.0,1653.3 2172.0,1652.1 2174.0,1654.2 2176.0,1652.1 2178.0,1652.4 2180.0,1654.4 2182.0,1650.6 2184.0,1652.8 2186.0,1651.0 2188.0,1651.9 2190.0,1652.4 2192.0,1652.2 2194.0,1652.6 2196.0,1651.8 2198.0,1652.4 2200.0,1651.4 2202.0,1652.1 2204.0,1651.2 2206.0,1653.1" fill="none" stroke="#0a64e6" stroke-width="4.8" stroke-linejoin="round" stroke-linecap="round"/>
<polyline points="1338.0,1637.7 1340.0,1632.8 1342.0,1633.0 1344.0,1631.8 1346.0,1630.6 1348.0,1629.4 1350.0,1634.8 1352.0,1629.4 1354.0,1629.2 1356.0,1634.7 1358.0,1632.1 1360.0,1634.6 1362.0,1627.4 1364.0,1624.8 1366.0,1617.8 1368.0,1613.2 1370.0,1607.4 1372.0,1604.4 1374.0,1604.8 1376.0,1596.4 1378.0,1593.2 1380.0,1593.2 1382.0,1590.1 1384.0,1586.4 1386.0,1583.5 1388.0,1576.3 1390.0,1574.9 1392.0,1570.1 1394.0,1566.3 1396.0,1561.8 1398.0,1554.3 1400.0,1554.5 1402.0,1549.7 1404.0,1541.8 1406.0,1539.1 1408.0,1536.4 1410.0,1527.1 1412.0,1522.7 1414.0,1518.8 1416.0,1513.5 1418.0,1508.4 1420.0,1508.2 1422.0,1505.2 1424.0,1502.0 1426.0,1497.1 1428.0,1493.8 1430.0,1489.7 1432.0,1486.0 1434.0,1477.4 1436.0,1471.3 1438.0,1464.3 1440.0,1459.4 1442.0,1455.5 1444.0,1449.5 1446.0,1445.5 1448.0,1445.5 1450.0,1441.9 1452.0,1438.0 1454.0,1435.9 1456.0,1432.1 1458.0,1425.3 1460.0,1422.7 1462.0,1419.2 1464.0,1412.6 1466.0,1407.5 1468.0,1402.9 1470.0,1395.7 1472.0,1388.7 1474.0,1383.2 1476.0,1376.9 1478.0,1373.3 1480.0,1366.0 1482.0,1363.2 1484.0,1355.0 1486.0,1350.0 1488.0,1341.5 1490.0,1335.2 1492.0,1329.6 1494.0,1323.8 1496.0,1319.4 1498.0,1314.6 1500.0,1312.0 1502.0,1309.9 1504.0,1308.4 1506.0,1305.8 1508.0,1305.7 1510.0,1303.7 1512.0,1303.3 1514.0,1301.9 1516.0,1301.8 1518.0,1300.7 1520.0,1301.8 1522.0,1302.5 1524.0,1305.6 1526.0,1308.7 1528.0,1313.2 1530.0,1315.6 1532.0,1324.6 1534.0,1326.8 1536.0,1333.6 1538.0,1338.9 1540.0,1341.3 1542.0,1348.9 1544.0,1355.9 1546.0,1357.5 1548.0,1364.6 1550.0,1366.3 1552.0,1368.7 1554.0,1370.2 1556.0,1368.2 1558.0,1369.1 1560.0,1366.5 1562.0,1363.5 1564.0,1360.6 1566.0,1357.4 1568.0,1347.2 1570.0,1338.2 1572.0,1326.5 1574.0,1312.7 1576.0,1298.1 1578.0,1281.8 1580.0,1261.8 1582.0,1243.3 1584.0,1224.1 1586.0,1210.3 1588.0,1193.3 1590.0,1185.3 1592.0,1178.2 1594.0,1173.0 1596.0,1167.5 1598.0,1162.9 1600.0,1158.1 1602.0,1151.9 1604.0,1144.3 1606.0,1139.1 1608.0,1136.9 1610.0,1135.2 1612.0,1132.8 1614.0,1132.5 1616.0,1132.9 1618.0,1136.6 1620.0,1135.8 1622.0,1136.3 1624.0,1138.0 1626.0,1139.4 1628.0,1138.0 1630.0,1134.6 1632.0,1134.0 1634.0,1131.6 1636.0,1129.2 1638.0,1125.8 1640.0,1123.7 1642.0,1120.2 1644.0,1118.4 1646.0,1114.9 1648.0,1110.2 1650.0,1106.3 1652.0,1103.7 1654.0,1100.7 1656.0,1096.2 1658.0,1091.2 1660.0,1083.8 1662.0,1082.1 1664.0,1078.2 1666.0,1075.7 1668.0,1072.8 1670.0,1071.9 1672.0,1070.3 1674.0,1072.0 1676.0,1068.5 1678.0,1065.6 1680.0,1063.3 1682.0,1060.7 1684.0,1058.6 1686.0,1055.8 1688.0,1054.5 1690.0,1054.3 1692.0,1053.6 1694.0,1053.2 1696.0,1054.7 1698.0,1054.3 1700.0,1053.7 1702.0,1053.1 1704.0,1053.7 1706.0,1053.6 1708.0,1053.3 1710.0,1053.5 1712.0,1051.9 1714.0,1052.1 1716.0,1054.4 1718.0,1056.1 1720.0,1056.3 1722.0,1058.8 1724.0,1061.7 1726.0,1062.9 1728.0,1064.9 1730.0,1065.7 1732.0,1071.6 1734.0,1074.2 1736.0,1077.3 1738.0,1080.7 1740.0,1084.3 1742.0,1089.9 1744.0,1094.6 1746.0,1100.4 1748.0,1103.0 1750.0,1110.0 1752.0,1113.3 1754.0,1119.0 1756.0,1121.6 1758.0,1127.4 1760.0,1132.9 1762.0,1136.8 1764.0,1140.7 1766.0,1147.7 1768.0,1155.0 1770.0,1160.3 1772.0,1167.7 1774.0,1176.7 1776.0,1183.1 1778.0,1192.0 1780.0,1197.8 1782.0,1204.9 1784.0,1213.9 1786.0,1224.3 1788.0,1231.0 1790.0,1240.9 1792.0,1250.7 1794.0,1259.7 1796.0,1272.1 1798.0,1282.3 1800.0,1293.7 1802.0,1303.0 1804.0,1313.7 1806.0,1322.9 1808.0,1334.9 1810.0,1343.9 1812.0,1353.5 1814.0,1362.7 1816.0,1369.7 1818.0,1378.3 1820.0,1387.9 1822.0,1398.1 1824.0,1405.6 1826.0,1416.8 1828.0,1426.1 1830.0,1436.1 1832.0,1447.2 1834.0,1455.7 1836.0,1465.1 1838.0,1476.1 1840.0,1484.6 1842.0,1493.1 1844.0,1501.6 1846.0,1510.0 1848.0,1516.6 1850.0,1524.4 1852.0,1530.5 1854.0,1537.5 1856.0,1543.0 1858.0,1548.1 1860.0,1552.5 1862.0,1558.1 1864.0,1562.6 1866.0,1570.7 1868.0,1572.7 1870.0,1578.1 1872.0,1583.3 1874.0,1585.2 1876.0,1589.8 1878.0,1594.2 1880.0,1597.5 1882.0,1601.0 1884.0,1605.2 1886.0,1610.2 1888.0,1612.8 1890.0,1615.2 1892.0,1618.0 1894.0,1619.2 1896.0,1623.9 1898.0,1626.0 1900.0,1627.0 1902.0,1630.2 1904.0,1631.8 1906.0,1633.3 1908.0,1634.5 1910.0,1636.2 1912.0,1637.3 1914.0,1639.8 1916.0,1641.0 1918.0,1642.0 1920.0,1642.6 1922.0,1643.4 1924.0,1646.5 1926.0,1643.8 1928.0,1647.3 1930.0,1647.2 1932.0,1647.5 1934.0,1647.5 1936.0,1648.1 1938.0,1647.6 1940.0,1647.8 1942.0,1649.2 1944.0,1648.1 1946.0,1650.6 1948.0,1651.1 1950.0,1647.2 1952.0,1649.1 1954.0,1651.0 1956.0,1651.1 1958.0,1651.2 1960.0,1651.6 1962.0,1652.0 1964.0,1652.2 1966.0,1653.1 1968.0,1651.6 1970.0,1652.4 1972.0,1650.2 1974.0,1651.6 1976.0,1650.7 1978.0,1653.1 1980.0,1654.0 1982.0,1652.4 1984.0,1650.8 1986.0,1651.9 1988.0,1652.0 1990.0,1652.2 1992.0,1653.0 1994.0,1652.9 1996.0,1649.7 1998.0,1653.4 2000.0,1651.7 2002.0,1651.7 2004.0,1653.5 2006.0,1652.0 2008.0,1651.0 2010.0,1651.1 2012.0,1652.4 2014.0,1653.1 2016.0,1653.7 2018.0,1652.2 2020.0,1651.9 2022.0,1653.8 2024.0,1652.0 2026.0,1653.7 2028.0,1652.6 2030.0,1652.6 2032.0,1652.2 2034.0,1652.7 2036.0,1652.0 2038.0,1651.8 2040.0,1652.3 2042.0,1651.9 2044.0,1652.7 2046.0,1652.6 2048.0,1652.2 2050.0,1652.3 2052.0,1652.3 2054.0,1654.0 2056.0,1652.5 2058.0,1651.9 2060.0,1652.2 2062.0,1653.1 2064.0,1652.3 2066.0,1652.3 2068.0,1652.2 2070.0,1652.6 2072.0,1652.8 2074.0,1652.9 2076.0,1651.0 2078.0,1651.5 2080.0,1650.1 2082.0,1653.2 2084.0,1653.5 2086.0,1653.6 2088.0,1652.6 2090.0,1653.5 2092.0,1652.4 2094.0,1652.4 2096.0,1651.1 2098.0,1651.8 2100.0,1651.9 2102.0,1653.3 2104.0,1654.0 2106.0,1652.1 2108.0,1652.8 2110.0,1652.7 2112.0,1651.8 2114.0,1650.9 2116.0,1651.8 2118.0,1651.2 2120.0,1652.2 2122.0,1652.4 2124.0,1652.3 2126.0,1652.3 2128.0,1652.9 2130.0,1651.6 2132.0,1653.3 2134.0,1651.0 2136.0,1652.5 2138.0,1652.8 2140.0,1651.8 2142.0,1651.0 2144.0,1653.0 2146.0,1651.9 2148.0,1653.2 2150.0,1653.2 2152.0,1652.5 2154.0,1652.5 2156.0,1653.4 2158.0,1652.8 2160.0,1651.6 2162.0,1652.6 2164.0,1653.0 2166.0,1652.7 2168.0,1652.6 2170.0,1652.3 2172.0,1652.4 2174.0,1651.6 2176.0,1651.2 2178.0,1653.5 2180.0,1651.9 2182.0,1652.7 2184.0,1651.1 2186.0,1652.6 2188.0,1651.7 2190.0,1655.1 2192.0,1651.6 2194.0,1651.6 2196.0,1653.3 2198.0,1653.5 2200.0,1650.6 2202.0,1652.7 2204.0,1653.3 2206.0,1651.4" fill="none" stroke="#00a862" stroke-width="4.6" stroke-linejoin="round" stroke-linecap="round"/>
</g>
<clipPath id="c5"><rect x="209.20" y="1846.50" width="888.60" height="726.30"/></clipPath>
<g clip-path="url(#c5)">
<polyline points="255.7,2442.7 257.1,2473.2 258.5,2476.0 259.9,2459.5 261.3,2453.7 262.7,2436.1 264.1,2427.4 265.5,2434.0 266.9,2429.3 268.3,2445.6 269.7,2480.4 271.1,2457.9 272.5,2477.8 273.9,2452.2 275.3,2441.4 276.7,2429.0 278.1,2421.7 279.5,2408.7 280.9,2426.9 282.3,2429.0 283.7,2422.5 285.1,2425.9 286.0,2423.3 286.5,2421.3 287.0,2419.1 287.5,2416.2 288.0,2412.6 288.5,2408.6 289.0,2404.3 289.5,2400.0 290.0,2395.7 290.5,2391.1 291.0,2386.0 291.5,2380.0 292.0,2373.0 292.5,2364.8 293.0,2355.3 293.5,2344.2 294.0,2331.3 294.5,2313.3 295.0,2290.6 295.5,2265.3 296.0,2239.5 296.5,2215.3 297.0,2190.5 297.5,2165.3 298.0,2141.5 298.5,2121.2 299.0,2102.3 299.5,2084.2 300.0,2067.9 300.5,2054.5 301.0,2045.0 301.5,2038.0 302.0,2031.7 302.5,2026.8 303.0,2024.3 303.5,2025.3 304.0,2032.6 304.5,2044.0 305.0,2057.3 305.5,2073.2 306.0,2095.2 306.5,2120.0 307.0,2147.2 307.5,2178.3 308.0,2209.0 308.5,2236.1 309.0,2263.1 309.5,2288.2 310.0,2308.9 310.5,2323.3 311.0,2335.2 311.5,2345.8 312.0,2355.2 312.5,2363.6 313.0,2371.0 313.5,2377.6 314.0,2383.3 314.5,2388.4 315.0,2392.8 315.5,2396.8 316.0,2400.4 316.5,2403.6 317.0,2406.6 317.5,2409.5 318.0,2419.0 319.5,2416.1 321.0,2434.6 322.5,2426.5 324.0,2457.4 325.5,2458.9 327.0,2460.7 328.5,2437.3 330.0,2439.2 331.5,2447.1 333.0,2451.4 334.5,2463.5 336.0,2443.1 337.5,2440.7 339.0,2453.6 340.5,2449.7 342.0,2468.1 343.5,2459.4 345.0,2441.3 346.5,2438.8 348.0,2437.8 349.5,2430.2 351.0,2456.1 352.5,2458.3 354.0,2464.7 355.5,2475.1 357.0,2477.0 358.5,2504.5 360.0,2469.0 361.5,2455.3 363.0,2450.0 364.5,2436.7 366.0,2432.2 367.5,2445.1 369.0,2461.8 370.5,2474.0 372.0,2464.2 373.5,2473.7 375.0,2442.7 376.5,2446.4 378.0,2432.0 379.5,2417.0 381.0,2421.1 382.5,2444.1 384.0,2445.4 385.5,2439.0 387.0,2444.6 388.5,2442.4 390.0,2445.0 391.5,2468.0 393.0,2463.8 394.5,2465.9 396.0,2450.7 397.5,2459.2 399.0,2443.9 400.5,2438.1 402.0,2429.4 403.5,2444.0 405.0,2448.3 406.5,2464.6 408.0,2482.4 409.5,2471.7 411.0,2471.1 412.5,2471.8 414.0,2457.9 415.5,2443.4 417.0,2439.5 418.5,2436.6 420.0,2440.7 421.5,2454.5 423.0,2449.8 424.5,2470.0 426.0,2461.7 427.5,2454.4 429.0,2437.0 430.5,2442.5 432.0,2448.0 433.5,2461.3 435.0,2464.2 436.5,2451.2 438.0,2453.2 439.5,2452.2 441.0,2432.0 442.5,2424.3 444.0,2417.8 445.5,2433.9 447.0,2458.6 448.5,2429.8 450.0,2454.3 451.5,2474.3 453.0,2444.8 454.5,2441.6 456.0,2430.5 457.5,2425.2 459.0,2429.3 460.5,2433.5 462.0,2431.1 463.5,2436.1 465.0,2426.1 466.5,2407.5 468.0,2408.5 470.0,2399.6 472.0,2393.7 474.0,2397.3 476.0,2394.7 478.0,2391.5 480.0,2389.6 482.0,2377.5 484.0,2372.6 486.0,2369.9 488.0,2363.1 490.0,2357.8 492.0,2358.6 494.0,2355.2 496.0,2350.8 498.0,2349.7 500.0,2349.4 502.0,2347.5 504.0,2337.3 506.0,2334.5 508.0,2326.9 510.0,2318.8 512.0,2315.8 514.0,2308.8 516.0,2305.7 518.0,2304.4 520.0,2298.2 522.0,2294.1 524.0,2289.8 526.0,2285.6 528.0,2282.3 530.0,2276.7 532.0,2273.9 534.0,2271.6 536.0,2267.1 538.0,2264.3 540.0,2262.9 542.0,2260.4 544.0,2255.9 546.0,2253.0 548.0,2251.6 550.0,2248.6 552.0,2245.0 554.0,2243.3 556.0,2240.4 558.0,2237.1 560.0,2236.8 562.0,2232.6 564.0,2229.3 566.0,2226.7 568.0,2225.8 570.0,2221.5 572.0,2217.4 574.0,2215.8 576.0,2213.1 578.0,2210.1 580.0,2208.4 582.0,2206.0 584.0,2203.5 586.0,2200.8 588.0,2199.8 590.0,2195.5 592.0,2195.5 594.0,2192.7 596.0,2190.9 598.0,2186.6 600.0,2188.3 602.0,2183.4 604.0,2182.3 606.0,2181.9 608.0,2179.0 610.0,2177.5 612.0,2174.3 614.0,2174.3 616.0,2173.3 618.0,2172.2 620.0,2169.9 622.0,2168.8 624.0,2167.5 626.0,2165.1 628.0,2163.5 630.0,2164.5 632.0,2160.6 634.0,2161.0 636.0,2158.6 638.0,2158.5 640.0,2155.3 642.0,2155.1 644.0,2153.6 646.0,2151.9 648.0,2151.1 650.0,2148.9 652.0,2148.3 654.0,2146.9 656.0,2146.8 658.0,2144.9 660.0,2142.6 662.0,2142.4 664.0,2141.6 666.0,2139.8 668.0,2140.7 670.0,2138.9 672.0,2138.4 674.0,2136.1 676.0,2135.6 678.0,2136.1 680.0,2133.2 682.0,2134.2 684.0,2133.3 686.0,2132.2 688.0,2132.1 690.0,2130.6 692.0,2131.2 694.0,2129.4 696.0,2128.9 698.0,2130.8 700.0,2128.4 702.0,2126.7 704.0,2129.0 706.0,2127.1 708.0,2124.3 710.0,2127.1 712.0,2127.7 714.0,2127.0 716.0,2128.0 718.0,2126.2 720.0,2126.7 722.0,2125.1 724.0,2126.1 726.0,2127.2 728.0,2126.2 730.0,2125.9 732.0,2124.0 734.0,2125.4 736.0,2124.6 738.0,2126.4 740.0,2125.1 742.0,2126.1 744.0,2124.9 746.0,2127.4 748.0,2124.7 750.0,2126.0 752.0,2128.4 754.0,2126.5 756.0,2125.8 758.0,2127.5 760.0,2128.3 762.0,2128.6 764.0,2126.5 766.0,2128.9 768.0,2127.3 770.0,2131.4 772.0,2130.3 774.0,2130.4 776.0,2132.0 778.0,2132.5 780.0,2131.7 782.0,2134.8 784.0,2133.9 786.0,2133.3 788.0,2136.8 790.0,2137.7 792.0,2138.3 794.0,2138.5 796.0,2138.1 798.0,2140.6 800.0,2142.2 802.0,2142.1 804.0,2143.6 806.0,2142.2 808.0,2144.6 810.0,2145.3 812.0,2143.9 814.0,2144.6 816.0,2146.2 818.0,2147.8 820.0,2149.0 822.0,2149.3 824.0,2150.4 826.0,2151.4 828.0,2152.5 830.0,2154.0 832.0,2155.0 834.0,2155.5 836.0,2156.8 838.0,2157.2 840.0,2159.3 842.0,2159.1 844.0,2162.0 846.0,2161.5 848.0,2162.8 850.0,2162.9 852.0,2164.3 854.0,2165.8 856.0,2166.7 858.0,2167.3 860.0,2167.9 862.0,2170.2 864.0,2171.5 866.0,2173.0 868.0,2174.9 870.0,2174.7 872.0,2174.5 874.0,2177.4 876.0,2177.3 878.0,2179.1 880.0,2182.5 882.0,2183.5 884.0,2183.9 886.0,2185.3 888.0,2187.3 890.0,2187.3 892.0,2190.8 894.0,2191.6 896.0,2195.2 898.0,2194.2 900.0,2197.7 902.0,2197.8 904.0,2201.0 906.0,2200.8 908.0,2203.8 910.0,2204.3 912.0,2205.4 914.0,2207.4 916.0,2209.4 918.0,2210.7 920.0,2213.1 922.0,2213.8 924.0,2212.1 926.0,2215.5 928.0,2215.5 930.0,2218.2 932.0,2220.5 934.0,2220.0 936.0,2221.5 938.0,2224.1 940.0,2225.1 942.0,2228.3 944.0,2228.8 946.0,2230.7 948.0,2233.6 950.0,2233.6 952.0,2236.1 954.0,2237.4 956.0,2240.6 958.0,2243.4 960.0,2247.8 961.6,2245.9 963.2,2245.7 964.8,2247.0 966.4,2246.8 968.0,2251.6 969.6,2255.8 971.2,2248.1 972.8,2249.8 974.4,2259.6 976.0,2253.7 977.6,2259.6 979.2,2257.2 980.8,2263.5 982.4,2265.0 984.0,2265.1 985.6,2268.3 987.2,2268.1 988.8,2271.0 990.4,2275.7 992.0,2275.6 993.6,2273.0 995.2,2274.3 996.8,2277.1 998.4,2278.6 1000.0,2280.7 1001.6,2280.4 1003.2,2284.7 1004.8,2284.5 1006.4,2286.5 1008.0,2286.9 1009.6,2289.5 1011.2,2286.5 1012.8,2294.4 1014.4,2292.8 1016.0,2294.5 1017.6,2296.3 1019.2,2298.9 1020.8,2299.6 1022.4,2300.0 1024.0,2300.6 1025.6,2298.8 1027.2,2304.9 1028.8,2305.2 1030.4,2306.9 1032.0,2315.0 1033.6,2306.4 1035.2,2312.6 1036.8,2317.0 1038.4,2318.0 1040.0,2320.3 1041.6,2315.9 1043.2,2318.2 1044.8,2323.6 1046.4,2323.0 1048.0,2329.4 1049.6,2327.3 1051.2,2328.4" fill="none" stroke="#464646" stroke-width="4.3" stroke-linejoin="round" stroke-linecap="round"/>
<polyline points="255.7,2383.7 257.3,2387.2 258.9,2386.5 260.5,2385.6 262.1,2383.6 263.7,2372.5 265.3,2366.0 266.9,2350.1 268.5,2349.1 270.1,2341.3 271.7,2345.0 273.3,2342.2 274.9,2329.4 276.5,2326.1 278.1,2324.6 279.7,2314.8 281.3,2309.9 282.9,2314.3 284.5,2304.7 286.1,2289.4 287.7,2282.2 289.3,2261.2 290.9,2224.8 291.0,2236.9 291.5,2222.6 292.0,2202.2 292.5,2177.2 293.0,2148.9 293.5,2119.0 294.0,2088.9 294.5,2056.6 295.0,2017.0 295.5,1976.9 296.0,1944.3 296.5,1923.6 297.0,1906.6 297.5,1892.9 298.0,1882.8 298.5,1876.5 299.0,1871.5 299.5,1867.5 300.0,1864.3 300.5,1862.0 301.0,1860.1 301.5,1858.3 302.0,1857.0 302.5,1856.3 303.0,1856.4 303.5,1857.2 304.0,1858.6 304.5,1860.4 305.0,1862.4 305.5,1864.9 306.0,1868.3 306.5,1872.5 307.0,1877.7 307.5,1884.2 308.0,1893.8 308.5,1906.3 309.0,1921.4 309.5,1938.8 310.0,1964.0 310.5,1996.6 311.0,2032.3 311.5,2067.2 312.0,2099.6 312.5,2135.5 313.0,2171.8 313.5,2204.3 314.0,2228.8 314.5,2241.7 315.0,2250.0 315.5,2257.1 316.0,2259.1 317.6,2276.3 319.2,2298.3 320.8,2301.9 322.4,2312.3 324.0,2324.4 325.6,2330.3 327.2,2327.6 328.8,2338.4 330.4,2340.2 332.0,2352.5 333.6,2362.3 335.2,2351.8 336.8,2356.4 338.4,2359.1 340.0,2361.2 341.6,2362.2 343.2,2367.5 344.8,2376.2 346.4,2371.7 348.0,2376.8 349.6,2379.1 351.2,2393.8 352.8,2395.6 354.4,2383.9 356.0,2387.2 357.6,2403.1 359.2,2416.0 360.8,2417.7 362.4,2407.5 364.0,2399.5 365.6,2390.1 367.2,2383.7 368.8,2395.9 370.4,2389.6 372.0,2386.1 373.6,2386.9 375.2,2373.9 376.8,2367.2 378.4,2356.6 380.0,2332.3 381.6,2332.3 383.2,2328.5 384.8,2316.8 386.4,2311.6 388.0,2319.5 389.6,2329.7 391.2,2331.7 392.8,2336.3 394.4,2344.2 396.0,2347.6 397.6,2353.7 399.2,2347.8 400.8,2363.4 402.4,2361.3 404.0,2362.1 405.6,2357.2 407.2,2371.0 408.8,2365.6 410.4,2379.4 412.0,2378.8 413.6,2370.4 415.2,2370.7 416.8,2377.9 418.4,2370.1 420.0,2361.0 421.6,2359.4 423.2,2356.6 424.8,2349.8 426.4,2350.5 428.0,2347.4 429.6,2348.6 431.2,2354.0 432.8,2349.7 434.4,2360.0 436.0,2360.3 437.6,2366.6 439.2,2371.2 440.8,2377.4 442.4,2379.7 444.0,2385.1 445.6,2385.6 447.2,2392.9 448.8,2389.5 450.4,2395.3 452.0,2402.4 453.6,2400.9 455.2,2404.6 456.8,2398.7 458.4,2410.2 460.0,2401.8 461.6,2406.5 463.2,2404.8 464.8,2408.9 466.4,2402.1 468.0,2397.7 469.6,2391.9 471.2,2397.8 472.8,2393.7 474.4,2402.3 476.0,2407.7 477.6,2392.5 479.2,2397.6 480.8,2404.8 482.4,2407.9 484.0,2401.9 485.6,2399.8 487.2,2398.5 488.8,2397.2 490.4,2401.2 492.0,2396.4 493.6,2388.5 495.2,2392.7 496.8,2396.9 498.4,2393.6 500.0,2397.9 501.6,2399.8 503.2,2404.6 504.8,2418.8 506.4,2421.7 508.0,2414.9 510.0,2421.7 512.0,2430.1 514.0,2448.7 516.0,2433.1 518.0,2443.4 520.0,2434.8 522.0,2412.0 524.0,2433.4 526.0,2422.7 528.0,2418.2 530.0,2420.4 532.0,2444.9 534.0,2416.2 536.0,2424.5 538.0,2440.0 540.0,2436.2 542.0,2416.5 544.0,2430.8 546.0,2428.2 548.0,2431.8 550.0,2440.8 552.0,2430.4 554.0,2433.6 556.0,2462.4 558.0,2422.7 560.0,2436.3 562.0,2444.5 564.0,2415.1 566.0,2436.9 568.0,2431.8 570.0,2445.2 572.0,2439.3 574.0,2452.1 576.0,2454.8 578.0,2447.1 580.0,2444.2 582.0,2450.4 584.0,2449.3 586.0,2439.1 588.0,2459.3 590.0,2452.7 592.0,2458.1 594.0,2440.2 596.0,2459.9 598.0,2487.2 600.0,2471.3 602.0,2441.4 604.0,2454.5 606.0,2454.0 608.0,2456.7 610.0,2453.1 612.0,2459.6 614.0,2451.7 616.0,2457.9 618.0,2450.3 620.0,2457.3 622.0,2465.2 624.0,2452.6 626.0,2462.8 628.0,2449.6 630.0,2454.2 632.0,2455.5 634.0,2468.3 636.0,2451.1 638.0,2468.2 640.0,2467.2 642.0,2456.5 644.0,2441.7 646.0,2463.8 648.0,2460.3 650.0,2447.3 652.0,2465.4 654.0,2447.0 656.0,2462.8 658.0,2453.4 660.0,2457.7 662.0,2477.7 664.0,2471.1 666.0,2465.0 668.0,2433.9 670.0,2460.6 672.0,2458.3 674.0,2457.0 676.0,2469.3 678.0,2443.2 680.0,2460.7 682.0,2459.2 684.0,2451.9 686.0,2473.3 688.0,2447.9 690.0,2459.2 692.0,2460.0 694.0,2440.7 696.0,2447.6 698.0,2451.8 700.0,2467.2 702.0,2468.8 704.0,2466.0 706.0,2483.6 708.0,2442.3 710.0,2463.1 712.0,2456.8 714.0,2471.3 716.0,2472.7 718.0,2480.1 720.0,2466.8 722.0,2467.4 724.0,2451.1 726.0,2460.3 728.0,2429.8 730.0,2466.4 732.0,2447.9 734.0,2455.8 736.0,2450.1 738.0,2452.6 740.0,2460.1 742.0,2450.8 744.0,2435.2 746.0,2446.1 748.0,2466.3 750.0,2448.2 752.0,2462.0 754.0,2471.2 756.0,2431.3 758.0,2443.2 760.0,2449.5 762.0,2460.8 764.0,2446.1 766.0,2440.1 768.0,2443.0 770.0,2453.7 772.0,2437.9 774.0,2455.3 776.0,2421.9 778.0,2431.2 780.0,2463.0 782.0,2448.7 784.0,2439.5 786.0,2466.4 788.0,2444.1 790.0,2457.6 792.0,2444.5 794.0,2454.0 796.0,2453.5 798.0,2435.3 800.0,2455.3 802.0,2449.2 804.0,2462.5 806.0,2463.2 808.0,2446.8 810.0,2447.6 812.0,2454.9 814.0,2459.3 816.0,2450.3 818.0,2452.9 820.0,2459.2 822.0,2457.5 824.0,2448.7 826.0,2455.4 828.0,2445.2 830.0,2448.4 832.0,2458.9 834.0,2448.3 836.0,2435.9 838.0,2447.3 840.0,2435.4 842.0,2444.9 844.0,2424.9 846.0,2443.2 848.0,2438.2 850.0,2461.2 852.0,2448.4 854.0,2442.0 856.0,2434.5 858.0,2449.0 860.0,2435.6 862.0,2439.6 864.0,2438.0 866.0,2462.3 868.0,2440.8 870.0,2422.5 872.0,2446.1 874.0,2461.2 876.0,2429.8 878.0,2467.8 880.0,2436.3 882.0,2444.9 884.0,2430.5 886.0,2421.4 888.0,2422.8 890.0,2423.1 892.0,2412.0 894.0,2438.8 896.0,2436.4 898.0,2427.1 900.0,2424.2 902.0,2413.2 904.0,2417.3 906.0,2414.7 908.0,2410.9 910.0,2416.3 912.0,2418.2 914.0,2411.7 916.0,2412.8 918.0,2420.6 920.0,2432.8 922.0,2447.2 924.0,2450.5 926.0,2462.0 928.0,2448.3 930.0,2441.2 932.0,2449.4 934.0,2440.1 936.0,2441.4 938.0,2434.3 940.0,2435.4 942.0,2450.4 944.0,2421.3 946.0,2444.1 948.0,2421.3 950.0,2431.5 952.0,2435.4 954.0,2413.0 956.0,2388.1 958.0,2415.1 960.0,2413.1 962.0,2392.0 964.0,2404.7 966.0,2407.1 968.0,2388.9 970.0,2417.0 972.0,2417.0 974.0,2417.2 976.0,2407.4 978.0,2411.7 980.0,2412.9 982.0,2422.6 984.0,2409.2 986.0,2429.6 988.0,2418.5 990.0,2394.1 992.0,2426.0 994.0,2410.1 996.0,2401.1 998.0,2403.6 1000.0,2383.0 1002.0,2396.6 1004.0,2368.6 1006.0,2376.4 1008.0,2392.5 1010.0,2386.9 1012.0,2368.6 1014.0,2359.9 1016.0,2374.7 1018.0,2365.3 1020.0,2367.9 1022.0,2372.7 1024.0,2359.4 1026.0,2377.8 1028.0,2354.3 1030.0,2388.0 1032.0,2363.3 1034.0,2373.6 1036.0,2375.1 1038.0,2389.3 1040.0,2391.3 1042.0,2389.6 1044.0,2393.0 1046.0,2394.0 1048.0,2406.7 1050.0,2375.7" fill="none" stroke="#ff3838" stroke-width="4.3" stroke-linejoin="round" stroke-linecap="round"/>
</g>
<clipPath id="c6"><rect x="1335.90" y="1843.00" width="897.90" height="731.50"/></clipPath>
<g clip-path="url(#c6)">
<polyline points="1381.6,2479.3 1383.0,2438.9 1384.4,2424.9 1385.8,2422.5 1387.2,2450.8 1388.6,2494.2 1390.0,2567.6 1391.4,2488.7 1392.8,2450.7 1394.2,2445.3 1395.6,2442.1 1397.0,2434.0 1398.4,2437.5 1399.8,2454.6 1401.2,2454.2 1402.6,2421.1 1404.0,2409.5 1405.4,2427.9 1406.8,2442.2 1408.2,2443.0 1409.6,2431.9 1411.0,2422.0 1412.4,2418.2 1413.8,2411.1 1415.2,2411.0 1416.6,2409.4 1418.0,2401.5 1419.4,2383.4 1419.5,2381.9 1420.0,2374.7 1420.5,2366.6 1421.0,2356.5 1421.5,2344.0 1422.0,2329.1 1422.5,2310.3 1423.0,2283.5 1423.5,2253.3 1424.0,2225.1 1424.5,2199.8 1425.0,2174.8 1425.5,2151.4 1426.0,2130.8 1426.5,2112.0 1427.0,2093.8 1427.5,2077.0 1428.0,2062.8 1428.5,2052.0 1429.0,2044.7 1429.5,2038.2 1430.0,2032.8 1430.5,2029.4 1431.0,2028.7 1431.5,2033.7 1432.0,2043.7 1432.5,2056.4 1433.0,2070.3 1433.5,2089.9 1434.0,2113.6 1434.5,2139.0 1435.0,2169.2 1435.5,2200.6 1436.0,2227.5 1436.5,2250.0 1437.0,2270.4 1437.5,2289.4 1438.0,2307.8 1438.5,2326.2 1439.0,2346.8 1439.5,2369.6 1440.0,2381.4 1441.5,2410.7 1443.0,2405.3 1444.5,2407.1 1446.0,2427.1 1447.5,2425.4 1449.0,2428.7 1450.5,2451.8 1452.0,2473.3 1453.5,2439.7 1455.0,2418.2 1456.5,2439.2 1458.0,2443.2 1459.5,2441.8 1461.0,2434.0 1462.5,2431.4 1464.0,2429.8 1465.5,2425.5 1467.0,2447.4 1468.5,2452.0 1470.0,2481.5 1471.5,2473.6 1473.0,2443.0 1474.5,2446.3 1476.0,2462.8 1477.5,2463.5 1479.0,2499.0 1480.5,2506.6 1482.0,2502.1 1483.5,2463.1 1485.0,2459.9 1486.5,2448.0 1488.0,2468.5 1489.5,2474.1 1491.0,2469.5 1492.5,2428.3 1494.0,2452.6 1495.5,2441.3 1497.0,2449.5 1498.5,2466.2 1500.0,2455.9 1501.5,2447.9 1503.0,2446.9 1504.5,2456.5 1506.0,2458.1 1507.5,2439.4 1509.0,2435.6 1510.5,2425.2 1512.0,2448.5 1513.5,2453.5 1515.0,2452.2 1516.5,2445.0 1518.0,2451.7 1519.5,2446.9 1521.0,2451.6 1522.5,2472.7 1524.0,2466.9 1525.5,2486.2 1527.0,2469.0 1528.5,2440.5 1530.0,2442.9 1531.5,2450.5 1533.0,2428.2 1534.5,2433.2 1536.0,2454.8 1537.5,2449.6 1539.0,2456.8 1540.5,2466.4 1542.0,2459.8 1543.5,2460.1 1545.0,2438.6 1546.5,2425.0 1548.0,2440.2 1549.5,2443.3 1551.0,2447.4 1552.5,2456.6 1554.0,2465.8 1555.5,2452.1 1557.0,2455.1 1558.5,2451.0 1560.0,2461.8 1561.5,2471.1 1563.0,2449.1 1564.5,2443.4 1566.0,2457.4 1567.5,2473.7 1569.0,2439.0 1570.5,2429.8 1572.0,2429.3 1573.5,2442.0 1575.0,2449.5 1576.5,2452.3 1578.0,2458.9 1579.5,2438.2 1581.0,2440.0 1582.5,2442.8 1584.0,2436.2 1585.5,2437.5 1587.0,2433.0 1588.5,2427.3 1590.0,2425.4 1591.5,2411.7 1593.0,2420.8 1594.5,2398.9 1596.0,2406.2 1598.0,2398.3 1600.0,2398.1 1602.0,2393.0 1604.0,2386.8 1606.0,2383.9 1608.0,2378.9 1610.0,2375.6 1612.0,2370.4 1614.0,2367.6 1616.0,2356.5 1618.0,2356.9 1620.0,2351.5 1622.0,2350.2 1624.0,2347.5 1626.0,2341.8 1628.0,2335.1 1630.0,2327.5 1632.0,2321.6 1634.0,2316.3 1636.0,2312.8 1638.0,2304.0 1640.0,2301.4 1642.0,2296.5 1644.0,2292.7 1646.0,2288.9 1648.0,2286.9 1650.0,2284.2 1652.0,2279.8 1654.0,2273.9 1656.0,2271.6 1658.0,2267.0 1660.0,2265.1 1662.0,2262.5 1664.0,2258.7 1666.0,2255.8 1668.0,2251.9 1670.0,2247.3 1672.0,2244.5 1674.0,2243.7 1676.0,2241.8 1678.0,2240.1 1680.0,2236.3 1682.0,2234.4 1684.0,2232.3 1686.0,2230.7 1688.0,2227.2 1690.0,2223.7 1692.0,2223.0 1694.0,2219.6 1696.0,2216.7 1698.0,2212.3 1700.0,2210.6 1702.0,2206.1 1704.0,2203.1 1706.0,2202.0 1708.0,2199.2 1710.0,2197.6 1712.0,2195.9 1714.0,2192.1 1716.0,2191.4 1718.0,2186.8 1720.0,2185.8 1722.0,2181.6 1724.0,2180.6 1726.0,2177.8 1728.0,2175.6 1730.0,2174.1 1732.0,2169.5 1734.0,2169.0 1736.0,2165.9 1738.0,2164.6 1740.0,2162.8 1742.0,2160.2 1744.0,2158.3 1746.0,2155.8 1748.0,2155.7 1750.0,2152.9 1752.0,2152.4 1754.0,2149.1 1756.0,2150.2 1758.0,2146.5 1760.0,2147.0 1762.0,2144.0 1764.0,2143.4 1766.0,2141.3 1768.0,2140.6 1770.0,2138.6 1772.0,2138.3 1774.0,2136.4 1776.0,2135.1 1778.0,2134.8 1780.0,2131.5 1782.0,2132.2 1784.0,2130.0 1786.0,2127.6 1788.0,2128.4 1790.0,2126.8 1792.0,2127.6 1794.0,2124.6 1796.0,2124.1 1798.0,2123.3 1800.0,2120.4 1802.0,2121.6 1804.0,2119.2 1806.0,2120.4 1808.0,2119.7 1810.0,2117.3 1812.0,2115.1 1814.0,2116.0 1816.0,2115.4 1818.0,2115.3 1820.0,2113.8 1822.0,2112.5 1824.0,2113.0 1826.0,2111.8 1828.0,2113.9 1830.0,2111.2 1832.0,2110.8 1834.0,2111.0 1836.0,2109.5 1838.0,2109.9 1840.0,2109.9 1842.0,2109.2 1844.0,2109.1 1846.0,2110.2 1848.0,2109.2 1850.0,2107.4 1852.0,2108.0 1854.0,2108.8 1856.0,2107.3 1858.0,2107.8 1860.0,2107.5 1862.0,2107.8 1864.0,2107.1 1866.0,2107.0 1868.0,2106.3 1870.0,2107.5 1872.0,2106.3 1874.0,2108.8 1876.0,2107.3 1878.0,2107.2 1880.0,2108.3 1882.0,2107.6 1884.0,2107.9 1886.0,2107.9 1888.0,2107.5 1890.0,2107.5 1892.0,2108.0 1894.0,2110.0 1896.0,2108.7 1898.0,2109.3 1900.0,2109.6 1902.0,2111.0 1904.0,2112.6 1906.0,2110.3 1908.0,2112.1 1910.0,2112.1 1912.0,2112.2 1914.0,2113.4 1916.0,2112.3 1918.0,2114.8 1920.0,2114.8 1922.0,2114.3 1924.0,2117.3 1926.0,2117.3 1928.0,2118.4 1930.0,2116.8 1932.0,2118.7 1934.0,2119.3 1936.0,2121.2 1938.0,2122.8 1940.0,2120.7 1942.0,2123.4 1944.0,2124.2 1946.0,2126.3 1948.0,2126.3 1950.0,2126.2 1952.0,2128.3 1954.0,2128.6 1956.0,2129.8 1958.0,2131.6 1960.0,2132.1 1962.0,2133.8 1964.0,2133.1 1966.0,2137.6 1968.0,2137.6 1970.0,2138.1 1972.0,2137.2 1974.0,2137.5 1976.0,2139.8 1978.0,2141.5 1980.0,2144.9 1982.0,2145.2 1984.0,2144.7 1986.0,2147.5 1988.0,2148.7 1990.0,2148.9 1992.0,2151.3 1994.0,2151.7 1996.0,2152.2 1998.0,2153.1 2000.0,2155.4 2002.0,2157.9 2004.0,2157.2 2006.0,2158.4 2008.0,2161.8 2010.0,2160.2 2012.0,2165.8 2014.0,2165.1 2016.0,2167.6 2018.0,2170.0 2020.0,2168.4 2022.0,2170.1 2024.0,2174.5 2026.0,2173.6 2028.0,2175.2 2030.0,2176.9 2032.0,2179.1 2034.0,2180.7 2036.0,2181.0 2038.0,2182.0 2040.0,2183.7 2042.0,2185.4 2044.0,2187.7 2046.0,2188.0 2048.0,2191.0 2050.0,2189.9 2052.0,2192.5 2054.0,2195.0 2056.0,2196.0 2058.0,2196.5 2060.0,2196.8 2062.0,2198.4 2064.0,2200.4 2066.0,2202.3 2068.0,2203.3 2070.0,2203.8 2072.0,2206.1 2074.0,2208.9 2076.0,2210.8 2078.0,2210.4 2080.0,2213.0 2082.0,2213.4 2084.0,2216.0 2086.0,2221.3 2088.0,2219.7 2090.0,2220.3 2091.6,2221.0 2093.2,2220.7 2094.8,2220.4 2096.4,2226.1 2098.0,2226.9 2099.6,2232.6 2101.2,2226.4 2102.8,2233.0 2104.4,2236.8 2106.0,2230.3 2107.6,2238.4 2109.2,2234.5 2110.8,2241.4 2112.4,2245.4 2114.0,2243.4 2115.6,2245.6 2117.2,2244.7 2118.8,2248.5 2120.4,2252.0 2122.0,2250.1 2123.6,2251.4 2125.2,2254.0 2126.8,2256.3 2128.4,2251.5 2130.0,2256.9 2131.6,2256.3 2133.2,2260.5 2134.8,2263.2 2136.4,2262.8 2138.0,2266.7 2139.6,2262.6 2141.2,2265.6 2142.8,2265.8 2144.4,2270.0 2146.0,2271.7 2147.6,2272.7 2149.2,2271.8 2150.8,2276.3 2152.4,2277.0 2154.0,2281.2 2155.6,2280.7 2157.2,2286.0 2158.8,2285.4 2160.4,2282.1 2162.0,2288.0 2163.6,2286.6 2165.2,2294.1 2166.8,2296.8 2168.4,2294.6 2170.0,2297.1 2171.6,2293.6 2173.2,2292.7 2174.8,2297.9 2176.4,2299.5 2178.0,2297.3 2179.6,2302.1 2181.2,2303.4 2182.8,2304.8 2184.4,2307.6" fill="none" stroke="#464646" stroke-width="4.3" stroke-linejoin="round" stroke-linecap="round"/>
<polyline points="1380.6,2368.9 1382.2,2388.6 1383.8,2380.2 1385.4,2390.9 1387.0,2383.0 1388.6,2376.9 1390.2,2359.3 1391.8,2364.2 1393.4,2353.3 1395.0,2354.1 1396.6,2352.1 1398.2,2359.2 1399.8,2358.4 1401.4,2341.8 1403.0,2326.8 1404.6,2317.8 1406.2,2314.2 1407.8,2307.4 1409.4,2308.8 1411.0,2306.9 1412.6,2293.9 1414.2,2284.8 1415.8,2265.6 1417.4,2240.9 1418.0,2238.1 1418.5,2229.7 1419.0,2219.4 1419.5,2205.0 1420.0,2182.6 1420.5,2154.4 1421.0,2122.8 1421.5,2090.5 1422.0,2058.1 1422.5,2019.4 1423.0,1979.6 1423.5,1945.6 1424.0,1923.2 1424.5,1905.8 1425.0,1891.4 1425.5,1880.5 1426.0,1873.5 1426.5,1868.3 1427.0,1864.0 1427.5,1860.7 1428.0,1858.1 1428.5,1856.2 1429.0,1854.4 1429.5,1852.9 1430.0,1851.9 1430.5,1851.7 1431.0,1852.3 1431.5,1853.5 1432.0,1855.2 1432.5,1857.1 1433.0,1859.3 1433.5,1862.3 1434.0,1866.1 1434.5,1870.8 1435.0,1876.4 1435.5,1884.5 1436.0,1895.5 1436.5,1909.3 1437.0,1925.3 1437.5,1945.2 1438.0,1972.7 1438.5,2005.6 1439.0,2041.4 1439.5,2077.5 1440.0,2122.0 1440.5,2173.5 1441.0,2218.7 1441.5,2244.4 1442.0,2252.5 1442.5,2259.4 1443.0,2252.5 1444.6,2274.4 1446.2,2287.6 1447.8,2296.2 1449.4,2310.5 1451.0,2308.1 1452.6,2310.9 1454.2,2330.0 1455.8,2330.6 1457.4,2337.3 1459.0,2354.0 1460.6,2352.9 1462.2,2352.6 1463.8,2358.2 1465.4,2359.4 1467.0,2369.9 1468.6,2371.1 1470.2,2378.8 1471.8,2385.3 1473.4,2397.1 1475.0,2397.8 1476.6,2388.3 1478.2,2396.9 1479.8,2391.7 1481.4,2399.7 1483.0,2398.5 1484.6,2411.8 1486.2,2412.8 1487.8,2412.6 1489.4,2408.6 1491.0,2400.8 1492.6,2388.9 1494.2,2380.2 1495.8,2393.6 1497.4,2386.2 1499.0,2382.0 1500.6,2379.1 1502.2,2370.0 1503.8,2368.3 1505.4,2363.8 1507.0,2337.2 1508.6,2331.3 1510.2,2313.8 1511.8,2320.7 1513.4,2315.5 1515.0,2318.0 1516.6,2328.0 1518.2,2335.3 1519.8,2337.9 1521.4,2335.4 1523.0,2336.5 1524.6,2341.8 1526.2,2341.6 1527.8,2360.0 1529.4,2352.0 1531.0,2354.6 1532.6,2356.6 1534.2,2368.1 1535.8,2360.7 1537.4,2373.5 1539.0,2373.0 1540.6,2372.2 1542.2,2362.9 1543.8,2373.4 1545.4,2362.4 1547.0,2360.5 1548.6,2360.8 1550.2,2357.7 1551.8,2360.0 1553.4,2349.5 1555.0,2351.7 1556.6,2351.5 1558.2,2351.2 1559.8,2357.3 1561.4,2357.3 1563.0,2368.3 1564.6,2361.9 1566.2,2358.9 1567.8,2364.4 1569.4,2369.2 1571.0,2362.1 1572.6,2365.4 1574.2,2373.4 1575.8,2383.4 1577.4,2388.5 1579.0,2395.3 1580.6,2389.1 1582.2,2406.5 1583.8,2404.4 1585.4,2399.2 1587.0,2410.4 1588.6,2406.4 1590.2,2411.1 1591.8,2398.6 1593.4,2411.4 1595.0,2403.5 1596.6,2393.2 1598.2,2405.6 1599.8,2399.9 1601.4,2395.7 1603.0,2398.6 1604.6,2390.5 1606.2,2403.8 1607.8,2403.6 1609.4,2407.8 1611.0,2419.4 1612.6,2414.5 1614.2,2409.8 1615.8,2404.4 1617.4,2403.1 1619.0,2402.9 1620.6,2391.3 1622.2,2387.3 1623.8,2396.5 1625.4,2393.7 1627.0,2395.4 1628.6,2408.0 1630.2,2396.1 1631.8,2407.7 1633.4,2405.8 1635.0,2419.8 1636.0,2425.1 1638.0,2433.4 1640.0,2414.6 1642.0,2434.2 1644.0,2419.8 1646.0,2426.8 1648.0,2449.6 1650.0,2428.2 1652.0,2420.6 1654.0,2432.1 1656.0,2412.2 1658.0,2442.3 1660.0,2437.3 1662.0,2425.3 1664.0,2434.3 1666.0,2433.8 1668.0,2461.3 1670.0,2424.2 1672.0,2418.6 1674.0,2393.5 1676.0,2440.7 1678.0,2417.7 1680.0,2430.6 1682.0,2436.4 1684.0,2429.8 1686.0,2426.2 1688.0,2445.8 1690.0,2434.6 1692.0,2439.3 1694.0,2446.6 1696.0,2427.8 1698.0,2432.0 1700.0,2462.9 1702.0,2429.0 1704.0,2433.6 1706.0,2441.3 1708.0,2439.2 1710.0,2434.3 1712.0,2442.2 1714.0,2446.4 1716.0,2447.2 1718.0,2452.8 1720.0,2433.7 1722.0,2436.6 1724.0,2457.3 1726.0,2447.2 1728.0,2462.4 1730.0,2455.0 1732.0,2440.6 1734.0,2458.1 1736.0,2444.9 1738.0,2456.4 1740.0,2465.1 1742.0,2473.0 1744.0,2454.0 1746.0,2460.7 1748.0,2457.3 1750.0,2461.6 1752.0,2452.6 1754.0,2451.3 1756.0,2473.9 1758.0,2458.8 1760.0,2448.1 1762.0,2443.2 1764.0,2464.3 1766.0,2455.3 1768.0,2452.7 1770.0,2451.5 1772.0,2455.9 1774.0,2465.0 1776.0,2485.6 1778.0,2438.6 1780.0,2446.6 1782.0,2447.9 1784.0,2463.5 1786.0,2456.9 1788.0,2435.3 1790.0,2459.5 1792.0,2481.1 1794.0,2454.7 1796.0,2446.9 1798.0,2450.8 1800.0,2457.5 1802.0,2460.2 1804.0,2453.8 1806.0,2453.6 1808.0,2469.4 1810.0,2453.7 1812.0,2459.9 1814.0,2455.4 1816.0,2451.0 1818.0,2445.4 1820.0,2454.2 1822.0,2452.0 1824.0,2466.8 1826.0,2449.7 1828.0,2456.3 1830.0,2465.9 1832.0,2459.4 1834.0,2465.0 1836.0,2491.8 1838.0,2446.6 1840.0,2457.6 1842.0,2453.0 1844.0,2449.3 1846.0,2460.6 1848.0,2465.9 1850.0,2476.3 1852.0,2458.4 1854.0,2461.9 1856.0,2464.5 1858.0,2458.2 1860.0,2470.9 1862.0,2466.5 1864.0,2467.5 1866.0,2458.5 1868.0,2454.4 1870.0,2453.5 1872.0,2452.6 1874.0,2440.8 1876.0,2457.4 1878.0,2460.6 1880.0,2452.8 1882.0,2447.9 1884.0,2466.2 1886.0,2453.0 1888.0,2453.3 1890.0,2465.5 1892.0,2442.0 1894.0,2452.0 1896.0,2454.3 1898.0,2448.5 1900.0,2455.7 1902.0,2438.0 1904.0,2421.3 1906.0,2452.0 1908.0,2458.1 1910.0,2439.5 1912.0,2448.9 1914.0,2449.0 1916.0,2453.0 1918.0,2446.3 1920.0,2447.9 1922.0,2451.9 1924.0,2434.2 1926.0,2444.8 1928.0,2429.5 1930.0,2428.1 1932.0,2438.4 1934.0,2432.8 1936.0,2450.9 1938.0,2455.7 1940.0,2445.1 1942.0,2447.1 1944.0,2446.8 1946.0,2447.0 1948.0,2450.9 1950.0,2453.1 1952.0,2446.5 1954.0,2443.9 1956.0,2446.3 1958.0,2457.7 1960.0,2447.1 1962.0,2462.9 1964.0,2448.1 1966.0,2461.5 1968.0,2439.0 1970.0,2442.8 1972.0,2452.2 1974.0,2451.7 1976.0,2445.4 1978.0,2463.5 1980.0,2445.9 1982.0,2446.9 1984.0,2438.8 1986.0,2457.1 1988.0,2449.5 1990.0,2444.9 1992.0,2426.7 1994.0,2443.1 1996.0,2435.3 1998.0,2442.0 2000.0,2445.8 2002.0,2431.0 2004.0,2438.6 2006.0,2443.6 2008.0,2436.9 2010.0,2432.0 2012.0,2425.0 2014.0,2427.6 2016.0,2421.7 2018.0,2440.1 2020.0,2431.6 2022.0,2419.3 2024.0,2428.5 2026.0,2416.1 2028.0,2397.4 2030.0,2433.7 2032.0,2430.8 2034.0,2405.4 2036.0,2409.0 2038.0,2414.3 2040.0,2407.3 2042.0,2402.2 2044.0,2405.3 2046.0,2409.0 2048.0,2408.8 2050.0,2418.7 2052.0,2418.9 2054.0,2435.9 2056.0,2429.4 2058.0,2418.9 2060.0,2448.5 2062.0,2423.6 2064.0,2439.1 2066.0,2443.3 2068.0,2443.7 2070.0,2441.7 2072.0,2449.1 2074.0,2427.3 2076.0,2434.6 2078.0,2434.5 2080.0,2426.8 2082.0,2423.3 2084.0,2436.1 2086.0,2415.4 2088.0,2413.4 2090.0,2411.2 2092.0,2408.3 2094.0,2408.9 2096.0,2404.5 2098.0,2409.4 2100.0,2408.7 2102.0,2432.5 2104.0,2424.6 2106.0,2391.0 2108.0,2434.4 2110.0,2420.2 2112.0,2432.9 2114.0,2431.2 2116.0,2428.8 2118.0,2415.0 2120.0,2444.4 2122.0,2422.1 2124.0,2418.6 2126.0,2430.0 2128.0,2416.8 2130.0,2427.1 2132.0,2419.9 2134.0,2406.2 2136.0,2397.0 2138.0,2396.0 2140.0,2373.0 2142.0,2380.5 2144.0,2375.6 2146.0,2366.6 2148.0,2369.9 2150.0,2338.9 2152.0,2373.4 2154.0,2377.2 2156.0,2356.5 2158.0,2370.4 2160.0,2384.4 2162.0,2377.2 2164.0,2367.6 2166.0,2371.0 2168.0,2389.9 2170.0,2401.8 2172.0,2380.5 2174.0,2393.0 2176.0,2388.4 2178.0,2407.9 2180.0,2399.5 2182.0,2396.3 2184.0,2390.1" fill="none" stroke="#ff3838" stroke-width="4.3" stroke-linejoin="round" stroke-linecap="round"/>
</g>
<rect x="208.50" y="55.00" width="871.00" height="712.00" fill="none" stroke="#1e1e1e" stroke-width="2.8"/>
<line x1="249.98" y1="767.00" x2="249.98" y2="753.00" stroke="#222" stroke-width="2.6" stroke-linecap="butt"/>
<line x1="457.36" y1="767.00" x2="457.36" y2="753.00" stroke="#222" stroke-width="2.6" stroke-linecap="butt"/>
<line x1="664.74" y1="767.00" x2="664.74" y2="753.00" stroke="#222" stroke-width="2.6" stroke-linecap="butt"/>
<line x1="872.12" y1="767.00" x2="872.12" y2="753.00" stroke="#222" stroke-width="2.6" stroke-linecap="butt"/>
<line x1="1079.50" y1="767.00" x2="1079.50" y2="753.00" stroke="#222" stroke-width="2.6" stroke-linecap="butt"/>
<line x1="353.67" y1="767.00" x2="353.67" y2="759.50" stroke="#222" stroke-width="2.6" stroke-linecap="butt"/>
<line x1="561.05" y1="767.00" x2="561.05" y2="759.50" stroke="#222" stroke-width="2.6" stroke-linecap="butt"/>
<line x1="768.43" y1="767.00" x2="768.43" y2="759.50" stroke="#222" stroke-width="2.6" stroke-linecap="butt"/>
<line x1="975.81" y1="767.00" x2="975.81" y2="759.50" stroke="#222" stroke-width="2.6" stroke-linecap="butt"/>
<line x1="208.50" y1="749.63" x2="222.50" y2="749.63" stroke="#222" stroke-width="2.6" stroke-linecap="butt"/>
<line x1="208.50" y1="506.51" x2="222.50" y2="506.51" stroke="#222" stroke-width="2.6" stroke-linecap="butt"/>
<line x1="208.50" y1="263.39" x2="222.50" y2="263.39" stroke="#222" stroke-width="2.6" stroke-linecap="butt"/>
<line x1="208.50" y1="628.07" x2="216.00" y2="628.07" stroke="#222" stroke-width="2.6" stroke-linecap="butt"/>
<line x1="208.50" y1="384.95" x2="216.00" y2="384.95" stroke="#222" stroke-width="2.6" stroke-linecap="butt"/>
<line x1="208.50" y1="141.83" x2="216.00" y2="141.83" stroke="#222" stroke-width="2.6" stroke-linecap="butt"/>
<text x="249.98" y="817.00" font-family="'Liberation Serif','Times New Roman',serif" font-size="46" text-anchor="middle" fill="#000">400</text>
<text x="457.36" y="817.00" font-family="'Liberation Serif','Times New Roman',serif" font-size="46" text-anchor="middle" fill="#000">500</text>
<text x="664.74" y="817.00" font-family="'Liberation Serif','Times New Roman',serif" font-size="46" text-anchor="middle" fill="#000">600</text>
<text x="872.12" y="817.00" font-family="'Liberation Serif','Times New Roman',serif" font-size="46" text-anchor="middle" fill="#000">700</text>
<text x="1079.50" y="817.00" font-family="'Liberation Serif','Times New Roman',serif" font-size="46" text-anchor="middle" fill="#000">800</text>
<text x="192.60" y="763.93" font-family="'Liberation Serif','Times New Roman',serif" font-size="46" text-anchor="end" fill="#000">0.0</text>
<text x="192.60" y="520.81" font-family="'Liberation Serif','Times New Roman',serif" font-size="46" text-anchor="end" fill="#000">0.7</text>
<text x="192.60" y="277.69" font-family="'Liberation Serif','Times New Roman',serif" font-size="46" text-anchor="end" fill="#000">1.4</text>
<text transform="translate(6.18,94.62) scale(1.0666,1)" font-family="'Liberation Sans',Arial,sans-serif" font-size="73.72" font-weight="normal" fill="#000">(a)</text>
<text transform="translate(129.32,64.19) scale(1.0156,1)" font-family="'Liberation Serif','Times New Roman',serif" font-size="45.29" font-weight="normal" fill="#000">×10</text>
<text transform="translate(202.22,39.62) scale(1.5593,1)" font-family="'Liberation Serif','Times New Roman',serif" font-size="18.51" font-weight="normal" fill="#8a8a8a">^</text>
<text transform="translate(216.42,48.93) scale(0.9317,1)" font-family="'Liberation Serif','Times New Roman',serif" font-size="47.27" font-weight="normal" fill="#000">4</text>
<text transform="translate(425.70,891.20) scale(1.0271,1)" font-family="'Liberation Serif','Times New Roman',serif" font-size="61.89" font-weight="normal" fill="#000">Wavelength (nm)</text>
<text transform="translate(85.51,619.67) rotate(-90) scale(0.9725,1)" font-family="'Liberation Serif','Times New Roman',serif" font-size="64.22" font-weight="normal" fill="#000">PL intensity (a. u.)</text>
<line x1="791.50" y1="98.00" x2="897.50" y2="98.00" stroke="#464646" stroke-width="5.5" stroke-linecap="round"/>
<text transform="translate(911.80,111.99) scale(1.1058,1)" font-family="'Liberation Serif','Times New Roman',serif" font-size="40.57" font-weight="bold" fill="#000">Pristine</text>
<line x1="791.50" y1="154.25" x2="897.50" y2="154.25" stroke="#ff3838" stroke-width="5.5" stroke-linecap="round"/>
<text transform="translate(910.00,168.54) scale(1.0434,1)" font-family="'Liberation Serif','Times New Roman',serif" font-size="43.19" font-weight="bold" fill="#000">100°C</text>
<line x1="791.50" y1="210.50" x2="897.50" y2="210.50" stroke="#0a64e6" stroke-width="5.5" stroke-linecap="round"/>
<text transform="translate(910.00,224.79) scale(1.0434,1)" font-family="'Liberation Serif','Times New Roman',serif" font-size="43.19" font-weight="bold" fill="#000">150°C</text>
<line x1="791.50" y1="266.75" x2="897.50" y2="266.75" stroke="#00a862" stroke-width="5.5" stroke-linecap="round"/>
<text transform="translate(911.83,281.04) scale(1.0267,1)" font-family="'Liberation Serif','Times New Roman',serif" font-size="43.19" font-weight="bold" fill="#000">200°C</text>
<line x1="791.50" y1="323.00" x2="897.50" y2="323.00" stroke="#c76fe6" stroke-width="5.5" stroke-linecap="round"/>
<text transform="translate(911.83,337.29) scale(1.0267,1)" font-family="'Liberation Serif','Times New Roman',serif" font-size="43.19" font-weight="bold" fill="#000">250°C</text>
<line x1="791.50" y1="379.25" x2="897.50" y2="379.25" stroke="#de9c00" stroke-width="5.5" stroke-linecap="round"/>
<text transform="translate(911.83,393.54) scale(1.0267,1)" font-family="'Liberation Serif','Times New Roman',serif" font-size="43.19" font-weight="bold" fill="#000">300°C</text>
<rect x="1342.00" y="51.50" width="876.00" height="715.00" fill="none" stroke="#1e1e1e" stroke-width="2.8"/>
<line x1="1383.71" y1="766.50" x2="1383.71" y2="752.50" stroke="#222" stroke-width="2.6" stroke-linecap="butt"/>
<line x1="1592.29" y1="766.50" x2="1592.29" y2="752.50" stroke="#222" stroke-width="2.6" stroke-linecap="butt"/>
<line x1="1800.86" y1="766.50" x2="1800.86" y2="752.50" stroke="#222" stroke-width="2.6" stroke-linecap="butt"/>
<line x1="2009.43" y1="766.50" x2="2009.43" y2="752.50" stroke="#222" stroke-width="2.6" stroke-linecap="butt"/>
<line x1="2218.00" y1="766.50" x2="2218.00" y2="752.50" stroke="#222" stroke-width="2.6" stroke-linecap="butt"/>
<line x1="1488.00" y1="766.50" x2="1488.00" y2="759.00" stroke="#222" stroke-width="2.6" stroke-linecap="butt"/>
<line x1="1696.57" y1="766.50" x2="1696.57" y2="759.00" stroke="#222" stroke-width="2.6" stroke-linecap="butt"/>
<line x1="1905.14" y1="766.50" x2="1905.14" y2="759.00" stroke="#222" stroke-width="2.6" stroke-linecap="butt"/>
<line x1="2113.71" y1="766.50" x2="2113.71" y2="759.00" stroke="#222" stroke-width="2.6" stroke-linecap="butt"/>
<line x1="1342.00" y1="739.00" x2="1356.00" y2="739.00" stroke="#222" stroke-width="2.6" stroke-linecap="butt"/>
<line x1="1342.00" y1="491.50" x2="1356.00" y2="491.50" stroke="#222" stroke-width="2.6" stroke-linecap="butt"/>
<line x1="1342.00" y1="244.00" x2="1356.00" y2="244.00" stroke="#222" stroke-width="2.6" stroke-linecap="butt"/>
<line x1="1342.00" y1="615.25" x2="1349.50" y2="615.25" stroke="#222" stroke-width="2.6" stroke-linecap="butt"/>
<line x1="1342.00" y1="367.75" x2="1349.50" y2="367.75" stroke="#222" stroke-width="2.6" stroke-linecap="butt"/>
<line x1="1342.00" y1="120.25" x2="1349.50" y2="120.25" stroke="#222" stroke-width="2.6" stroke-linecap="butt"/>
<text x="1383.71" y="817.50" font-family="'Liberation Serif','Times New Roman',serif" font-size="46" text-anchor="middle" fill="#000">400</text>
<text x="1592.29" y="817.50" font-family="'Liberation Serif','Times New Roman',serif" font-size="46" text-anchor="middle" fill="#000">500</text>
<text x="1800.86" y="817.50" font-family="'Liberation Serif','Times New Roman',serif" font-size="46" text-anchor="middle" fill="#000">600</text>
<text x="2009.43" y="817.50" font-family="'Liberation Serif','Times New Roman',serif" font-size="46" text-anchor="middle" fill="#000">700</text>
<text x="2218.00" y="817.50" font-family="'Liberation Serif','Times New Roman',serif" font-size="46" text-anchor="middle" fill="#000">800</text>
<text x="1324.80" y="753.20" font-family="'Liberation Serif','Times New Roman',serif" font-size="46" text-anchor="end" fill="#000">0.0</text>
<text x="1324.80" y="505.70" font-family="'Liberation Serif','Times New Roman',serif" font-size="46" text-anchor="end" fill="#000">0.9</text>
<text x="1324.80" y="258.20" font-family="'Liberation Serif','Times New Roman',serif" font-size="46" text-anchor="end" fill="#000">1.8</text>
<text transform="translate(1135.94,96.92) scale(1.0531,1)" font-family="'Liberation Sans',Arial,sans-serif" font-size="73.72" font-weight="normal" fill="#000">(b)</text>
<text transform="translate(1264.72,64.18) scale(1.0026,1)" font-family="'Liberation Serif','Times New Roman',serif" font-size="45.88" font-weight="normal" fill="#000">×10</text>
<text transform="translate(1335.50,39.14) scale(1.4842,1)" font-family="'Liberation Serif','Times New Roman',serif" font-size="20.21" font-weight="normal" fill="#8a8a8a">^</text>
<text transform="translate(1351.84,46.18) scale(1.0181,1)" font-family="'Liberation Serif','Times New Roman',serif" font-size="42.42" font-weight="normal" fill="#000">4</text>
<text transform="translate(1558.50,885.19) scale(1.0275,1)" font-family="'Liberation Serif','Times New Roman',serif" font-size="62.44" font-weight="normal" fill="#000">Wavelength (nm)</text>
<text transform="translate(1218.48,620.09) rotate(-90) scale(0.9849,1)" font-family="'Liberation Serif','Times New Roman',serif" font-size="63.89" font-weight="normal" fill="#000">PL intensity (a. u.)</text>
<line x1="1935.00" y1="87.60" x2="2041.60" y2="87.60" stroke="#464646" stroke-width="4.2" stroke-linecap="round"/>
<text transform="translate(2054.38,103.19) scale(1.1320,1)" font-family="'Liberation Serif','Times New Roman',serif" font-size="40.57" font-weight="bold" fill="#000">Pristine</text>
<line x1="1935.00" y1="144.20" x2="2041.60" y2="144.20" stroke="#ff3838" stroke-width="3.8" stroke-linecap="round"/>
<text transform="translate(2051.66,158.81) scale(1.0412,1)" font-family="'Liberation Serif','Times New Roman',serif" font-size="44.26" font-weight="bold" fill="#000">30s</text>
<line x1="1935.00" y1="200.80" x2="2041.60" y2="200.80" stroke="#0a64e6" stroke-width="4.2" stroke-linecap="round"/>
<text transform="translate(2052.13,215.41) scale(1.0335,1)" font-family="'Liberation Serif','Times New Roman',serif" font-size="44.26" font-weight="bold" fill="#000">90s</text>
<line x1="1935.00" y1="257.20" x2="2041.60" y2="257.20" stroke="#00a862" stroke-width="3.8" stroke-linecap="round"/>
<text transform="translate(2053.34,272.04) scale(1.0668,1)" font-family="'Liberation Serif','Times New Roman',serif" font-size="42.94" font-weight="bold" fill="#000">120s</text>
<rect x="211.50" y="954.20" width="867.00" height="707.80" fill="none" stroke="#1e1e1e" stroke-width="2.8"/>
<line x1="230.77" y1="1662.00" x2="230.77" y2="1648.00" stroke="#222" stroke-width="2.6" stroke-linecap="butt"/>
<line x1="423.43" y1="1662.00" x2="423.43" y2="1648.00" stroke="#222" stroke-width="2.6" stroke-linecap="butt"/>
<line x1="616.10" y1="1662.00" x2="616.10" y2="1648.00" stroke="#222" stroke-width="2.6" stroke-linecap="butt"/>
<line x1="808.77" y1="1662.00" x2="808.77" y2="1648.00" stroke="#222" stroke-width="2.6" stroke-linecap="butt"/>
<line x1="1001.43" y1="1662.00" x2="1001.43" y2="1648.00" stroke="#222" stroke-width="2.6" stroke-linecap="butt"/>
<line x1="327.10" y1="1662.00" x2="327.10" y2="1654.50" stroke="#222" stroke-width="2.6" stroke-linecap="butt"/>
<line x1="519.77" y1="1662.00" x2="519.77" y2="1654.50" stroke="#222" stroke-width="2.6" stroke-linecap="butt"/>
<line x1="712.43" y1="1662.00" x2="712.43" y2="1654.50" stroke="#222" stroke-width="2.6" stroke-linecap="butt"/>
<line x1="905.10" y1="1662.00" x2="905.10" y2="1654.50" stroke="#222" stroke-width="2.6" stroke-linecap="butt"/>
<line x1="211.50" y1="1637.16" x2="225.50" y2="1637.16" stroke="#222" stroke-width="2.6" stroke-linecap="butt"/>
<line x1="211.50" y1="1438.48" x2="225.50" y2="1438.48" stroke="#222" stroke-width="2.6" stroke-linecap="butt"/>
<line x1="211.50" y1="1239.80" x2="225.50" y2="1239.80" stroke="#222" stroke-width="2.6" stroke-linecap="butt"/>
<line x1="211.50" y1="1041.12" x2="225.50" y2="1041.12" stroke="#222" stroke-width="2.6" stroke-linecap="butt"/>
<line x1="211.50" y1="1537.82" x2="219.00" y2="1537.82" stroke="#222" stroke-width="2.6" stroke-linecap="butt"/>
<line x1="211.50" y1="1339.14" x2="219.00" y2="1339.14" stroke="#222" stroke-width="2.6" stroke-linecap="butt"/>
<line x1="211.50" y1="1140.46" x2="219.00" y2="1140.46" stroke="#222" stroke-width="2.6" stroke-linecap="butt"/>
<text x="230.77" y="1711.20" font-family="'Liberation Serif','Times New Roman',serif" font-size="46" text-anchor="middle" fill="#000">250</text>
<text x="423.43" y="1711.20" font-family="'Liberation Serif','Times New Roman',serif" font-size="46" text-anchor="middle" fill="#000">300</text>
<text x="616.10" y="1711.20" font-family="'Liberation Serif','Times New Roman',serif" font-size="46" text-anchor="middle" fill="#000">350</text>
<text x="808.77" y="1711.20" font-family="'Liberation Serif','Times New Roman',serif" font-size="46" text-anchor="middle" fill="#000">400</text>
<text x="1001.43" y="1711.20" font-family="'Liberation Serif','Times New Roman',serif" font-size="46" text-anchor="middle" fill="#000">450</text>
<text x="194.30" y="1650.66" font-family="'Liberation Serif','Times New Roman',serif" font-size="46" text-anchor="end" fill="#000">0.0</text>
<text x="194.30" y="1451.98" font-family="'Liberation Serif','Times New Roman',serif" font-size="46" text-anchor="end" fill="#000">0.8</text>
<text x="194.30" y="1253.30" font-family="'Liberation Serif','Times New Roman',serif" font-size="46" text-anchor="end" fill="#000">1.6</text>
<text x="194.30" y="1054.62" font-family="'Liberation Serif','Times New Roman',serif" font-size="46" text-anchor="end" fill="#000">2.4</text>
<text transform="translate(32.67,957.54) scale(1.0838,1)" font-family="'Liberation Sans',Arial,sans-serif" font-size="72.66" font-weight="normal" fill="#000">(c)</text>
<text transform="translate(138.99,960.74) scale(1.0520,1)" font-family="'Liberation Serif','Times New Roman',serif" font-size="42.94" font-weight="normal" fill="#000">×10</text>
<text transform="translate(211.48,936.12) scale(1.4120,1)" font-family="'Liberation Serif','Times New Roman',serif" font-size="18.51" font-weight="normal" fill="#8a8a8a">^</text>
<text transform="translate(225.56,946.97) scale(0.9329,1)" font-family="'Liberation Serif','Times New Roman',serif" font-size="46.62" font-weight="normal" fill="#000">6</text>
<text transform="translate(422.90,1779.80) scale(1.0402,1)" font-family="'Liberation Serif','Times New Roman',serif" font-size="61.89" font-weight="normal" fill="#000">Wavelength (nm)</text>
<text transform="translate(88.81,1502.37) rotate(-90) scale(1.0012,1)" font-family="'Liberation Serif','Times New Roman',serif" font-size="62.33" font-weight="normal" fill="#000">PL intensity (a.u)</text>
<line x1="803.00" y1="987.60" x2="907.50" y2="987.60" stroke="#464646" stroke-width="5.2" stroke-linecap="round"/>
<text transform="translate(920.09,1003.67) scale(1.0724,1)" font-family="'Liberation Serif','Times New Roman',serif" font-size="42.57" font-weight="bold" fill="#000">Pristine</text>
<line x1="803.00" y1="1044.00" x2="907.50" y2="1044.00" stroke="#ff3838" stroke-width="4.2" stroke-linecap="round"/>
<text transform="translate(919.10,1059.22) scale(1.0194,1)" font-family="'Liberation Serif','Times New Roman',serif" font-size="44.20" font-weight="bold" fill="#000">100°C</text>
<line x1="803.00" y1="1099.80" x2="907.50" y2="1099.80" stroke="#0a64e6" stroke-width="4.6" stroke-linecap="round"/>
<text transform="translate(919.10,1115.02) scale(1.0194,1)" font-family="'Liberation Serif','Times New Roman',serif" font-size="44.20" font-weight="bold" fill="#000">150°C</text>
<line x1="803.00" y1="1155.50" x2="907.50" y2="1155.50" stroke="#00a862" stroke-width="3.6" stroke-linecap="round"/>
<text transform="translate(920.93,1170.72) scale(1.0032,1)" font-family="'Liberation Serif','Times New Roman',serif" font-size="44.20" font-weight="bold" fill="#000">200°C</text>
<line x1="803.00" y1="1211.30" x2="907.50" y2="1211.30" stroke="#c76fe6" stroke-width="3.6" stroke-linecap="round"/>
<text transform="translate(920.93,1226.52) scale(1.0032,1)" font-family="'Liberation Serif','Times New Roman',serif" font-size="44.20" font-weight="bold" fill="#000">250°C</text>
<line x1="803.00" y1="1266.80" x2="907.50" y2="1266.80" stroke="#de9c00" stroke-width="5.2" stroke-linecap="round"/>
<text transform="translate(920.93,1282.02) scale(1.0032,1)" font-family="'Liberation Serif','Times New Roman',serif" font-size="44.20" font-weight="bold" fill="#000">300°C</text>
<rect x="1318.80" y="955.50" width="890.00" height="725.20" fill="none" stroke="#1e1e1e" stroke-width="2.8"/>
<line x1="1338.58" y1="1680.70" x2="1338.58" y2="1666.70" stroke="#222" stroke-width="2.6" stroke-linecap="butt"/>
<line x1="1536.36" y1="1680.70" x2="1536.36" y2="1666.70" stroke="#222" stroke-width="2.6" stroke-linecap="butt"/>
<line x1="1734.13" y1="1680.70" x2="1734.13" y2="1666.70" stroke="#222" stroke-width="2.6" stroke-linecap="butt"/>
<line x1="1931.91" y1="1680.70" x2="1931.91" y2="1666.70" stroke="#222" stroke-width="2.6" stroke-linecap="butt"/>
<line x1="2129.69" y1="1680.70" x2="2129.69" y2="1666.70" stroke="#222" stroke-width="2.6" stroke-linecap="butt"/>
<line x1="1437.47" y1="1680.70" x2="1437.47" y2="1673.20" stroke="#222" stroke-width="2.6" stroke-linecap="butt"/>
<line x1="1635.24" y1="1680.70" x2="1635.24" y2="1673.20" stroke="#222" stroke-width="2.6" stroke-linecap="butt"/>
<line x1="1833.02" y1="1680.70" x2="1833.02" y2="1673.20" stroke="#222" stroke-width="2.6" stroke-linecap="butt"/>
<line x1="2030.80" y1="1680.70" x2="2030.80" y2="1673.20" stroke="#222" stroke-width="2.6" stroke-linecap="butt"/>
<line x1="1318.80" y1="1652.81" x2="1332.80" y2="1652.81" stroke="#222" stroke-width="2.6" stroke-linecap="butt"/>
<line x1="1318.80" y1="1373.88" x2="1332.80" y2="1373.88" stroke="#222" stroke-width="2.6" stroke-linecap="butt"/>
<line x1="1318.80" y1="1094.96" x2="1332.80" y2="1094.96" stroke="#222" stroke-width="2.6" stroke-linecap="butt"/>
<line x1="1318.80" y1="1513.35" x2="1326.30" y2="1513.35" stroke="#222" stroke-width="2.6" stroke-linecap="butt"/>
<line x1="1318.80" y1="1234.42" x2="1326.30" y2="1234.42" stroke="#222" stroke-width="2.6" stroke-linecap="butt"/>
<text x="1338.58" y="1732.70" font-family="'Liberation Serif','Times New Roman',serif" font-size="46" text-anchor="middle" fill="#000">250</text>
<text x="1536.36" y="1732.70" font-family="'Liberation Serif','Times New Roman',serif" font-size="46" text-anchor="middle" fill="#000">300</text>
<text x="1734.13" y="1732.70" font-family="'Liberation Serif','Times New Roman',serif" font-size="46" text-anchor="middle" fill="#000">350</text>
<text x="1931.91" y="1732.70" font-family="'Liberation Serif','Times New Roman',serif" font-size="46" text-anchor="middle" fill="#000">400</text>
<text x="2129.69" y="1732.70" font-family="'Liberation Serif','Times New Roman',serif" font-size="46" text-anchor="middle" fill="#000">450</text>
<text x="1303.30" y="1666.11" font-family="'Liberation Serif','Times New Roman',serif" font-size="46" text-anchor="end" fill="#000">0</text>
<text x="1303.30" y="1387.18" font-family="'Liberation Serif','Times New Roman',serif" font-size="46" text-anchor="end" fill="#000">1</text>
<text x="1303.30" y="1108.26" font-family="'Liberation Serif','Times New Roman',serif" font-size="46" text-anchor="end" fill="#000">2</text>
<text transform="translate(1135.94,957.59) scale(1.0716,1)" font-family="'Liberation Sans',Arial,sans-serif" font-size="72.45" font-weight="normal" fill="#000">(d)</text>
<text transform="translate(1243.48,963.06) scale(0.9892,1)" font-family="'Liberation Serif','Times New Roman',serif" font-size="47.06" font-weight="normal" fill="#000">×10</text>
<text transform="translate(1316.35,938.36) scale(1.4830,1)" font-family="'Liberation Serif','Times New Roman',serif" font-size="21.91" font-weight="normal" fill="#8a8a8a">^</text>
<text transform="translate(1332.91,947.37) scale(0.9578,1)" font-family="'Liberation Serif','Times New Roman',serif" font-size="46.62" font-weight="normal" fill="#000">6</text>
<text transform="translate(1540.20,1801.38) scale(1.0273,1)" font-family="'Liberation Serif','Times New Roman',serif" font-size="63.44" font-weight="normal" fill="#000">Wavelength (nm)</text>
<text transform="translate(1229.18,1530.80) rotate(-90) scale(0.9934,1)" font-family="'Liberation Serif','Times New Roman',serif" font-size="63.89" font-weight="normal" fill="#000">PL intensity (a. u.)</text>
<line x1="1924.50" y1="992.50" x2="2030.50" y2="992.50" stroke="#464646" stroke-width="5.2" stroke-linecap="round"/>
<text transform="translate(2045.18,1008.85) scale(1.0267,1)" font-family="'Liberation Serif','Times New Roman',serif" font-size="45.00" font-weight="bold" fill="#000">Pristine</text>
<line x1="1924.50" y1="1049.80" x2="2030.50" y2="1049.80" stroke="#ff3838" stroke-width="3.6" stroke-linecap="round"/>
<text transform="translate(2042.53,1064.94) scale(1.0836,1)" font-family="'Liberation Serif','Times New Roman',serif" font-size="43.09" font-weight="bold" fill="#000">30s</text>
<line x1="1924.50" y1="1107.20" x2="2030.50" y2="1107.20" stroke="#0a64e6" stroke-width="4.6" stroke-linecap="round"/>
<text transform="translate(2043.01,1122.34) scale(1.0755,1)" font-family="'Liberation Serif','Times New Roman',serif" font-size="43.09" font-weight="bold" fill="#000">90s</text>
<line x1="1924.50" y1="1164.60" x2="2030.50" y2="1164.60" stroke="#00a862" stroke-width="4.0" stroke-linecap="round"/>
<text transform="translate(2043.30,1179.79) scale(1.0147,1)" font-family="'Liberation Serif','Times New Roman',serif" font-size="45.59" font-weight="bold" fill="#000">120s</text>
<rect x="209.20" y="1846.50" width="888.60" height="726.30" fill="none" stroke="#1e1e1e" stroke-width="2.8"/>
<line x1="209.20" y1="2572.80" x2="209.20" y2="2558.80" stroke="#222" stroke-width="2.6" stroke-linecap="butt"/>
<line x1="443.04" y1="2572.80" x2="443.04" y2="2558.80" stroke="#222" stroke-width="2.6" stroke-linecap="butt"/>
<line x1="676.88" y1="2572.80" x2="676.88" y2="2558.80" stroke="#222" stroke-width="2.6" stroke-linecap="butt"/>
<line x1="910.73" y1="2572.80" x2="910.73" y2="2558.80" stroke="#222" stroke-width="2.6" stroke-linecap="butt"/>
<line x1="326.12" y1="2572.80" x2="326.12" y2="2565.30" stroke="#222" stroke-width="2.6" stroke-linecap="butt"/>
<line x1="559.96" y1="2572.80" x2="559.96" y2="2565.30" stroke="#222" stroke-width="2.6" stroke-linecap="butt"/>
<line x1="793.81" y1="2572.80" x2="793.81" y2="2565.30" stroke="#222" stroke-width="2.6" stroke-linecap="butt"/>
<line x1="1027.65" y1="2572.80" x2="1027.65" y2="2565.30" stroke="#222" stroke-width="2.6" stroke-linecap="butt"/>
<line x1="209.20" y1="2572.80" x2="223.20" y2="2572.80" stroke="#222" stroke-width="2.6" stroke-linecap="butt"/>
<line x1="209.20" y1="2420.85" x2="223.20" y2="2420.85" stroke="#222" stroke-width="2.6" stroke-linecap="butt"/>
<line x1="209.20" y1="2268.91" x2="223.20" y2="2268.91" stroke="#222" stroke-width="2.6" stroke-linecap="butt"/>
<line x1="209.20" y1="2116.96" x2="223.20" y2="2116.96" stroke="#222" stroke-width="2.6" stroke-linecap="butt"/>
<line x1="209.20" y1="1965.02" x2="223.20" y2="1965.02" stroke="#222" stroke-width="2.6" stroke-linecap="butt"/>
<line x1="209.20" y1="2527.06" x2="216.20" y2="2527.06" stroke="#222" stroke-width="2.6" stroke-linecap="butt"/>
<line x1="209.20" y1="2500.30" x2="216.20" y2="2500.30" stroke="#222" stroke-width="2.6" stroke-linecap="butt"/>
<line x1="209.20" y1="2481.32" x2="216.20" y2="2481.32" stroke="#222" stroke-width="2.6" stroke-linecap="butt"/>
<line x1="209.20" y1="2466.59" x2="216.20" y2="2466.59" stroke="#222" stroke-width="2.6" stroke-linecap="butt"/>
<line x1="209.20" y1="2454.56" x2="216.20" y2="2454.56" stroke="#222" stroke-width="2.6" stroke-linecap="butt"/>
<line x1="209.20" y1="2444.39" x2="216.20" y2="2444.39" stroke="#222" stroke-width="2.6" stroke-linecap="butt"/>
<line x1="209.20" y1="2435.58" x2="216.20" y2="2435.58" stroke="#222" stroke-width="2.6" stroke-linecap="butt"/>
<line x1="209.20" y1="2427.81" x2="216.20" y2="2427.81" stroke="#222" stroke-width="2.6" stroke-linecap="butt"/>
<line x1="209.20" y1="2375.11" x2="216.20" y2="2375.11" stroke="#222" stroke-width="2.6" stroke-linecap="butt"/>
<line x1="209.20" y1="2348.36" x2="216.20" y2="2348.36" stroke="#222" stroke-width="2.6" stroke-linecap="butt"/>
<line x1="209.20" y1="2329.37" x2="216.20" y2="2329.37" stroke="#222" stroke-width="2.6" stroke-linecap="butt"/>
<line x1="209.20" y1="2314.65" x2="216.20" y2="2314.65" stroke="#222" stroke-width="2.6" stroke-linecap="butt"/>
<line x1="209.20" y1="2302.62" x2="216.20" y2="2302.62" stroke="#222" stroke-width="2.6" stroke-linecap="butt"/>
<line x1="209.20" y1="2292.45" x2="216.20" y2="2292.45" stroke="#222" stroke-width="2.6" stroke-linecap="butt"/>
<line x1="209.20" y1="2283.63" x2="216.20" y2="2283.63" stroke="#222" stroke-width="2.6" stroke-linecap="butt"/>
<line x1="209.20" y1="2275.86" x2="216.20" y2="2275.86" stroke="#222" stroke-width="2.6" stroke-linecap="butt"/>
<line x1="209.20" y1="2223.17" x2="216.20" y2="2223.17" stroke="#222" stroke-width="2.6" stroke-linecap="butt"/>
<line x1="209.20" y1="2196.41" x2="216.20" y2="2196.41" stroke="#222" stroke-width="2.6" stroke-linecap="butt"/>
<line x1="209.20" y1="2177.43" x2="216.20" y2="2177.43" stroke="#222" stroke-width="2.6" stroke-linecap="butt"/>
<line x1="209.20" y1="2162.70" x2="216.20" y2="2162.70" stroke="#222" stroke-width="2.6" stroke-linecap="butt"/>
<line x1="209.20" y1="2150.67" x2="216.20" y2="2150.67" stroke="#222" stroke-width="2.6" stroke-linecap="butt"/>
<line x1="209.20" y1="2140.50" x2="216.20" y2="2140.50" stroke="#222" stroke-width="2.6" stroke-linecap="butt"/>
<line x1="209.20" y1="2131.69" x2="216.20" y2="2131.69" stroke="#222" stroke-width="2.6" stroke-linecap="butt"/>
<line x1="209.20" y1="2123.92" x2="216.20" y2="2123.92" stroke="#222" stroke-width="2.6" stroke-linecap="butt"/>
<line x1="209.20" y1="2071.22" x2="216.20" y2="2071.22" stroke="#222" stroke-width="2.6" stroke-linecap="butt"/>
<line x1="209.20" y1="2044.47" x2="216.20" y2="2044.47" stroke="#222" stroke-width="2.6" stroke-linecap="butt"/>
<line x1="209.20" y1="2025.48" x2="216.20" y2="2025.48" stroke="#222" stroke-width="2.6" stroke-linecap="butt"/>
<line x1="209.20" y1="2010.76" x2="216.20" y2="2010.76" stroke="#222" stroke-width="2.6" stroke-linecap="butt"/>
<line x1="209.20" y1="1998.73" x2="216.20" y2="1998.73" stroke="#222" stroke-width="2.6" stroke-linecap="butt"/>
<line x1="209.20" y1="1988.55" x2="216.20" y2="1988.55" stroke="#222" stroke-width="2.6" stroke-linecap="butt"/>
<line x1="209.20" y1="1979.74" x2="216.20" y2="1979.74" stroke="#222" stroke-width="2.6" stroke-linecap="butt"/>
<line x1="209.20" y1="1971.97" x2="216.20" y2="1971.97" stroke="#222" stroke-width="2.6" stroke-linecap="butt"/>
<line x1="209.20" y1="1919.28" x2="216.20" y2="1919.28" stroke="#222" stroke-width="2.6" stroke-linecap="butt"/>
<line x1="209.20" y1="1892.52" x2="216.20" y2="1892.52" stroke="#222" stroke-width="2.6" stroke-linecap="butt"/>
<line x1="209.20" y1="1873.54" x2="216.20" y2="1873.54" stroke="#222" stroke-width="2.6" stroke-linecap="butt"/>
<line x1="209.20" y1="1858.81" x2="216.20" y2="1858.81" stroke="#222" stroke-width="2.6" stroke-linecap="butt"/>
<text x="209.20" y="2623.00" font-family="'Liberation Serif','Times New Roman',serif" font-size="46" text-anchor="middle" fill="#000">300</text>
<text x="443.04" y="2623.00" font-family="'Liberation Serif','Times New Roman',serif" font-size="46" text-anchor="middle" fill="#000">400</text>
<text x="676.88" y="2623.00" font-family="'Liberation Serif','Times New Roman',serif" font-size="46" text-anchor="middle" fill="#000">500</text>
<text x="910.73" y="2623.00" font-family="'Liberation Serif','Times New Roman',serif" font-size="46" text-anchor="middle" fill="#000">600</text>
<text x="176.80" y="2589.60" font-family="'Liberation Serif','Times New Roman',serif" font-size="46" text-anchor="end" fill="#000">10</text>
<text x="179.30" y="2572.50" font-family="'Liberation Serif','Times New Roman',serif" font-size="31" fill="#000">1</text>
<text x="176.80" y="2437.65" font-family="'Liberation Serif','Times New Roman',serif" font-size="46" text-anchor="end" fill="#000">10</text>
<text x="179.30" y="2420.55" font-family="'Liberation Serif','Times New Roman',serif" font-size="31" fill="#000">2</text>
<text x="176.80" y="2285.71" font-family="'Liberation Serif','Times New Roman',serif" font-size="46" text-anchor="end" fill="#000">10</text>
<text x="179.30" y="2268.61" font-family="'Liberation Serif','Times New Roman',serif" font-size="31" fill="#000">3</text>
<text x="176.80" y="2133.76" font-family="'Liberation Serif','Times New Roman',serif" font-size="46" text-anchor="end" fill="#000">10</text>
<text x="179.30" y="2116.66" font-family="'Liberation Serif','Times New Roman',serif" font-size="31" fill="#000">4</text>
<text x="176.80" y="1981.82" font-family="'Liberation Serif','Times New Roman',serif" font-size="46" text-anchor="end" fill="#000">10</text>
<text x="179.30" y="1964.72" font-family="'Liberation Serif','Times New Roman',serif" font-size="31" fill="#000">5</text>
<text transform="translate(32.32,1832.89) scale(1.1005,1)" font-family="'Liberation Sans',Arial,sans-serif" font-size="72.45" font-weight="normal" fill="#000">(e)</text>
<text transform="translate(428.50,2714.18) scale(1.0334,1)" font-family="'Liberation Serif','Times New Roman',serif" font-size="63.44" font-weight="normal" fill="#000">Wavelength (nm)</text>
<text transform="translate(80.58,2413.38) rotate(-90) scale(0.9793,1)" font-family="'Liberation Serif','Times New Roman',serif" font-size="63.89" font-weight="normal" fill="#000">PL intensity (a. u.)</text>
<text transform="translate(886.83,1901.81) scale(1.0683,1)" font-family="'Liberation Serif','Times New Roman',serif" font-size="44.37" font-weight="bold" fill="#000">S-Pristine</text>
<text transform="translate(527.30,2049.07) scale(1.0351,1)" font-family="'Liberation Serif','Times New Roman',serif" font-size="63.73" font-weight="bold" fill="#1010f5">QY = 50.08%</text>
<rect x="1335.90" y="1843.00" width="897.90" height="731.50" fill="none" stroke="#1e1e1e" stroke-width="2.8"/>
<line x1="1335.90" y1="2574.50" x2="1335.90" y2="2560.50" stroke="#222" stroke-width="2.6" stroke-linecap="butt"/>
<line x1="1572.19" y1="2574.50" x2="1572.19" y2="2560.50" stroke="#222" stroke-width="2.6" stroke-linecap="butt"/>
<line x1="1808.48" y1="2574.50" x2="1808.48" y2="2560.50" stroke="#222" stroke-width="2.6" stroke-linecap="butt"/>
<line x1="2044.77" y1="2574.50" x2="2044.77" y2="2560.50" stroke="#222" stroke-width="2.6" stroke-linecap="butt"/>
<line x1="1454.04" y1="2574.50" x2="1454.04" y2="2567.00" stroke="#222" stroke-width="2.6" stroke-linecap="butt"/>
<line x1="1690.33" y1="2574.50" x2="1690.33" y2="2567.00" stroke="#222" stroke-width="2.6" stroke-linecap="butt"/>
<line x1="1926.62" y1="2574.50" x2="1926.62" y2="2567.00" stroke="#222" stroke-width="2.6" stroke-linecap="butt"/>
<line x1="2162.91" y1="2574.50" x2="2162.91" y2="2567.00" stroke="#222" stroke-width="2.6" stroke-linecap="butt"/>
<line x1="1335.90" y1="2574.50" x2="1349.90" y2="2574.50" stroke="#222" stroke-width="2.6" stroke-linecap="butt"/>
<line x1="1335.90" y1="2421.47" x2="1349.90" y2="2421.47" stroke="#222" stroke-width="2.6" stroke-linecap="butt"/>
<line x1="1335.90" y1="2268.43" x2="1349.90" y2="2268.43" stroke="#222" stroke-width="2.6" stroke-linecap="butt"/>
<line x1="1335.90" y1="2115.40" x2="1349.90" y2="2115.40" stroke="#222" stroke-width="2.6" stroke-linecap="butt"/>
<line x1="1335.90" y1="1962.37" x2="1349.90" y2="1962.37" stroke="#222" stroke-width="2.6" stroke-linecap="butt"/>
<line x1="1335.90" y1="2528.43" x2="1342.90" y2="2528.43" stroke="#222" stroke-width="2.6" stroke-linecap="butt"/>
<line x1="1335.90" y1="2501.48" x2="1342.90" y2="2501.48" stroke="#222" stroke-width="2.6" stroke-linecap="butt"/>
<line x1="1335.90" y1="2482.36" x2="1342.90" y2="2482.36" stroke="#222" stroke-width="2.6" stroke-linecap="butt"/>
<line x1="1335.90" y1="2467.53" x2="1342.90" y2="2467.53" stroke="#222" stroke-width="2.6" stroke-linecap="butt"/>
<line x1="1335.90" y1="2455.42" x2="1342.90" y2="2455.42" stroke="#222" stroke-width="2.6" stroke-linecap="butt"/>
<line x1="1335.90" y1="2445.17" x2="1342.90" y2="2445.17" stroke="#222" stroke-width="2.6" stroke-linecap="butt"/>
<line x1="1335.90" y1="2436.30" x2="1342.90" y2="2436.30" stroke="#222" stroke-width="2.6" stroke-linecap="butt"/>
<line x1="1335.90" y1="2428.47" x2="1342.90" y2="2428.47" stroke="#222" stroke-width="2.6" stroke-linecap="butt"/>
<line x1="1335.90" y1="2375.40" x2="1342.90" y2="2375.40" stroke="#222" stroke-width="2.6" stroke-linecap="butt"/>
<line x1="1335.90" y1="2348.45" x2="1342.90" y2="2348.45" stroke="#222" stroke-width="2.6" stroke-linecap="butt"/>
<line x1="1335.90" y1="2329.33" x2="1342.90" y2="2329.33" stroke="#222" stroke-width="2.6" stroke-linecap="butt"/>
<line x1="1335.90" y1="2314.50" x2="1342.90" y2="2314.50" stroke="#222" stroke-width="2.6" stroke-linecap="butt"/>
<line x1="1335.90" y1="2302.38" x2="1342.90" y2="2302.38" stroke="#222" stroke-width="2.6" stroke-linecap="butt"/>
<line x1="1335.90" y1="2292.14" x2="1342.90" y2="2292.14" stroke="#222" stroke-width="2.6" stroke-linecap="butt"/>
<line x1="1335.90" y1="2283.26" x2="1342.90" y2="2283.26" stroke="#222" stroke-width="2.6" stroke-linecap="butt"/>
<line x1="1335.90" y1="2275.44" x2="1342.90" y2="2275.44" stroke="#222" stroke-width="2.6" stroke-linecap="butt"/>
<line x1="1335.90" y1="2222.37" x2="1342.90" y2="2222.37" stroke="#222" stroke-width="2.6" stroke-linecap="butt"/>
<line x1="1335.90" y1="2195.42" x2="1342.90" y2="2195.42" stroke="#222" stroke-width="2.6" stroke-linecap="butt"/>
<line x1="1335.90" y1="2176.30" x2="1342.90" y2="2176.30" stroke="#222" stroke-width="2.6" stroke-linecap="butt"/>
<line x1="1335.90" y1="2161.47" x2="1342.90" y2="2161.47" stroke="#222" stroke-width="2.6" stroke-linecap="butt"/>
<line x1="1335.90" y1="2149.35" x2="1342.90" y2="2149.35" stroke="#222" stroke-width="2.6" stroke-linecap="butt"/>
<line x1="1335.90" y1="2139.10" x2="1342.90" y2="2139.10" stroke="#222" stroke-width="2.6" stroke-linecap="butt"/>
<line x1="1335.90" y1="2130.23" x2="1342.90" y2="2130.23" stroke="#222" stroke-width="2.6" stroke-linecap="butt"/>
<line x1="1335.90" y1="2122.40" x2="1342.90" y2="2122.40" stroke="#222" stroke-width="2.6" stroke-linecap="butt"/>
<line x1="1335.90" y1="2069.33" x2="1342.90" y2="2069.33" stroke="#222" stroke-width="2.6" stroke-linecap="butt"/>
<line x1="1335.90" y1="2042.38" x2="1342.90" y2="2042.38" stroke="#222" stroke-width="2.6" stroke-linecap="butt"/>
<line x1="1335.90" y1="2023.26" x2="1342.90" y2="2023.26" stroke="#222" stroke-width="2.6" stroke-linecap="butt"/>
<line x1="1335.90" y1="2008.43" x2="1342.90" y2="2008.43" stroke="#222" stroke-width="2.6" stroke-linecap="butt"/>
<line x1="1335.90" y1="1996.32" x2="1342.90" y2="1996.32" stroke="#222" stroke-width="2.6" stroke-linecap="butt"/>
<line x1="1335.90" y1="1986.07" x2="1342.90" y2="1986.07" stroke="#222" stroke-width="2.6" stroke-linecap="butt"/>
<line x1="1335.90" y1="1977.20" x2="1342.90" y2="1977.20" stroke="#222" stroke-width="2.6" stroke-linecap="butt"/>
<line x1="1335.90" y1="1969.37" x2="1342.90" y2="1969.37" stroke="#222" stroke-width="2.6" stroke-linecap="butt"/>
<line x1="1335.90" y1="1916.30" x2="1342.90" y2="1916.30" stroke="#222" stroke-width="2.6" stroke-linecap="butt"/>
<line x1="1335.90" y1="1889.35" x2="1342.90" y2="1889.35" stroke="#222" stroke-width="2.6" stroke-linecap="butt"/>
<line x1="1335.90" y1="1870.23" x2="1342.90" y2="1870.23" stroke="#222" stroke-width="2.6" stroke-linecap="butt"/>
<line x1="1335.90" y1="1855.40" x2="1342.90" y2="1855.40" stroke="#222" stroke-width="2.6" stroke-linecap="butt"/>
<text x="1335.90" y="2625.50" font-family="'Liberation Serif','Times New Roman',serif" font-size="46" text-anchor="middle" fill="#000">300</text>
<text x="1572.19" y="2625.50" font-family="'Liberation Serif','Times New Roman',serif" font-size="46" text-anchor="middle" fill="#000">400</text>
<text x="1808.48" y="2625.50" font-family="'Liberation Serif','Times New Roman',serif" font-size="46" text-anchor="middle" fill="#000">500</text>
<text x="2044.77" y="2625.50" font-family="'Liberation Serif','Times New Roman',serif" font-size="46" text-anchor="middle" fill="#000">600</text>
<text x="1304.30" y="2591.30" font-family="'Liberation Serif','Times New Roman',serif" font-size="46" text-anchor="end" fill="#000">10</text>
<text x="1306.80" y="2574.20" font-family="'Liberation Serif','Times New Roman',serif" font-size="31" fill="#000">1</text>
<text x="1304.30" y="2438.27" font-family="'Liberation Serif','Times New Roman',serif" font-size="46" text-anchor="end" fill="#000">10</text>
<text x="1306.80" y="2421.17" font-family="'Liberation Serif','Times New Roman',serif" font-size="31" fill="#000">2</text>
<text x="1304.30" y="2285.23" font-family="'Liberation Serif','Times New Roman',serif" font-size="46" text-anchor="end" fill="#000">10</text>
<text x="1306.80" y="2268.13" font-family="'Liberation Serif','Times New Roman',serif" font-size="31" fill="#000">3</text>
<text x="1304.30" y="2132.20" font-family="'Liberation Serif','Times New Roman',serif" font-size="46" text-anchor="end" fill="#000">10</text>
<text x="1306.80" y="2115.10" font-family="'Liberation Serif','Times New Roman',serif" font-size="31" fill="#000">4</text>
<text x="1304.30" y="1979.17" font-family="'Liberation Serif','Times New Roman',serif" font-size="46" text-anchor="end" fill="#000">10</text>
<text x="1306.80" y="1962.07" font-family="'Liberation Serif','Times New Roman',serif" font-size="31" fill="#000">5</text>
<text transform="translate(1163.39,1841.24) scale(1.0900,1)" font-family="'Liberation Sans',Arial,sans-serif" font-size="73.62" font-weight="normal" fill="#000">(f)</text>
<text transform="translate(1558.50,2716.38) scale(1.0366,1)" font-family="'Liberation Serif','Times New Roman',serif" font-size="63.44" font-weight="normal" fill="#000">Wavelength (nm)</text>
<text transform="translate(1205.18,2415.99) rotate(-90) scale(0.9876,1)" font-family="'Liberation Serif','Times New Roman',serif" font-size="63.89" font-weight="normal" fill="#000">PL intensity (a. u.)</text>
<text transform="translate(2078.79,1896.27) scale(1.0346,1)" font-family="'Liberation Serif','Times New Roman',serif" font-size="46.62" font-weight="bold" fill="#000">S-120s</text>
<text transform="translate(1662.56,2029.14) scale(1.0261,1)" font-family="'Liberation Serif','Times New Roman',serif" font-size="65.06" font-weight="bold" fill="#1010f5">QY = 64.70%</text>
</svg></body></html>
